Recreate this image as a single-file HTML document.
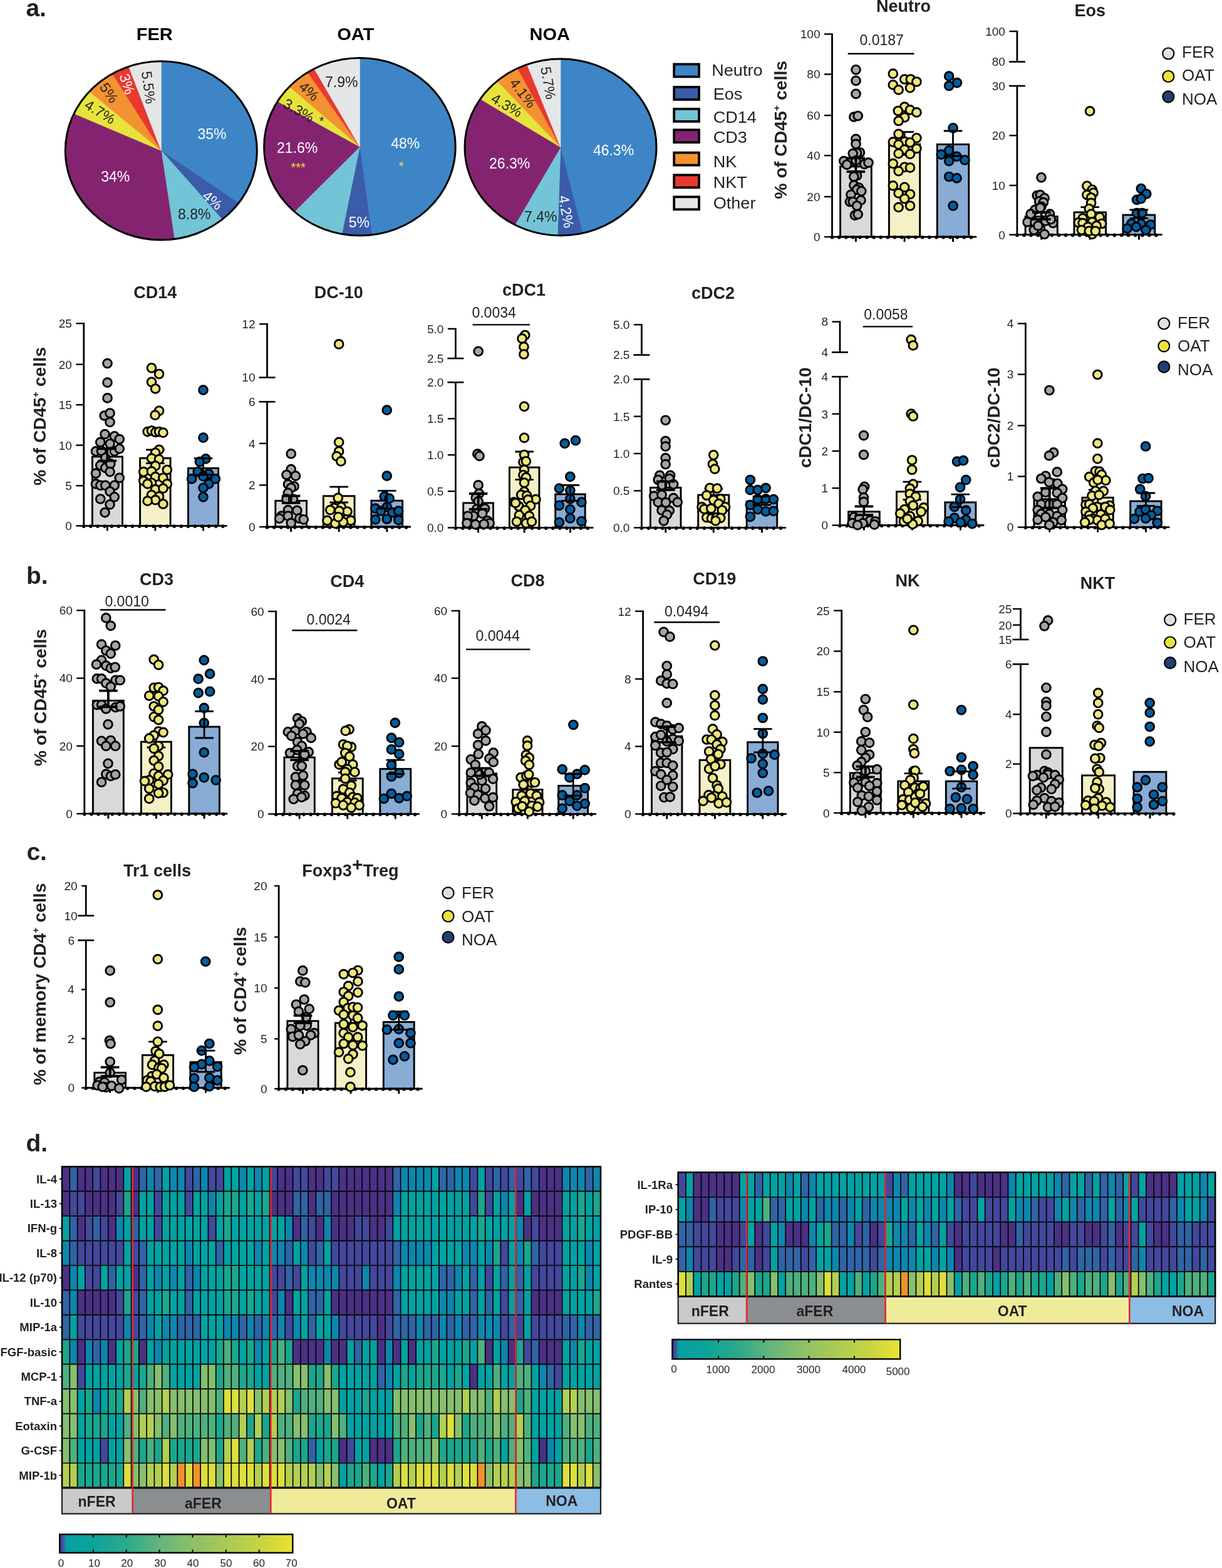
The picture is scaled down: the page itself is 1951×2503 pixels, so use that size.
<!DOCTYPE html><html><head><meta charset="utf-8"><title>Figure</title><style>html,body{margin:0;padding:0;background:#fff;}svg{display:block;}</style></head><body><svg xmlns="http://www.w3.org/2000/svg" width="1951" height="2503" viewBox="0 0 1951 2503" font-family="'Liberation Sans', Arial, sans-serif" fill="#231f20"><rect width="1951" height="2503" fill="#fff"/><text x="41.4" y="25.9" font-size="39" font-weight="bold">a.</text><text x="42" y="931.6" font-size="39" font-weight="bold">b.</text><text x="42.4" y="1373.4" font-size="39" font-weight="bold">c.</text><text x="41.4" y="1838.3" font-size="39" font-weight="bold">d.</text><text transform="matrix(1.075 0 0 1 246.8 63.7)" font-size="27" font-weight="bold" text-anchor="middle" fill="#000">FER</text><path d="M257.3 240.4L257.3 97.8A153 142.6 0 0 1 381.1 324.2Z" fill="#3d85c6" stroke="#3d85c6" stroke-width="0.6"/><path d="M257.3 240.4L381.1 324.2A153 142.6 0 0 1 354.8 350.3Z" fill="#3a5ca9" stroke="#3a5ca9" stroke-width="0.6"/><path d="M257.3 240.4L354.8 350.3A153 142.6 0 0 1 278.4 381.6Z" fill="#73c4d7" stroke="#73c4d7" stroke-width="0.6"/><path d="M257.3 240.4L278.4 381.6A153 142.6 0 0 1 118.1 181.3Z" fill="#842471" stroke="#842471" stroke-width="0.6"/><path d="M257.3 240.4L118.1 181.3A153 142.6 0 0 1 142.5 146.1Z" fill="#e8e33b" stroke="#e8e33b" stroke-width="0.6"/><path d="M257.3 240.4L142.5 146.1A153 142.6 0 0 1 179.4 117.7Z" fill="#f39231" stroke="#f39231" stroke-width="0.6"/><path d="M257.3 240.4L179.4 117.7A153 142.6 0 0 1 205.5 106.2Z" fill="#e8392f" stroke="#e8392f" stroke-width="0.6"/><path d="M257.3 240.4L205.5 106.2A153 142.6 0 0 1 257.3 97.8Z" fill="#e5e6e7" stroke="#e5e6e7" stroke-width="0.6"/><ellipse cx="257.3" cy="240.4" rx="153" ry="142.6" fill="none" stroke="#000" stroke-width="3"/><text transform="matrix(1.075 0 0 1 567.8 63.7)" font-size="27" font-weight="bold" text-anchor="middle" fill="#000">OAT</text><path d="M574.4 234.3L574.4 92.6A152.8 141.7 0 0 1 593.6 374.9Z" fill="#3d85c6" stroke="#3d85c6" stroke-width="0.6"/><path d="M574.4 234.3L593.6 374.9A152.8 141.7 0 0 1 545.8 373.5Z" fill="#3a5ca9" stroke="#3a5ca9" stroke-width="0.6"/><path d="M574.4 234.3L545.8 373.5A152.8 141.7 0 0 1 470.2 337.9Z" fill="#73c4d7" stroke="#73c4d7" stroke-width="0.6"/><path d="M574.4 234.3L470.2 337.9A152.8 141.7 0 0 1 443.1 161.8Z" fill="#842471" stroke="#842471" stroke-width="0.6"/><path d="M574.4 234.3L443.1 161.8A152.8 141.7 0 0 1 462 138.3Z" fill="#e8e33b" stroke="#e8e33b" stroke-width="0.6"/><path d="M574.4 234.3L462 138.3A152.8 141.7 0 0 1 491.3 115.4Z" fill="#f39231" stroke="#f39231" stroke-width="0.6"/><path d="M574.4 234.3L491.3 115.4A152.8 141.7 0 0 1 501.6 109.7Z" fill="#e8392f" stroke="#e8392f" stroke-width="0.6"/><path d="M574.4 234.3L501.6 109.7A152.8 141.7 0 0 1 574.4 92.6Z" fill="#e5e6e7" stroke="#e5e6e7" stroke-width="0.6"/><ellipse cx="574.4" cy="234.3" rx="152.8" ry="141.7" fill="none" stroke="#000" stroke-width="3"/><text transform="matrix(1.075 0 0 1 877.7 63.7)" font-size="27" font-weight="bold" text-anchor="middle" fill="#000">NOA</text><path d="M895 235L895 94A153 141 0 0 1 930.2 372.2Z" fill="#3d85c6" stroke="#3d85c6" stroke-width="0.6"/><path d="M895 235L930.2 372.2A153 141 0 0 1 890.2 375.9Z" fill="#3a5ca9" stroke="#3a5ca9" stroke-width="0.6"/><path d="M895 235L890.2 375.9A153 141 0 0 1 822.1 359Z" fill="#73c4d7" stroke="#73c4d7" stroke-width="0.6"/><path d="M895 235L822.1 359A153 141 0 0 1 766.9 158Z" fill="#842471" stroke="#842471" stroke-width="0.6"/><path d="M895 235L766.9 158A153 141 0 0 1 793.8 129.2Z" fill="#e8e33b" stroke="#e8e33b" stroke-width="0.6"/><path d="M895 235L793.8 129.2A153 141 0 0 1 826.4 109Z" fill="#f39231" stroke="#f39231" stroke-width="0.6"/><path d="M895 235L826.4 109A153 141 0 0 1 841.4 102.9Z" fill="#e8392f" stroke="#e8392f" stroke-width="0.6"/><path d="M895 235L841.4 102.9A153 141 0 0 1 895 94Z" fill="#e5e6e7" stroke="#e5e6e7" stroke-width="0.6"/><ellipse cx="895" cy="235" rx="153" ry="141" fill="none" stroke="#000" stroke-width="3"/><text x="338.4" y="221.9" font-size="23" text-anchor="middle" fill="#ffffff">35%</text><text x="184.3" y="290" font-size="23" text-anchor="middle" fill="#ffffff">34%</text><text x="310.2" y="350.2" font-size="23" text-anchor="middle">8.8%</text><text x="339.4" y="327.6" font-size="23" text-anchor="middle" fill="#ffffff" transform="rotate(40 339.4 319.6)">4%</text><text x="159.8" y="186.5" font-size="23" text-anchor="middle" transform="rotate(32 159.8 178.5)">4.7%</text><text x="174" y="156" font-size="23" text-anchor="middle" transform="rotate(55 174 148)">5%</text><text x="203" y="142" font-size="23" text-anchor="middle" fill="#ffffff" transform="rotate(72 203 134)">3%</text><text x="237.4" y="147.6" font-size="23" text-anchor="middle" transform="rotate(82 237.4 139.6)">5.5%</text><text x="647.2" y="237" font-size="23" text-anchor="middle" fill="#ffffff">48%</text><text x="474.7" y="244.4" font-size="23" text-anchor="middle" fill="#ffffff">21.6%</text><text x="573.4" y="362.9" font-size="23" text-anchor="middle" fill="#ffffff">5%</text><text x="545.2" y="138.7" font-size="23" text-anchor="middle">7.9%</text><text x="493.5" y="153.7" font-size="23" text-anchor="middle" transform="rotate(42 493.5 145.7)">4%</text><text x="477" y="184.3" font-size="23" text-anchor="middle" transform="rotate(30 477 176.3)">3.3%</text><text x="979.5" y="247.8" font-size="23" text-anchor="middle" fill="#ffffff">46.3%</text><text x="813.7" y="269.1" font-size="23" text-anchor="middle" fill="#ffffff">26.3%</text><text x="863.2" y="354.4" font-size="23" text-anchor="middle">7.4%</text><text x="904.2" y="345.7" font-size="23" text-anchor="middle" fill="#ffffff" transform="rotate(80 904.2 337.7)">4.2%</text><text x="809.2" y="176" font-size="23" text-anchor="middle" transform="rotate(30 809.2 168)">4.3%</text><text x="835" y="156.6" font-size="23" text-anchor="middle" transform="rotate(52 835 148.6)">4.1%</text><text x="875.5" y="140.5" font-size="23" text-anchor="middle" transform="rotate(80 875.5 132.5)">5.7%</text><text x="640.7" y="272" font-size="20" text-anchor="middle" fill="#f2e43a">*</text><text x="476.1" y="274" font-size="20" text-anchor="middle" fill="#f2e43a">***</text><text x="513.7" y="200" font-size="20" text-anchor="middle">*</text><rect x="1076.2" y="102.5" width="39.8" height="20" fill="#3d85c6" stroke="#000" stroke-width="3.8"/><text transform="matrix(1.04 0 0 1 1136.3 121.2)" font-size="26">Neutro</text><rect x="1076.2" y="139" width="39.8" height="20" fill="#3a5ca9" stroke="#000" stroke-width="3.8"/><text transform="matrix(1.04 0 0 1 1138.8 158.5)" font-size="26">Eos</text><rect x="1076.2" y="173.9" width="39.8" height="20" fill="#73c4d7" stroke="#000" stroke-width="3.8"/><text transform="matrix(1.04 0 0 1 1138.8 195.8)" font-size="26">CD14</text><rect x="1076.2" y="207.3" width="39.8" height="20" fill="#842471" stroke="#000" stroke-width="3.8"/><text transform="matrix(1.04 0 0 1 1138.8 228.3)" font-size="26">CD3</text><rect x="1076.2" y="243.7" width="39.8" height="20" fill="#f39231" stroke="#000" stroke-width="3.8"/><text transform="matrix(1.04 0 0 1 1138.8 267.2)" font-size="26">NK</text><rect x="1076.2" y="279.4" width="39.8" height="20" fill="#e8392f" stroke="#000" stroke-width="3.8"/><text transform="matrix(1.04 0 0 1 1138.8 299.7)" font-size="26">NKT</text><rect x="1076.2" y="314.3" width="39.8" height="20" fill="#e5e6e7" stroke="#000" stroke-width="3.8"/><text transform="matrix(1.04 0 0 1 1138.8 333)" font-size="26">Other</text><rect x="1341.6" y="265.8" width="49.7" height="112.3" fill="#d9d9d9" stroke="#000" stroke-width="2.9"/><rect x="1419.4" y="230.4" width="49.3" height="147.7" fill="#f6f0c7" stroke="#000" stroke-width="2.9"/><rect x="1496.3" y="230.5" width="50.5" height="147.6" fill="#88acd6" stroke="#000" stroke-width="2.9"/><line x1="1328.5" y1="53.2" x2="1328.5" y2="378.1" stroke="#000" stroke-width="2.8"/><line x1="1316" y1="54.4" x2="1328.5" y2="54.4" stroke="#000" stroke-width="2.4"/><text x="1309.5" y="61.2" font-size="19" text-anchor="end">100</text><line x1="1316" y1="118.5" x2="1328.5" y2="118.5" stroke="#000" stroke-width="2.4"/><text x="1309.5" y="125.3" font-size="19" text-anchor="end">80</text><line x1="1316" y1="184.2" x2="1328.5" y2="184.2" stroke="#000" stroke-width="2.4"/><text x="1309.5" y="191" font-size="19" text-anchor="end">60</text><line x1="1316" y1="248.3" x2="1328.5" y2="248.3" stroke="#000" stroke-width="2.4"/><text x="1309.5" y="255.1" font-size="19" text-anchor="end">40</text><line x1="1316" y1="314" x2="1328.5" y2="314" stroke="#000" stroke-width="2.4"/><text x="1309.5" y="320.8" font-size="19" text-anchor="end">20</text><line x1="1316" y1="378.1" x2="1328.5" y2="378.1" stroke="#000" stroke-width="2.4"/><text x="1309.5" y="384.9" font-size="19" text-anchor="end">0</text><line x1="1327.1" y1="378.1" x2="1559.3" y2="378.1" stroke="#000" stroke-width="2.8"/><circle cx="1328.5" cy="378.8" r="2.8" fill="#000"/><circle cx="1339.6" cy="378.8" r="2.8" fill="#000"/><circle cx="1350.7" cy="378.8" r="2.8" fill="#000"/><circle cx="1361.8" cy="378.8" r="2.8" fill="#000"/><circle cx="1372.9" cy="378.8" r="2.8" fill="#000"/><circle cx="1384" cy="378.8" r="2.8" fill="#000"/><circle cx="1395.1" cy="378.8" r="2.8" fill="#000"/><circle cx="1406.2" cy="378.8" r="2.8" fill="#000"/><circle cx="1417.3" cy="378.8" r="2.8" fill="#000"/><circle cx="1428.4" cy="378.8" r="2.8" fill="#000"/><circle cx="1439.5" cy="378.8" r="2.8" fill="#000"/><circle cx="1450.6" cy="378.8" r="2.8" fill="#000"/><circle cx="1461.7" cy="378.8" r="2.8" fill="#000"/><circle cx="1472.8" cy="378.8" r="2.8" fill="#000"/><circle cx="1483.9" cy="378.8" r="2.8" fill="#000"/><circle cx="1495" cy="378.8" r="2.8" fill="#000"/><circle cx="1506.1" cy="378.8" r="2.8" fill="#000"/><circle cx="1517.2" cy="378.8" r="2.8" fill="#000"/><circle cx="1528.3" cy="378.8" r="2.8" fill="#000"/><circle cx="1539.4" cy="378.8" r="2.8" fill="#000"/><circle cx="1550.5" cy="378.8" r="2.8" fill="#000"/><line x1="1366.4" y1="378.1" x2="1366.4" y2="386.1" stroke="#000" stroke-width="2.9"/><line x1="1444.1" y1="378.1" x2="1444.1" y2="386.1" stroke="#000" stroke-width="2.9"/><line x1="1521.5" y1="378.1" x2="1521.5" y2="386.1" stroke="#000" stroke-width="2.9"/><path d="M1444.1 210.7V247.3M1429.3 210.7H1458.9M1429.3 247.3H1458.9" stroke="#000" stroke-width="2.8" fill="none"/><circle cx="1366.5" cy="111.3" r="6.9" fill="#a4a5a8" stroke="#000" stroke-width="2.9"/><circle cx="1366.5" cy="128.9" r="6.9" fill="#a4a5a8" stroke="#000" stroke-width="2.9"/><circle cx="1366.5" cy="149.8" r="6.9" fill="#a4a5a8" stroke="#000" stroke-width="2.9"/><circle cx="1363.3" cy="186.6" r="6.9" fill="#a4a5a8" stroke="#000" stroke-width="2.9"/><circle cx="1369.7" cy="185" r="6.9" fill="#a4a5a8" stroke="#000" stroke-width="2.9"/><circle cx="1366.5" cy="221.9" r="6.9" fill="#a4a5a8" stroke="#000" stroke-width="2.9"/><circle cx="1366.5" cy="229.9" r="6.9" fill="#a4a5a8" stroke="#000" stroke-width="2.9"/><circle cx="1372.9" cy="243.5" r="6.9" fill="#a4a5a8" stroke="#000" stroke-width="2.9"/><circle cx="1368.1" cy="244.3" r="6.9" fill="#a4a5a8" stroke="#000" stroke-width="2.9"/><circle cx="1361.7" cy="245.1" r="6.9" fill="#a4a5a8" stroke="#000" stroke-width="2.9"/><circle cx="1347.2" cy="257.1" r="6.9" fill="#a4a5a8" stroke="#000" stroke-width="2.9"/><circle cx="1356.9" cy="259.6" r="6.9" fill="#a4a5a8" stroke="#000" stroke-width="2.9"/><circle cx="1366.5" cy="256.3" r="6.9" fill="#a4a5a8" stroke="#000" stroke-width="2.9"/><circle cx="1380.1" cy="262" r="6.9" fill="#a4a5a8" stroke="#000" stroke-width="2.9"/><circle cx="1386.5" cy="259.6" r="6.9" fill="#a4a5a8" stroke="#000" stroke-width="2.9"/><circle cx="1352.1" cy="262.8" r="6.9" fill="#a4a5a8" stroke="#000" stroke-width="2.9"/><circle cx="1368.1" cy="280.4" r="6.9" fill="#a4a5a8" stroke="#000" stroke-width="2.9"/><circle cx="1363.3" cy="282" r="6.9" fill="#a4a5a8" stroke="#000" stroke-width="2.9"/><circle cx="1363.3" cy="295.6" r="6.9" fill="#a4a5a8" stroke="#000" stroke-width="2.9"/><circle cx="1371.3" cy="299.6" r="6.9" fill="#a4a5a8" stroke="#000" stroke-width="2.9"/><circle cx="1368.1" cy="302.8" r="6.9" fill="#a4a5a8" stroke="#000" stroke-width="2.9"/><circle cx="1375.3" cy="305.2" r="6.9" fill="#a4a5a8" stroke="#000" stroke-width="2.9"/><circle cx="1358.5" cy="310.8" r="6.9" fill="#a4a5a8" stroke="#000" stroke-width="2.9"/><circle cx="1356.9" cy="322.1" r="6.9" fill="#a4a5a8" stroke="#000" stroke-width="2.9"/><circle cx="1361.7" cy="322.1" r="6.9" fill="#a4a5a8" stroke="#000" stroke-width="2.9"/><circle cx="1374.5" cy="319.6" r="6.9" fill="#a4a5a8" stroke="#000" stroke-width="2.9"/><circle cx="1368.1" cy="328.5" r="6.9" fill="#a4a5a8" stroke="#000" stroke-width="2.9"/><circle cx="1364.9" cy="343.7" r="6.9" fill="#a4a5a8" stroke="#000" stroke-width="2.9"/><circle cx="1369.7" cy="342.1" r="6.9" fill="#a4a5a8" stroke="#000" stroke-width="2.9"/><circle cx="1425.8" cy="117.7" r="6.9" fill="#efe77a" stroke="#000" stroke-width="2.9"/><circle cx="1444.2" cy="126.5" r="6.9" fill="#efe77a" stroke="#000" stroke-width="2.9"/><circle cx="1453.8" cy="126.5" r="6.9" fill="#efe77a" stroke="#000" stroke-width="2.9"/><circle cx="1463.4" cy="130.5" r="6.9" fill="#efe77a" stroke="#000" stroke-width="2.9"/><circle cx="1425.8" cy="135.4" r="6.9" fill="#efe77a" stroke="#000" stroke-width="2.9"/><circle cx="1434.6" cy="143.4" r="6.9" fill="#efe77a" stroke="#000" stroke-width="2.9"/><circle cx="1453" cy="140.2" r="6.9" fill="#efe77a" stroke="#000" stroke-width="2.9"/><circle cx="1444.2" cy="170.6" r="6.9" fill="#efe77a" stroke="#000" stroke-width="2.9"/><circle cx="1433.8" cy="177" r="6.9" fill="#efe77a" stroke="#000" stroke-width="2.9"/><circle cx="1453" cy="175.4" r="6.9" fill="#efe77a" stroke="#000" stroke-width="2.9"/><circle cx="1463.4" cy="179.4" r="6.9" fill="#efe77a" stroke="#000" stroke-width="2.9"/><circle cx="1444.2" cy="187.4" r="6.9" fill="#efe77a" stroke="#000" stroke-width="2.9"/><circle cx="1434.6" cy="193" r="6.9" fill="#efe77a" stroke="#000" stroke-width="2.9"/><circle cx="1434.6" cy="213.9" r="6.9" fill="#efe77a" stroke="#000" stroke-width="2.9"/><circle cx="1463.4" cy="220.3" r="6.9" fill="#efe77a" stroke="#000" stroke-width="2.9"/><circle cx="1425.8" cy="226.7" r="6.9" fill="#efe77a" stroke="#000" stroke-width="2.9"/><circle cx="1444.2" cy="225.9" r="6.9" fill="#efe77a" stroke="#000" stroke-width="2.9"/><circle cx="1453" cy="227.5" r="6.9" fill="#efe77a" stroke="#000" stroke-width="2.9"/><circle cx="1434.6" cy="230.7" r="6.9" fill="#efe77a" stroke="#000" stroke-width="2.9"/><circle cx="1444.2" cy="238.7" r="6.9" fill="#efe77a" stroke="#000" stroke-width="2.9"/><circle cx="1463.4" cy="237.1" r="6.9" fill="#efe77a" stroke="#000" stroke-width="2.9"/><circle cx="1434.6" cy="245.1" r="6.9" fill="#efe77a" stroke="#000" stroke-width="2.9"/><circle cx="1453" cy="245.9" r="6.9" fill="#efe77a" stroke="#000" stroke-width="2.9"/><circle cx="1425.8" cy="261.2" r="6.9" fill="#efe77a" stroke="#000" stroke-width="2.9"/><circle cx="1444.2" cy="266.8" r="6.9" fill="#efe77a" stroke="#000" stroke-width="2.9"/><circle cx="1453" cy="267.6" r="6.9" fill="#efe77a" stroke="#000" stroke-width="2.9"/><circle cx="1434.6" cy="273.2" r="6.9" fill="#efe77a" stroke="#000" stroke-width="2.9"/><circle cx="1425.8" cy="296.4" r="6.9" fill="#efe77a" stroke="#000" stroke-width="2.9"/><circle cx="1444.2" cy="298.8" r="6.9" fill="#efe77a" stroke="#000" stroke-width="2.9"/><circle cx="1434.6" cy="308.4" r="6.9" fill="#efe77a" stroke="#000" stroke-width="2.9"/><circle cx="1453" cy="310" r="6.9" fill="#efe77a" stroke="#000" stroke-width="2.9"/><circle cx="1444.2" cy="317.2" r="6.9" fill="#efe77a" stroke="#000" stroke-width="2.9"/><circle cx="1434.6" cy="330.9" r="6.9" fill="#efe77a" stroke="#000" stroke-width="2.9"/><circle cx="1453" cy="328.5" r="6.9" fill="#efe77a" stroke="#000" stroke-width="2.9"/><circle cx="1515.2" cy="121.7" r="6.9" fill="#035ea0" stroke="#000" stroke-width="2.9"/><circle cx="1528" cy="132.1" r="6.9" fill="#035ea0" stroke="#000" stroke-width="2.9"/><circle cx="1515.2" cy="137" r="6.9" fill="#035ea0" stroke="#000" stroke-width="2.9"/><circle cx="1521.6" cy="204.3" r="6.9" fill="#035ea0" stroke="#000" stroke-width="2.9"/><circle cx="1502.7" cy="246.7" r="6.9" fill="#035ea0" stroke="#000" stroke-width="2.9"/><circle cx="1515.2" cy="240.3" r="6.9" fill="#035ea0" stroke="#000" stroke-width="2.9"/><circle cx="1527.5" cy="249.9" r="6.9" fill="#035ea0" stroke="#000" stroke-width="2.9"/><circle cx="1515.2" cy="257.1" r="6.9" fill="#035ea0" stroke="#000" stroke-width="2.9"/><circle cx="1540.4" cy="255.5" r="6.9" fill="#035ea0" stroke="#000" stroke-width="2.9"/><circle cx="1515.2" cy="282" r="6.9" fill="#035ea0" stroke="#000" stroke-width="2.9"/><circle cx="1527.5" cy="284.4" r="6.9" fill="#035ea0" stroke="#000" stroke-width="2.9"/><circle cx="1521.6" cy="328.5" r="6.9" fill="#035ea0" stroke="#000" stroke-width="2.9"/><path d="M1366.4 252.3V274M1351.6 252.3H1381.2M1351.6 274H1381.2" stroke="#000" stroke-width="3.8" fill="none"/><path d="M1521.5 209V249M1506.8 209H1536.3M1506.8 249H1536.3" stroke="#000" stroke-width="2.8" fill="none"/><line x1="1353.7" y1="85.7" x2="1459.4" y2="85.7" stroke="#000" stroke-width="2.4"/><text x="1407.7" y="72" font-size="23" text-anchor="middle">0.0187</text><text x="1442.5" y="19.3" font-size="27" font-weight="bold" text-anchor="middle">Neutro</text><text x="1256.5" y="207.3" font-size="27" font-weight="bold" text-anchor="middle" textLength="221" lengthAdjust="spacingAndGlyphs" transform="rotate(-90 1256.5 207.3)">% of CD45<tspan font-size="15" dy="-11">+</tspan><tspan dy="11"> cells</tspan></text><rect x="1637.1" y="345.6" width="51.2" height="29.1" fill="#d9d9d9" stroke="#000" stroke-width="2.9"/><rect x="1715" y="338.9" width="50.5" height="35.8" fill="#f6f0c7" stroke="#000" stroke-width="2.9"/><rect x="1793" y="343.1" width="50.8" height="31.6" fill="#88acd6" stroke="#000" stroke-width="2.9"/><line x1="1623.9" y1="48.8" x2="1623.9" y2="98.6" stroke="#000" stroke-width="2.8"/><line x1="1623.9" y1="135.9" x2="1623.9" y2="374.7" stroke="#000" stroke-width="2.8"/><line x1="1611.4" y1="50" x2="1623.9" y2="50" stroke="#000" stroke-width="2.4"/><text x="1604.9" y="56.8" font-size="19" text-anchor="end">100</text><line x1="1610.9" y1="98.6" x2="1636.9" y2="98.6" stroke="#000" stroke-width="2.6"/><text x="1604.9" y="105.4" font-size="19" text-anchor="end">80</text><line x1="1610.9" y1="137.1" x2="1636.9" y2="137.1" stroke="#000" stroke-width="2.6"/><text x="1604.9" y="143.9" font-size="19" text-anchor="end">30</text><line x1="1611.4" y1="216.3" x2="1623.9" y2="216.3" stroke="#000" stroke-width="2.4"/><text x="1604.9" y="223.1" font-size="19" text-anchor="end">20</text><line x1="1611.4" y1="296" x2="1623.9" y2="296" stroke="#000" stroke-width="2.4"/><text x="1604.9" y="302.8" font-size="19" text-anchor="end">10</text><line x1="1611.4" y1="374.7" x2="1623.9" y2="374.7" stroke="#000" stroke-width="2.4"/><text x="1604.9" y="381.5" font-size="19" text-anchor="end">0</text><line x1="1622.5" y1="374.7" x2="1855.7" y2="374.7" stroke="#000" stroke-width="2.8"/><circle cx="1623.9" cy="375.4" r="2.8" fill="#000"/><circle cx="1635" cy="375.4" r="2.8" fill="#000"/><circle cx="1646.1" cy="375.4" r="2.8" fill="#000"/><circle cx="1657.2" cy="375.4" r="2.8" fill="#000"/><circle cx="1668.3" cy="375.4" r="2.8" fill="#000"/><circle cx="1679.4" cy="375.4" r="2.8" fill="#000"/><circle cx="1690.5" cy="375.4" r="2.8" fill="#000"/><circle cx="1701.6" cy="375.4" r="2.8" fill="#000"/><circle cx="1712.7" cy="375.4" r="2.8" fill="#000"/><circle cx="1723.8" cy="375.4" r="2.8" fill="#000"/><circle cx="1734.9" cy="375.4" r="2.8" fill="#000"/><circle cx="1746" cy="375.4" r="2.8" fill="#000"/><circle cx="1757.1" cy="375.4" r="2.8" fill="#000"/><circle cx="1768.2" cy="375.4" r="2.8" fill="#000"/><circle cx="1779.3" cy="375.4" r="2.8" fill="#000"/><circle cx="1790.4" cy="375.4" r="2.8" fill="#000"/><circle cx="1801.5" cy="375.4" r="2.8" fill="#000"/><circle cx="1812.6" cy="375.4" r="2.8" fill="#000"/><circle cx="1823.7" cy="375.4" r="2.8" fill="#000"/><circle cx="1834.8" cy="375.4" r="2.8" fill="#000"/><circle cx="1845.9" cy="375.4" r="2.8" fill="#000"/><line x1="1662.7" y1="374.7" x2="1662.7" y2="382.7" stroke="#000" stroke-width="2.9"/><line x1="1740.2" y1="374.7" x2="1740.2" y2="382.7" stroke="#000" stroke-width="2.9"/><line x1="1818.4" y1="374.7" x2="1818.4" y2="382.7" stroke="#000" stroke-width="2.9"/><path d="M1740.2 330.7V344.3M1725.5 330.7H1755M1725.5 344.3H1755" stroke="#000" stroke-width="2.8" fill="none"/><circle cx="1662.5" cy="283.3" r="6.9" fill="#a4a5a8" stroke="#000" stroke-width="2.9"/><circle cx="1655.7" cy="312.1" r="6.9" fill="#a4a5a8" stroke="#000" stroke-width="2.9"/><circle cx="1660.8" cy="311.2" r="6.9" fill="#a4a5a8" stroke="#000" stroke-width="2.9"/><circle cx="1667.6" cy="316.3" r="6.9" fill="#a4a5a8" stroke="#000" stroke-width="2.9"/><circle cx="1659.1" cy="321.4" r="6.9" fill="#a4a5a8" stroke="#000" stroke-width="2.9"/><circle cx="1665.9" cy="323.1" r="6.9" fill="#a4a5a8" stroke="#000" stroke-width="2.9"/><circle cx="1662.5" cy="329.9" r="6.9" fill="#a4a5a8" stroke="#000" stroke-width="2.9"/><circle cx="1652.4" cy="334.9" r="6.9" fill="#a4a5a8" stroke="#000" stroke-width="2.9"/><circle cx="1660.8" cy="331.6" r="6.9" fill="#a4a5a8" stroke="#000" stroke-width="2.9"/><circle cx="1676.1" cy="341.7" r="6.9" fill="#a4a5a8" stroke="#000" stroke-width="2.9"/><circle cx="1645.6" cy="341.7" r="6.9" fill="#a4a5a8" stroke="#000" stroke-width="2.9"/><circle cx="1640.5" cy="354.4" r="6.9" fill="#a4a5a8" stroke="#000" stroke-width="2.9"/><circle cx="1652.4" cy="355.3" r="6.9" fill="#a4a5a8" stroke="#000" stroke-width="2.9"/><circle cx="1669.3" cy="352.7" r="6.9" fill="#a4a5a8" stroke="#000" stroke-width="2.9"/><circle cx="1681.2" cy="356.1" r="6.9" fill="#a4a5a8" stroke="#000" stroke-width="2.9"/><circle cx="1660.8" cy="364.6" r="6.9" fill="#a4a5a8" stroke="#000" stroke-width="2.9"/><circle cx="1650.7" cy="367.1" r="6.9" fill="#a4a5a8" stroke="#000" stroke-width="2.9"/><circle cx="1667.6" cy="373.9" r="6.9" fill="#a4a5a8" stroke="#000" stroke-width="2.9"/><circle cx="1657.4" cy="360.4" r="6.9" fill="#a4a5a8" stroke="#000" stroke-width="2.9"/><circle cx="1677.8" cy="350.2" r="6.9" fill="#a4a5a8" stroke="#000" stroke-width="2.9"/><circle cx="1740.1" cy="177.4" r="6.9" fill="#efe77a" stroke="#000" stroke-width="2.9"/><circle cx="1735.4" cy="296.8" r="6.9" fill="#efe77a" stroke="#000" stroke-width="2.9"/><circle cx="1743.8" cy="302.8" r="6.9" fill="#efe77a" stroke="#000" stroke-width="2.9"/><circle cx="1745.5" cy="307.8" r="6.9" fill="#efe77a" stroke="#000" stroke-width="2.9"/><circle cx="1735.4" cy="311.2" r="6.9" fill="#efe77a" stroke="#000" stroke-width="2.9"/><circle cx="1742.1" cy="315.5" r="6.9" fill="#efe77a" stroke="#000" stroke-width="2.9"/><circle cx="1742.1" cy="323.9" r="6.9" fill="#efe77a" stroke="#000" stroke-width="2.9"/><circle cx="1738.8" cy="333.3" r="6.9" fill="#efe77a" stroke="#000" stroke-width="2.9"/><circle cx="1742.1" cy="341.7" r="6.9" fill="#efe77a" stroke="#000" stroke-width="2.9"/><circle cx="1755.7" cy="346.8" r="6.9" fill="#efe77a" stroke="#000" stroke-width="2.9"/><circle cx="1728.6" cy="348.5" r="6.9" fill="#efe77a" stroke="#000" stroke-width="2.9"/><circle cx="1721.8" cy="355.3" r="6.9" fill="#efe77a" stroke="#000" stroke-width="2.9"/><circle cx="1728.6" cy="356.1" r="6.9" fill="#efe77a" stroke="#000" stroke-width="2.9"/><circle cx="1743.8" cy="354.4" r="6.9" fill="#efe77a" stroke="#000" stroke-width="2.9"/><circle cx="1759.1" cy="357" r="6.9" fill="#efe77a" stroke="#000" stroke-width="2.9"/><circle cx="1750.6" cy="360.4" r="6.9" fill="#efe77a" stroke="#000" stroke-width="2.9"/><circle cx="1737.1" cy="362.1" r="6.9" fill="#efe77a" stroke="#000" stroke-width="2.9"/><circle cx="1726.9" cy="367.1" r="6.9" fill="#efe77a" stroke="#000" stroke-width="2.9"/><circle cx="1743.8" cy="373.9" r="6.9" fill="#efe77a" stroke="#000" stroke-width="2.9"/><circle cx="1738.8" cy="368.8" r="6.9" fill="#efe77a" stroke="#000" stroke-width="2.9"/><circle cx="1748.9" cy="368.8" r="6.9" fill="#efe77a" stroke="#000" stroke-width="2.9"/><circle cx="1821.8" cy="301.1" r="6.9" fill="#035ea0" stroke="#000" stroke-width="2.9"/><circle cx="1830.2" cy="309.5" r="6.9" fill="#035ea0" stroke="#000" stroke-width="2.9"/><circle cx="1815" cy="318.9" r="6.9" fill="#035ea0" stroke="#000" stroke-width="2.9"/><circle cx="1821.8" cy="317.2" r="6.9" fill="#035ea0" stroke="#000" stroke-width="2.9"/><circle cx="1815" cy="340" r="6.9" fill="#035ea0" stroke="#000" stroke-width="2.9"/><circle cx="1823.5" cy="340" r="6.9" fill="#035ea0" stroke="#000" stroke-width="2.9"/><circle cx="1806.5" cy="357" r="6.9" fill="#035ea0" stroke="#000" stroke-width="2.9"/><circle cx="1821.8" cy="357" r="6.9" fill="#035ea0" stroke="#000" stroke-width="2.9"/><circle cx="1837" cy="358.7" r="6.9" fill="#035ea0" stroke="#000" stroke-width="2.9"/><circle cx="1799.7" cy="364.6" r="6.9" fill="#035ea0" stroke="#000" stroke-width="2.9"/><circle cx="1814.1" cy="362.1" r="6.9" fill="#035ea0" stroke="#000" stroke-width="2.9"/><circle cx="1829.4" cy="367.1" r="6.9" fill="#035ea0" stroke="#000" stroke-width="2.9"/><path d="M1662.7 339V350M1647.9 339H1677.5M1647.9 350H1677.5" stroke="#000" stroke-width="3.8" fill="none"/><path d="M1818.4 335V348.5M1803.6 335H1833.2M1803.6 348.5H1833.2" stroke="#000" stroke-width="2.8" fill="none"/><text x="1740.3" y="25.8" font-size="27" font-weight="bold" text-anchor="middle">Eos</text><rect x="147.4" y="729" width="48.1" height="110.4" fill="#d9d9d9" stroke="#000" stroke-width="2.9"/><rect x="223.6" y="731.4" width="48.5" height="108" fill="#f6f0c7" stroke="#000" stroke-width="2.9"/><rect x="300.5" y="747.4" width="48.1" height="92" fill="#88acd6" stroke="#000" stroke-width="2.9"/><line x1="133.8" y1="515.1" x2="133.8" y2="839.4" stroke="#000" stroke-width="2.8"/><line x1="121.3" y1="516.3" x2="133.8" y2="516.3" stroke="#000" stroke-width="2.4"/><text x="114.8" y="523.1" font-size="19" text-anchor="end">25</text><line x1="121.3" y1="581.7" x2="133.8" y2="581.7" stroke="#000" stroke-width="2.4"/><text x="114.8" y="588.5" font-size="19" text-anchor="end">20</text><line x1="121.3" y1="646.2" x2="133.8" y2="646.2" stroke="#000" stroke-width="2.4"/><text x="114.8" y="653" font-size="19" text-anchor="end">15</text><line x1="121.3" y1="710.7" x2="133.8" y2="710.7" stroke="#000" stroke-width="2.4"/><text x="114.8" y="717.5" font-size="19" text-anchor="end">10</text><line x1="121.3" y1="775.3" x2="133.8" y2="775.3" stroke="#000" stroke-width="2.4"/><text x="114.8" y="782.1" font-size="19" text-anchor="end">5</text><line x1="121.3" y1="839.4" x2="133.8" y2="839.4" stroke="#000" stroke-width="2.4"/><text x="114.8" y="846.2" font-size="19" text-anchor="end">0</text><line x1="132.4" y1="839.4" x2="362.6" y2="839.4" stroke="#000" stroke-width="2.8"/><circle cx="133.8" cy="840.1" r="2.8" fill="#000"/><circle cx="144.9" cy="840.1" r="2.8" fill="#000"/><circle cx="156" cy="840.1" r="2.8" fill="#000"/><circle cx="167.1" cy="840.1" r="2.8" fill="#000"/><circle cx="178.2" cy="840.1" r="2.8" fill="#000"/><circle cx="189.3" cy="840.1" r="2.8" fill="#000"/><circle cx="200.4" cy="840.1" r="2.8" fill="#000"/><circle cx="211.5" cy="840.1" r="2.8" fill="#000"/><circle cx="222.6" cy="840.1" r="2.8" fill="#000"/><circle cx="233.7" cy="840.1" r="2.8" fill="#000"/><circle cx="244.8" cy="840.1" r="2.8" fill="#000"/><circle cx="255.9" cy="840.1" r="2.8" fill="#000"/><circle cx="267" cy="840.1" r="2.8" fill="#000"/><circle cx="278.1" cy="840.1" r="2.8" fill="#000"/><circle cx="289.2" cy="840.1" r="2.8" fill="#000"/><circle cx="300.3" cy="840.1" r="2.8" fill="#000"/><circle cx="311.4" cy="840.1" r="2.8" fill="#000"/><circle cx="322.5" cy="840.1" r="2.8" fill="#000"/><circle cx="333.6" cy="840.1" r="2.8" fill="#000"/><circle cx="344.7" cy="840.1" r="2.8" fill="#000"/><circle cx="355.8" cy="840.1" r="2.8" fill="#000"/><line x1="171.4" y1="839.4" x2="171.4" y2="847.4" stroke="#000" stroke-width="2.9"/><line x1="247.9" y1="839.4" x2="247.9" y2="847.4" stroke="#000" stroke-width="2.9"/><line x1="324.6" y1="839.4" x2="324.6" y2="847.4" stroke="#000" stroke-width="2.9"/><path d="M247.9 718V739.6M233.1 718H262.7M233.1 739.6H262.7" stroke="#000" stroke-width="2.8" fill="none"/><circle cx="171.5" cy="580.1" r="6.9" fill="#a4a5a8" stroke="#000" stroke-width="2.9"/><circle cx="171.5" cy="610.6" r="6.9" fill="#a4a5a8" stroke="#000" stroke-width="2.9"/><circle cx="171.5" cy="635.4" r="6.9" fill="#a4a5a8" stroke="#000" stroke-width="2.9"/><circle cx="166.7" cy="663.5" r="6.9" fill="#a4a5a8" stroke="#000" stroke-width="2.9"/><circle cx="175.5" cy="659.5" r="6.9" fill="#a4a5a8" stroke="#000" stroke-width="2.9"/><circle cx="175.5" cy="673.9" r="6.9" fill="#a4a5a8" stroke="#000" stroke-width="2.9"/><circle cx="167.5" cy="693.1" r="6.9" fill="#a4a5a8" stroke="#000" stroke-width="2.9"/><circle cx="182.7" cy="696.3" r="6.9" fill="#a4a5a8" stroke="#000" stroke-width="2.9"/><circle cx="190.7" cy="701.1" r="6.9" fill="#a4a5a8" stroke="#000" stroke-width="2.9"/><circle cx="160.3" cy="705.9" r="6.9" fill="#a4a5a8" stroke="#000" stroke-width="2.9"/><circle cx="175.5" cy="708.3" r="6.9" fill="#a4a5a8" stroke="#000" stroke-width="2.9"/><circle cx="153" cy="720.4" r="6.9" fill="#a4a5a8" stroke="#000" stroke-width="2.9"/><circle cx="161.9" cy="719.6" r="6.9" fill="#a4a5a8" stroke="#000" stroke-width="2.9"/><circle cx="182.7" cy="720.4" r="6.9" fill="#a4a5a8" stroke="#000" stroke-width="2.9"/><circle cx="190.7" cy="716.3" r="6.9" fill="#a4a5a8" stroke="#000" stroke-width="2.9"/><circle cx="168.3" cy="730.8" r="6.9" fill="#a4a5a8" stroke="#000" stroke-width="2.9"/><circle cx="160.3" cy="742.8" r="6.9" fill="#a4a5a8" stroke="#000" stroke-width="2.9"/><circle cx="168.3" cy="746.8" r="6.9" fill="#a4a5a8" stroke="#000" stroke-width="2.9"/><circle cx="176.3" cy="740.4" r="6.9" fill="#a4a5a8" stroke="#000" stroke-width="2.9"/><circle cx="153" cy="755.6" r="6.9" fill="#a4a5a8" stroke="#000" stroke-width="2.9"/><circle cx="175.5" cy="753.2" r="6.9" fill="#a4a5a8" stroke="#000" stroke-width="2.9"/><circle cx="190.7" cy="762.8" r="6.9" fill="#a4a5a8" stroke="#000" stroke-width="2.9"/><circle cx="153" cy="772.4" r="6.9" fill="#a4a5a8" stroke="#000" stroke-width="2.9"/><circle cx="160.3" cy="774.8" r="6.9" fill="#a4a5a8" stroke="#000" stroke-width="2.9"/><circle cx="168.3" cy="774.8" r="6.9" fill="#a4a5a8" stroke="#000" stroke-width="2.9"/><circle cx="182.7" cy="774.8" r="6.9" fill="#a4a5a8" stroke="#000" stroke-width="2.9"/><circle cx="175.5" cy="784.5" r="6.9" fill="#a4a5a8" stroke="#000" stroke-width="2.9"/><circle cx="182.7" cy="793.3" r="6.9" fill="#a4a5a8" stroke="#000" stroke-width="2.9"/><circle cx="160.3" cy="796.5" r="6.9" fill="#a4a5a8" stroke="#000" stroke-width="2.9"/><circle cx="175.5" cy="805.3" r="6.9" fill="#a4a5a8" stroke="#000" stroke-width="2.9"/><circle cx="167.5" cy="818.1" r="6.9" fill="#a4a5a8" stroke="#000" stroke-width="2.9"/><circle cx="242" cy="587.3" r="6.9" fill="#efe77a" stroke="#000" stroke-width="2.9"/><circle cx="254" cy="597" r="6.9" fill="#efe77a" stroke="#000" stroke-width="2.9"/><circle cx="242" cy="609.8" r="6.9" fill="#efe77a" stroke="#000" stroke-width="2.9"/><circle cx="248.1" cy="620.5" r="6.9" fill="#efe77a" stroke="#000" stroke-width="2.9"/><circle cx="254" cy="655.8" r="6.9" fill="#efe77a" stroke="#000" stroke-width="2.9"/><circle cx="247.6" cy="662.7" r="6.9" fill="#efe77a" stroke="#000" stroke-width="2.9"/><circle cx="235.6" cy="689.1" r="6.9" fill="#efe77a" stroke="#000" stroke-width="2.9"/><circle cx="242" cy="687.5" r="6.9" fill="#efe77a" stroke="#000" stroke-width="2.9"/><circle cx="248.4" cy="689.9" r="6.9" fill="#efe77a" stroke="#000" stroke-width="2.9"/><circle cx="254" cy="689.1" r="6.9" fill="#efe77a" stroke="#000" stroke-width="2.9"/><circle cx="260.4" cy="690.7" r="6.9" fill="#efe77a" stroke="#000" stroke-width="2.9"/><circle cx="254" cy="717.9" r="6.9" fill="#efe77a" stroke="#000" stroke-width="2.9"/><circle cx="248.1" cy="722.8" r="6.9" fill="#efe77a" stroke="#000" stroke-width="2.9"/><circle cx="242" cy="731.6" r="6.9" fill="#efe77a" stroke="#000" stroke-width="2.9"/><circle cx="254" cy="733.2" r="6.9" fill="#efe77a" stroke="#000" stroke-width="2.9"/><circle cx="248.1" cy="743.6" r="6.9" fill="#efe77a" stroke="#000" stroke-width="2.9"/><circle cx="229.2" cy="753.2" r="6.9" fill="#efe77a" stroke="#000" stroke-width="2.9"/><circle cx="242" cy="752.4" r="6.9" fill="#efe77a" stroke="#000" stroke-width="2.9"/><circle cx="266.8" cy="750" r="6.9" fill="#efe77a" stroke="#000" stroke-width="2.9"/><circle cx="248.1" cy="761.2" r="6.9" fill="#efe77a" stroke="#000" stroke-width="2.9"/><circle cx="260.4" cy="762.8" r="6.9" fill="#efe77a" stroke="#000" stroke-width="2.9"/><circle cx="229.2" cy="767.6" r="6.9" fill="#efe77a" stroke="#000" stroke-width="2.9"/><circle cx="242" cy="770.8" r="6.9" fill="#efe77a" stroke="#000" stroke-width="2.9"/><circle cx="266.8" cy="772.4" r="6.9" fill="#efe77a" stroke="#000" stroke-width="2.9"/><circle cx="235.6" cy="772.4" r="6.9" fill="#efe77a" stroke="#000" stroke-width="2.9"/><circle cx="248.1" cy="781.2" r="6.9" fill="#efe77a" stroke="#000" stroke-width="2.9"/><circle cx="260.4" cy="779.6" r="6.9" fill="#efe77a" stroke="#000" stroke-width="2.9"/><circle cx="242" cy="790.1" r="6.9" fill="#efe77a" stroke="#000" stroke-width="2.9"/><circle cx="254" cy="792.5" r="6.9" fill="#efe77a" stroke="#000" stroke-width="2.9"/><circle cx="248.1" cy="798.1" r="6.9" fill="#efe77a" stroke="#000" stroke-width="2.9"/><circle cx="235.6" cy="799.7" r="6.9" fill="#efe77a" stroke="#000" stroke-width="2.9"/><circle cx="260.4" cy="804.5" r="6.9" fill="#efe77a" stroke="#000" stroke-width="2.9"/><circle cx="324.5" cy="622.6" r="6.9" fill="#035ea0" stroke="#000" stroke-width="2.9"/><circle cx="324.5" cy="698.7" r="6.9" fill="#035ea0" stroke="#000" stroke-width="2.9"/><circle cx="328.5" cy="732.4" r="6.9" fill="#035ea0" stroke="#000" stroke-width="2.9"/><circle cx="318.9" cy="737.2" r="6.9" fill="#035ea0" stroke="#000" stroke-width="2.9"/><circle cx="315.7" cy="753.2" r="6.9" fill="#035ea0" stroke="#000" stroke-width="2.9"/><circle cx="333.3" cy="756.4" r="6.9" fill="#035ea0" stroke="#000" stroke-width="2.9"/><circle cx="306.1" cy="764.4" r="6.9" fill="#035ea0" stroke="#000" stroke-width="2.9"/><circle cx="324.5" cy="760.4" r="6.9" fill="#035ea0" stroke="#000" stroke-width="2.9"/><circle cx="343.8" cy="764.4" r="6.9" fill="#035ea0" stroke="#000" stroke-width="2.9"/><circle cx="333.3" cy="772.4" r="6.9" fill="#035ea0" stroke="#000" stroke-width="2.9"/><circle cx="324.5" cy="778.8" r="6.9" fill="#035ea0" stroke="#000" stroke-width="2.9"/><circle cx="324.5" cy="793.3" r="6.9" fill="#035ea0" stroke="#000" stroke-width="2.9"/><path d="M171.4 716.3V735.6M156.6 716.3H186.2M156.6 735.6H186.2" stroke="#000" stroke-width="3.8" fill="none"/><path d="M324.6 731.6V758M309.8 731.6H339.4M309.8 758H339.4" stroke="#000" stroke-width="2.8" fill="none"/><text x="247.8" y="476" font-size="27" font-weight="bold" text-anchor="middle">CD14</text><text x="73" y="664.5" font-size="27" font-weight="bold" text-anchor="middle" textLength="221" lengthAdjust="spacingAndGlyphs" transform="rotate(-90 73 664.5)">% of CD45<tspan font-size="15" dy="-11">+</tspan><tspan dy="11"> cells</tspan></text><rect x="439.8" y="799.4" width="49.7" height="41.6" fill="#d9d9d9" stroke="#000" stroke-width="2.9"/><rect x="516.3" y="791.8" width="49.7" height="49.2" fill="#f6f0c7" stroke="#000" stroke-width="2.9"/><rect x="592.9" y="799.2" width="49.7" height="41.8" fill="#88acd6" stroke="#000" stroke-width="2.9"/><line x1="426.5" y1="516.1" x2="426.5" y2="602.6" stroke="#000" stroke-width="2.8"/><line x1="426.5" y1="640.1" x2="426.5" y2="841" stroke="#000" stroke-width="2.8"/><line x1="414" y1="517.3" x2="426.5" y2="517.3" stroke="#000" stroke-width="2.4"/><text x="407.5" y="524.1" font-size="19" text-anchor="end">12</text><line x1="413.5" y1="602.6" x2="439.5" y2="602.6" stroke="#000" stroke-width="2.6"/><text x="407.5" y="609.4" font-size="19" text-anchor="end">10</text><line x1="413.5" y1="641.3" x2="439.5" y2="641.3" stroke="#000" stroke-width="2.6"/><text x="407.5" y="648.1" font-size="19" text-anchor="end">6</text><line x1="414" y1="707.9" x2="426.5" y2="707.9" stroke="#000" stroke-width="2.4"/><text x="407.5" y="714.7" font-size="19" text-anchor="end">4</text><line x1="414" y1="774.4" x2="426.5" y2="774.4" stroke="#000" stroke-width="2.4"/><text x="407.5" y="781.2" font-size="19" text-anchor="end">2</text><line x1="414" y1="841" x2="426.5" y2="841" stroke="#000" stroke-width="2.4"/><text x="407.5" y="847.8" font-size="19" text-anchor="end">0</text><line x1="425.1" y1="841" x2="656" y2="841" stroke="#000" stroke-width="2.8"/><circle cx="426.5" cy="841.7" r="2.8" fill="#000"/><circle cx="437.6" cy="841.7" r="2.8" fill="#000"/><circle cx="448.7" cy="841.7" r="2.8" fill="#000"/><circle cx="459.8" cy="841.7" r="2.8" fill="#000"/><circle cx="470.9" cy="841.7" r="2.8" fill="#000"/><circle cx="482" cy="841.7" r="2.8" fill="#000"/><circle cx="493.1" cy="841.7" r="2.8" fill="#000"/><circle cx="504.2" cy="841.7" r="2.8" fill="#000"/><circle cx="515.3" cy="841.7" r="2.8" fill="#000"/><circle cx="526.4" cy="841.7" r="2.8" fill="#000"/><circle cx="537.5" cy="841.7" r="2.8" fill="#000"/><circle cx="548.6" cy="841.7" r="2.8" fill="#000"/><circle cx="559.7" cy="841.7" r="2.8" fill="#000"/><circle cx="570.8" cy="841.7" r="2.8" fill="#000"/><circle cx="581.9" cy="841.7" r="2.8" fill="#000"/><circle cx="593" cy="841.7" r="2.8" fill="#000"/><circle cx="604.1" cy="841.7" r="2.8" fill="#000"/><circle cx="615.2" cy="841.7" r="2.8" fill="#000"/><circle cx="626.3" cy="841.7" r="2.8" fill="#000"/><circle cx="637.4" cy="841.7" r="2.8" fill="#000"/><circle cx="648.5" cy="841.7" r="2.8" fill="#000"/><line x1="464.6" y1="841" x2="464.6" y2="849" stroke="#000" stroke-width="2.9"/><line x1="541.1" y1="841" x2="541.1" y2="849" stroke="#000" stroke-width="2.9"/><line x1="617.8" y1="841" x2="617.8" y2="849" stroke="#000" stroke-width="2.9"/><path d="M541.1 777.2V802M526.4 777.2H555.9M526.4 802H555.9" stroke="#000" stroke-width="2.8" fill="none"/><circle cx="464.7" cy="724.4" r="6.9" fill="#a4a5a8" stroke="#000" stroke-width="2.9"/><circle cx="464.7" cy="749.2" r="6.9" fill="#a4a5a8" stroke="#000" stroke-width="2.9"/><circle cx="457.5" cy="758" r="6.9" fill="#a4a5a8" stroke="#000" stroke-width="2.9"/><circle cx="471.9" cy="759.6" r="6.9" fill="#a4a5a8" stroke="#000" stroke-width="2.9"/><circle cx="459.9" cy="773.2" r="6.9" fill="#a4a5a8" stroke="#000" stroke-width="2.9"/><circle cx="469.5" cy="776.4" r="6.9" fill="#a4a5a8" stroke="#000" stroke-width="2.9"/><circle cx="464.7" cy="778.8" r="6.9" fill="#a4a5a8" stroke="#000" stroke-width="2.9"/><circle cx="459.9" cy="786.9" r="6.9" fill="#a4a5a8" stroke="#000" stroke-width="2.9"/><circle cx="457.5" cy="796.5" r="6.9" fill="#a4a5a8" stroke="#000" stroke-width="2.9"/><circle cx="467.9" cy="796.5" r="6.9" fill="#a4a5a8" stroke="#000" stroke-width="2.9"/><circle cx="459.9" cy="814.1" r="6.9" fill="#a4a5a8" stroke="#000" stroke-width="2.9"/><circle cx="474.3" cy="814.9" r="6.9" fill="#a4a5a8" stroke="#000" stroke-width="2.9"/><circle cx="449.5" cy="823.7" r="6.9" fill="#a4a5a8" stroke="#000" stroke-width="2.9"/><circle cx="459.9" cy="823.7" r="6.9" fill="#a4a5a8" stroke="#000" stroke-width="2.9"/><circle cx="446.2" cy="827.7" r="6.9" fill="#a4a5a8" stroke="#000" stroke-width="2.9"/><circle cx="478.3" cy="827.7" r="6.9" fill="#a4a5a8" stroke="#000" stroke-width="2.9"/><circle cx="484.7" cy="829.3" r="6.9" fill="#a4a5a8" stroke="#000" stroke-width="2.9"/><circle cx="464.7" cy="834.9" r="6.9" fill="#a4a5a8" stroke="#000" stroke-width="2.9"/><circle cx="541.1" cy="549.4" r="6.9" fill="#efe77a" stroke="#000" stroke-width="2.9"/><circle cx="541.1" cy="705.9" r="6.9" fill="#efe77a" stroke="#000" stroke-width="2.9"/><circle cx="541.1" cy="720.4" r="6.9" fill="#efe77a" stroke="#000" stroke-width="2.9"/><circle cx="537.6" cy="728.4" r="6.9" fill="#efe77a" stroke="#000" stroke-width="2.9"/><circle cx="544.3" cy="736.4" r="6.9" fill="#efe77a" stroke="#000" stroke-width="2.9"/><circle cx="539.7" cy="794.9" r="6.9" fill="#efe77a" stroke="#000" stroke-width="2.9"/><circle cx="544.8" cy="809.3" r="6.9" fill="#efe77a" stroke="#000" stroke-width="2.9"/><circle cx="533.6" cy="810.9" r="6.9" fill="#efe77a" stroke="#000" stroke-width="2.9"/><circle cx="527.2" cy="814.1" r="6.9" fill="#efe77a" stroke="#000" stroke-width="2.9"/><circle cx="554.4" cy="816.5" r="6.9" fill="#efe77a" stroke="#000" stroke-width="2.9"/><circle cx="541.6" cy="815.7" r="6.9" fill="#efe77a" stroke="#000" stroke-width="2.9"/><circle cx="522.4" cy="830.9" r="6.9" fill="#efe77a" stroke="#000" stroke-width="2.9"/><circle cx="535.2" cy="835.7" r="6.9" fill="#efe77a" stroke="#000" stroke-width="2.9"/><circle cx="552.8" cy="829.3" r="6.9" fill="#efe77a" stroke="#000" stroke-width="2.9"/><circle cx="560" cy="830.9" r="6.9" fill="#efe77a" stroke="#000" stroke-width="2.9"/><circle cx="548" cy="833.3" r="6.9" fill="#efe77a" stroke="#000" stroke-width="2.9"/><circle cx="540" cy="825.3" r="6.9" fill="#efe77a" stroke="#000" stroke-width="2.9"/><circle cx="617.7" cy="654.6" r="6.9" fill="#035ea0" stroke="#000" stroke-width="2.9"/><circle cx="617.7" cy="759.6" r="6.9" fill="#035ea0" stroke="#000" stroke-width="2.9"/><circle cx="613.7" cy="792.5" r="6.9" fill="#035ea0" stroke="#000" stroke-width="2.9"/><circle cx="621.7" cy="795.7" r="6.9" fill="#035ea0" stroke="#000" stroke-width="2.9"/><circle cx="599.3" cy="811.7" r="6.9" fill="#035ea0" stroke="#000" stroke-width="2.9"/><circle cx="617.7" cy="809.3" r="6.9" fill="#035ea0" stroke="#000" stroke-width="2.9"/><circle cx="608.1" cy="815.7" r="6.9" fill="#035ea0" stroke="#000" stroke-width="2.9"/><circle cx="626.5" cy="818.1" r="6.9" fill="#035ea0" stroke="#000" stroke-width="2.9"/><circle cx="636.2" cy="815.7" r="6.9" fill="#035ea0" stroke="#000" stroke-width="2.9"/><circle cx="599.3" cy="829.3" r="6.9" fill="#035ea0" stroke="#000" stroke-width="2.9"/><circle cx="617.7" cy="828.5" r="6.9" fill="#035ea0" stroke="#000" stroke-width="2.9"/><circle cx="636.2" cy="830.1" r="6.9" fill="#035ea0" stroke="#000" stroke-width="2.9"/><path d="M464.6 791.7V802.9M449.8 791.7H479.4M449.8 802.9H479.4" stroke="#000" stroke-width="3.8" fill="none"/><path d="M617.8 783.3V812M603 783.3H632.5M603 812H632.5" stroke="#000" stroke-width="2.8" fill="none"/><text x="540.8" y="475.8" font-size="27" font-weight="bold" text-anchor="middle">DC-10</text><rect x="739.7" y="802.9" width="47.8" height="39.5" fill="#d9d9d9" stroke="#000" stroke-width="2.9"/><rect x="813.4" y="746.1" width="47.5" height="96.3" fill="#f6f0c7" stroke="#000" stroke-width="2.9"/><rect x="886.7" y="788.9" width="47.5" height="53.5" fill="#88acd6" stroke="#000" stroke-width="2.9"/><line x1="727.4" y1="523.7" x2="727.4" y2="572.1" stroke="#000" stroke-width="2.8"/><line x1="727.4" y1="609.1" x2="727.4" y2="842.4" stroke="#000" stroke-width="2.8"/><line x1="714.9" y1="524.9" x2="727.4" y2="524.9" stroke="#000" stroke-width="2.4"/><text x="708.4" y="531.7" font-size="19" text-anchor="end">5.0</text><line x1="714.4" y1="572.1" x2="740.4" y2="572.1" stroke="#000" stroke-width="2.6"/><text x="708.4" y="578.9" font-size="19" text-anchor="end">2.5</text><line x1="714.4" y1="610.3" x2="740.4" y2="610.3" stroke="#000" stroke-width="2.6"/><text x="708.4" y="617.1" font-size="19" text-anchor="end">2.0</text><line x1="714.9" y1="668.3" x2="727.4" y2="668.3" stroke="#000" stroke-width="2.4"/><text x="708.4" y="675.1" font-size="19" text-anchor="end">1.5</text><line x1="714.9" y1="726.2" x2="727.4" y2="726.2" stroke="#000" stroke-width="2.4"/><text x="708.4" y="733" font-size="19" text-anchor="end">1.0</text><line x1="714.9" y1="784.2" x2="727.4" y2="784.2" stroke="#000" stroke-width="2.4"/><text x="708.4" y="791" font-size="19" text-anchor="end">0.5</text><line x1="714.9" y1="842.4" x2="727.4" y2="842.4" stroke="#000" stroke-width="2.4"/><text x="708.4" y="849.2" font-size="19" text-anchor="end">0.0</text><line x1="726" y1="842.4" x2="947.4" y2="842.4" stroke="#000" stroke-width="2.8"/><circle cx="727.4" cy="843.1" r="2.8" fill="#000"/><circle cx="738.5" cy="843.1" r="2.8" fill="#000"/><circle cx="749.6" cy="843.1" r="2.8" fill="#000"/><circle cx="760.7" cy="843.1" r="2.8" fill="#000"/><circle cx="771.8" cy="843.1" r="2.8" fill="#000"/><circle cx="782.9" cy="843.1" r="2.8" fill="#000"/><circle cx="794" cy="843.1" r="2.8" fill="#000"/><circle cx="805.1" cy="843.1" r="2.8" fill="#000"/><circle cx="816.2" cy="843.1" r="2.8" fill="#000"/><circle cx="827.3" cy="843.1" r="2.8" fill="#000"/><circle cx="838.4" cy="843.1" r="2.8" fill="#000"/><circle cx="849.5" cy="843.1" r="2.8" fill="#000"/><circle cx="860.6" cy="843.1" r="2.8" fill="#000"/><circle cx="871.7" cy="843.1" r="2.8" fill="#000"/><circle cx="882.8" cy="843.1" r="2.8" fill="#000"/><circle cx="893.9" cy="843.1" r="2.8" fill="#000"/><circle cx="905" cy="843.1" r="2.8" fill="#000"/><circle cx="916.1" cy="843.1" r="2.8" fill="#000"/><circle cx="927.2" cy="843.1" r="2.8" fill="#000"/><circle cx="938.3" cy="843.1" r="2.8" fill="#000"/><line x1="763.6" y1="842.4" x2="763.6" y2="850.4" stroke="#000" stroke-width="2.9"/><line x1="837.1" y1="842.4" x2="837.1" y2="850.4" stroke="#000" stroke-width="2.9"/><line x1="910.5" y1="842.4" x2="910.5" y2="850.4" stroke="#000" stroke-width="2.9"/><path d="M837.1 721V765.6M822.4 721H851.9M822.4 765.6H851.9" stroke="#000" stroke-width="2.8" fill="none"/><circle cx="763.7" cy="560.8" r="6.9" fill="#a4a5a8" stroke="#000" stroke-width="2.9"/><circle cx="762.3" cy="724.7" r="6.9" fill="#a4a5a8" stroke="#000" stroke-width="2.9"/><circle cx="765.5" cy="727.9" r="6.9" fill="#a4a5a8" stroke="#000" stroke-width="2.9"/><circle cx="763.6" cy="774.4" r="6.9" fill="#a4a5a8" stroke="#000" stroke-width="2.9"/><circle cx="764.9" cy="788" r="6.9" fill="#a4a5a8" stroke="#000" stroke-width="2.9"/><circle cx="759.7" cy="794.5" r="6.9" fill="#a4a5a8" stroke="#000" stroke-width="2.9"/><circle cx="763.6" cy="800.3" r="6.9" fill="#a4a5a8" stroke="#000" stroke-width="2.9"/><circle cx="761" cy="812.6" r="6.9" fill="#a4a5a8" stroke="#000" stroke-width="2.9"/><circle cx="774" cy="811.9" r="6.9" fill="#a4a5a8" stroke="#000" stroke-width="2.9"/><circle cx="755.9" cy="823.6" r="6.9" fill="#a4a5a8" stroke="#000" stroke-width="2.9"/><circle cx="746.8" cy="823.6" r="6.9" fill="#a4a5a8" stroke="#000" stroke-width="2.9"/><circle cx="770.1" cy="819.7" r="6.9" fill="#a4a5a8" stroke="#000" stroke-width="2.9"/><circle cx="745.5" cy="835.2" r="6.9" fill="#a4a5a8" stroke="#000" stroke-width="2.9"/><circle cx="759.1" cy="837.1" r="6.9" fill="#a4a5a8" stroke="#000" stroke-width="2.9"/><circle cx="778.5" cy="831.3" r="6.9" fill="#a4a5a8" stroke="#000" stroke-width="2.9"/><circle cx="781.7" cy="835.2" r="6.9" fill="#a4a5a8" stroke="#000" stroke-width="2.9"/><circle cx="772.7" cy="836.5" r="6.9" fill="#a4a5a8" stroke="#000" stroke-width="2.9"/><circle cx="838.2" cy="535" r="6.9" fill="#efe77a" stroke="#000" stroke-width="2.9"/><circle cx="833.5" cy="540.4" r="6.9" fill="#efe77a" stroke="#000" stroke-width="2.9"/><circle cx="836.4" cy="553.7" r="6.9" fill="#efe77a" stroke="#000" stroke-width="2.9"/><circle cx="836.4" cy="565.5" r="6.9" fill="#efe77a" stroke="#000" stroke-width="2.9"/><circle cx="837" cy="648.8" r="6.9" fill="#efe77a" stroke="#000" stroke-width="2.9"/><circle cx="837" cy="698.8" r="6.9" fill="#efe77a" stroke="#000" stroke-width="2.9"/><circle cx="837" cy="726" r="6.9" fill="#efe77a" stroke="#000" stroke-width="2.9"/><circle cx="835.4" cy="737.6" r="6.9" fill="#efe77a" stroke="#000" stroke-width="2.9"/><circle cx="839.9" cy="736.3" r="6.9" fill="#efe77a" stroke="#000" stroke-width="2.9"/><circle cx="837" cy="749.9" r="6.9" fill="#efe77a" stroke="#000" stroke-width="2.9"/><circle cx="835.4" cy="758.3" r="6.9" fill="#efe77a" stroke="#000" stroke-width="2.9"/><circle cx="839.9" cy="762.2" r="6.9" fill="#efe77a" stroke="#000" stroke-width="2.9"/><circle cx="837" cy="770.6" r="6.9" fill="#efe77a" stroke="#000" stroke-width="2.9"/><circle cx="837" cy="784.8" r="6.9" fill="#efe77a" stroke="#000" stroke-width="2.9"/><circle cx="832.1" cy="789.9" r="6.9" fill="#efe77a" stroke="#000" stroke-width="2.9"/><circle cx="841.2" cy="791.2" r="6.9" fill="#efe77a" stroke="#000" stroke-width="2.9"/><circle cx="820.5" cy="801.6" r="6.9" fill="#efe77a" stroke="#000" stroke-width="2.9"/><circle cx="855.4" cy="797.1" r="6.9" fill="#efe77a" stroke="#000" stroke-width="2.9"/><circle cx="843.1" cy="797.7" r="6.9" fill="#efe77a" stroke="#000" stroke-width="2.9"/><circle cx="828.2" cy="808" r="6.9" fill="#efe77a" stroke="#000" stroke-width="2.9"/><circle cx="847" cy="807.4" r="6.9" fill="#efe77a" stroke="#000" stroke-width="2.9"/><circle cx="838.6" cy="814.5" r="6.9" fill="#efe77a" stroke="#000" stroke-width="2.9"/><circle cx="828.9" cy="822.3" r="6.9" fill="#efe77a" stroke="#000" stroke-width="2.9"/><circle cx="845" cy="823.6" r="6.9" fill="#efe77a" stroke="#000" stroke-width="2.9"/><circle cx="825" cy="832.6" r="6.9" fill="#efe77a" stroke="#000" stroke-width="2.9"/><circle cx="839.9" cy="835.2" r="6.9" fill="#efe77a" stroke="#000" stroke-width="2.9"/><circle cx="848.9" cy="832.6" r="6.9" fill="#efe77a" stroke="#000" stroke-width="2.9"/><circle cx="823.1" cy="802.9" r="6.9" fill="#efe77a" stroke="#000" stroke-width="2.9"/><circle cx="901.7" cy="707.9" r="6.9" fill="#035ea0" stroke="#000" stroke-width="2.9"/><circle cx="919" cy="703.1" r="6.9" fill="#035ea0" stroke="#000" stroke-width="2.9"/><circle cx="910.3" cy="760.9" r="6.9" fill="#035ea0" stroke="#000" stroke-width="2.9"/><circle cx="892.9" cy="779.6" r="6.9" fill="#035ea0" stroke="#000" stroke-width="2.9"/><circle cx="910.3" cy="782.8" r="6.9" fill="#035ea0" stroke="#000" stroke-width="2.9"/><circle cx="910.3" cy="796.4" r="6.9" fill="#035ea0" stroke="#000" stroke-width="2.9"/><circle cx="928.4" cy="801.6" r="6.9" fill="#035ea0" stroke="#000" stroke-width="2.9"/><circle cx="892.9" cy="806.8" r="6.9" fill="#035ea0" stroke="#000" stroke-width="2.9"/><circle cx="910.3" cy="813.2" r="6.9" fill="#035ea0" stroke="#000" stroke-width="2.9"/><circle cx="910.3" cy="827.4" r="6.9" fill="#035ea0" stroke="#000" stroke-width="2.9"/><circle cx="892.9" cy="833.9" r="6.9" fill="#035ea0" stroke="#000" stroke-width="2.9"/><circle cx="928.4" cy="832" r="6.9" fill="#035ea0" stroke="#000" stroke-width="2.9"/><path d="M763.6 788V813M748.8 788H778.4M748.8 813H778.4" stroke="#000" stroke-width="3.8" fill="none"/><path d="M910.5 774.5V799.5M895.7 774.5H925.2M895.7 799.5H925.2" stroke="#000" stroke-width="2.8" fill="none"/><line x1="754.6" y1="518.4" x2="846" y2="518.4" stroke="#000" stroke-width="2.4"/><text x="788.6" y="507.3" font-size="23" text-anchor="middle">0.0034</text><text x="836.6" y="472.3" font-size="27" font-weight="bold" text-anchor="middle">cDC1</text><rect x="1038.4" y="778.4" width="48.6" height="64" fill="#d9d9d9" stroke="#000" stroke-width="2.9"/><rect x="1114.7" y="790.1" width="49.1" height="52.3" fill="#f6f0c7" stroke="#000" stroke-width="2.9"/><rect x="1192.2" y="800.4" width="48.5" height="42" fill="#88acd6" stroke="#000" stroke-width="2.9"/><line x1="1024.4" y1="517.1" x2="1024.4" y2="566.6" stroke="#000" stroke-width="2.8"/><line x1="1024.4" y1="604.2" x2="1024.4" y2="842.4" stroke="#000" stroke-width="2.8"/><line x1="1011.9" y1="518.3" x2="1024.4" y2="518.3" stroke="#000" stroke-width="2.4"/><text x="1005.4" y="525.1" font-size="19" text-anchor="end">5.0</text><line x1="1011.4" y1="566.6" x2="1037.4" y2="566.6" stroke="#000" stroke-width="2.6"/><text x="1005.4" y="573.4" font-size="19" text-anchor="end">2.5</text><line x1="1011.4" y1="605.4" x2="1037.4" y2="605.4" stroke="#000" stroke-width="2.6"/><text x="1005.4" y="612.2" font-size="19" text-anchor="end">2.0</text><line x1="1011.9" y1="664.7" x2="1024.4" y2="664.7" stroke="#000" stroke-width="2.4"/><text x="1005.4" y="671.5" font-size="19" text-anchor="end">1.5</text><line x1="1011.9" y1="724" x2="1024.4" y2="724" stroke="#000" stroke-width="2.4"/><text x="1005.4" y="730.8" font-size="19" text-anchor="end">1.0</text><line x1="1011.9" y1="783.4" x2="1024.4" y2="783.4" stroke="#000" stroke-width="2.4"/><text x="1005.4" y="790.2" font-size="19" text-anchor="end">0.5</text><line x1="1011.9" y1="842.4" x2="1024.4" y2="842.4" stroke="#000" stroke-width="2.4"/><text x="1005.4" y="849.2" font-size="19" text-anchor="end">0.0</text><line x1="1023" y1="842.4" x2="1255.1" y2="842.4" stroke="#000" stroke-width="2.8"/><circle cx="1024.4" cy="843.1" r="2.8" fill="#000"/><circle cx="1035.5" cy="843.1" r="2.8" fill="#000"/><circle cx="1046.6" cy="843.1" r="2.8" fill="#000"/><circle cx="1057.7" cy="843.1" r="2.8" fill="#000"/><circle cx="1068.8" cy="843.1" r="2.8" fill="#000"/><circle cx="1079.9" cy="843.1" r="2.8" fill="#000"/><circle cx="1091" cy="843.1" r="2.8" fill="#000"/><circle cx="1102.1" cy="843.1" r="2.8" fill="#000"/><circle cx="1113.2" cy="843.1" r="2.8" fill="#000"/><circle cx="1124.3" cy="843.1" r="2.8" fill="#000"/><circle cx="1135.4" cy="843.1" r="2.8" fill="#000"/><circle cx="1146.5" cy="843.1" r="2.8" fill="#000"/><circle cx="1157.6" cy="843.1" r="2.8" fill="#000"/><circle cx="1168.7" cy="843.1" r="2.8" fill="#000"/><circle cx="1179.8" cy="843.1" r="2.8" fill="#000"/><circle cx="1190.9" cy="843.1" r="2.8" fill="#000"/><circle cx="1202" cy="843.1" r="2.8" fill="#000"/><circle cx="1213.1" cy="843.1" r="2.8" fill="#000"/><circle cx="1224.2" cy="843.1" r="2.8" fill="#000"/><circle cx="1235.3" cy="843.1" r="2.8" fill="#000"/><circle cx="1246.4" cy="843.1" r="2.8" fill="#000"/><line x1="1062.7" y1="842.4" x2="1062.7" y2="850.4" stroke="#000" stroke-width="2.9"/><line x1="1139.2" y1="842.4" x2="1139.2" y2="850.4" stroke="#000" stroke-width="2.9"/><line x1="1216.5" y1="842.4" x2="1216.5" y2="850.4" stroke="#000" stroke-width="2.9"/><path d="M1139.2 780V797M1124.5 780H1154M1124.5 797H1154" stroke="#000" stroke-width="2.8" fill="none"/><circle cx="1062.6" cy="670.8" r="6.9" fill="#a4a5a8" stroke="#000" stroke-width="2.9"/><circle cx="1062.6" cy="704" r="6.9" fill="#a4a5a8" stroke="#000" stroke-width="2.9"/><circle cx="1062.6" cy="712.6" r="6.9" fill="#a4a5a8" stroke="#000" stroke-width="2.9"/><circle cx="1062.6" cy="731.1" r="6.9" fill="#a4a5a8" stroke="#000" stroke-width="2.9"/><circle cx="1062.6" cy="741.1" r="6.9" fill="#a4a5a8" stroke="#000" stroke-width="2.9"/><circle cx="1053.3" cy="758.9" r="6.9" fill="#a4a5a8" stroke="#000" stroke-width="2.9"/><circle cx="1070.1" cy="758.9" r="6.9" fill="#a4a5a8" stroke="#000" stroke-width="2.9"/><circle cx="1050.7" cy="766" r="6.9" fill="#a4a5a8" stroke="#000" stroke-width="2.9"/><circle cx="1068.8" cy="764.1" r="6.9" fill="#a4a5a8" stroke="#000" stroke-width="2.9"/><circle cx="1075.2" cy="773.1" r="6.9" fill="#a4a5a8" stroke="#000" stroke-width="2.9"/><circle cx="1057.1" cy="774.4" r="6.9" fill="#a4a5a8" stroke="#000" stroke-width="2.9"/><circle cx="1044.2" cy="791.9" r="6.9" fill="#a4a5a8" stroke="#000" stroke-width="2.9"/><circle cx="1056.5" cy="789.9" r="6.9" fill="#a4a5a8" stroke="#000" stroke-width="2.9"/><circle cx="1075.2" cy="795.1" r="6.9" fill="#a4a5a8" stroke="#000" stroke-width="2.9"/><circle cx="1050.7" cy="801.6" r="6.9" fill="#a4a5a8" stroke="#000" stroke-width="2.9"/><circle cx="1063" cy="802.2" r="6.9" fill="#a4a5a8" stroke="#000" stroke-width="2.9"/><circle cx="1081.7" cy="801.6" r="6.9" fill="#a4a5a8" stroke="#000" stroke-width="2.9"/><circle cx="1056.5" cy="814.5" r="6.9" fill="#a4a5a8" stroke="#000" stroke-width="2.9"/><circle cx="1068.8" cy="815.1" r="6.9" fill="#a4a5a8" stroke="#000" stroke-width="2.9"/><circle cx="1064.9" cy="821.6" r="6.9" fill="#a4a5a8" stroke="#000" stroke-width="2.9"/><circle cx="1059.7" cy="831.3" r="6.9" fill="#a4a5a8" stroke="#000" stroke-width="2.9"/><circle cx="1139.2" cy="726.3" r="6.9" fill="#efe77a" stroke="#000" stroke-width="2.9"/><circle cx="1137.9" cy="740.8" r="6.9" fill="#efe77a" stroke="#000" stroke-width="2.9"/><circle cx="1141.2" cy="748.6" r="6.9" fill="#efe77a" stroke="#000" stroke-width="2.9"/><circle cx="1133.4" cy="779" r="6.9" fill="#efe77a" stroke="#000" stroke-width="2.9"/><circle cx="1145" cy="779.6" r="6.9" fill="#efe77a" stroke="#000" stroke-width="2.9"/><circle cx="1128.2" cy="790.6" r="6.9" fill="#efe77a" stroke="#000" stroke-width="2.9"/><circle cx="1150.2" cy="796.4" r="6.9" fill="#efe77a" stroke="#000" stroke-width="2.9"/><circle cx="1139.2" cy="798.3" r="6.9" fill="#efe77a" stroke="#000" stroke-width="2.9"/><circle cx="1147.6" cy="804.2" r="6.9" fill="#efe77a" stroke="#000" stroke-width="2.9"/><circle cx="1120.5" cy="809.3" r="6.9" fill="#efe77a" stroke="#000" stroke-width="2.9"/><circle cx="1124.4" cy="812.6" r="6.9" fill="#efe77a" stroke="#000" stroke-width="2.9"/><circle cx="1135.3" cy="811.9" r="6.9" fill="#efe77a" stroke="#000" stroke-width="2.9"/><circle cx="1158" cy="809.3" r="6.9" fill="#efe77a" stroke="#000" stroke-width="2.9"/><circle cx="1152.8" cy="814.5" r="6.9" fill="#efe77a" stroke="#000" stroke-width="2.9"/><circle cx="1128.2" cy="826.1" r="6.9" fill="#efe77a" stroke="#000" stroke-width="2.9"/><circle cx="1136" cy="827.4" r="6.9" fill="#efe77a" stroke="#000" stroke-width="2.9"/><circle cx="1143.7" cy="826.1" r="6.9" fill="#efe77a" stroke="#000" stroke-width="2.9"/><circle cx="1150.2" cy="826.8" r="6.9" fill="#efe77a" stroke="#000" stroke-width="2.9"/><circle cx="1142.5" cy="831.3" r="6.9" fill="#efe77a" stroke="#000" stroke-width="2.9"/><circle cx="1197.8" cy="766" r="6.9" fill="#035ea0" stroke="#000" stroke-width="2.9"/><circle cx="1197.8" cy="782.2" r="6.9" fill="#035ea0" stroke="#000" stroke-width="2.9"/><circle cx="1209.7" cy="782.2" r="6.9" fill="#035ea0" stroke="#000" stroke-width="2.9"/><circle cx="1222.6" cy="779" r="6.9" fill="#035ea0" stroke="#000" stroke-width="2.9"/><circle cx="1209.7" cy="797" r="6.9" fill="#035ea0" stroke="#000" stroke-width="2.9"/><circle cx="1222.6" cy="796.4" r="6.9" fill="#035ea0" stroke="#000" stroke-width="2.9"/><circle cx="1234.9" cy="797" r="6.9" fill="#035ea0" stroke="#000" stroke-width="2.9"/><circle cx="1197.8" cy="806.1" r="6.9" fill="#035ea0" stroke="#000" stroke-width="2.9"/><circle cx="1209.7" cy="813.2" r="6.9" fill="#035ea0" stroke="#000" stroke-width="2.9"/><circle cx="1222.6" cy="816.4" r="6.9" fill="#035ea0" stroke="#000" stroke-width="2.9"/><circle cx="1234.9" cy="815.8" r="6.9" fill="#035ea0" stroke="#000" stroke-width="2.9"/><circle cx="1197.8" cy="824.8" r="6.9" fill="#035ea0" stroke="#000" stroke-width="2.9"/><path d="M1062.7 768.6V782.2M1047.9 768.6H1077.5M1047.9 782.2H1077.5" stroke="#000" stroke-width="3.8" fill="none"/><path d="M1216.5 792.5V806M1201.7 792.5H1231.2M1201.7 806H1231.2" stroke="#000" stroke-width="2.8" fill="none"/><text x="1138.6" y="476.6" font-size="27" font-weight="bold" text-anchor="middle">cDC2</text><rect x="1354.6" y="816.8" width="49.7" height="21.7" fill="#d9d9d9" stroke="#000" stroke-width="2.9"/><rect x="1431.5" y="784.8" width="49.7" height="53.7" fill="#f6f0c7" stroke="#000" stroke-width="2.9"/><rect x="1508.9" y="801.9" width="49" height="36.6" fill="#88acd6" stroke="#000" stroke-width="2.9"/><line x1="1341" y1="512.4" x2="1341" y2="562.3" stroke="#000" stroke-width="2.8"/><line x1="1341" y1="600.1" x2="1341" y2="838.5" stroke="#000" stroke-width="2.8"/><line x1="1328.5" y1="513.6" x2="1341" y2="513.6" stroke="#000" stroke-width="2.4"/><text x="1322" y="520.4" font-size="19" text-anchor="end">8</text><line x1="1328" y1="562.3" x2="1354" y2="562.3" stroke="#000" stroke-width="2.6"/><text x="1322" y="569.1" font-size="19" text-anchor="end">4</text><line x1="1328" y1="601.3" x2="1354" y2="601.3" stroke="#000" stroke-width="2.6"/><text x="1322" y="608.1" font-size="19" text-anchor="end">4</text><line x1="1328.5" y1="660.7" x2="1341" y2="660.7" stroke="#000" stroke-width="2.4"/><text x="1322" y="667.5" font-size="19" text-anchor="end">3</text><line x1="1328.5" y1="720" x2="1341" y2="720" stroke="#000" stroke-width="2.4"/><text x="1322" y="726.8" font-size="19" text-anchor="end">2</text><line x1="1328.5" y1="779.2" x2="1341" y2="779.2" stroke="#000" stroke-width="2.4"/><text x="1322" y="786" font-size="19" text-anchor="end">1</text><line x1="1328.5" y1="838.5" x2="1341" y2="838.5" stroke="#000" stroke-width="2.4"/><text x="1322" y="845.3" font-size="19" text-anchor="end">0</text><line x1="1339.6" y1="838.5" x2="1571.3" y2="838.5" stroke="#000" stroke-width="2.8"/><circle cx="1341" cy="839.2" r="2.8" fill="#000"/><circle cx="1352.1" cy="839.2" r="2.8" fill="#000"/><circle cx="1363.2" cy="839.2" r="2.8" fill="#000"/><circle cx="1374.3" cy="839.2" r="2.8" fill="#000"/><circle cx="1385.4" cy="839.2" r="2.8" fill="#000"/><circle cx="1396.5" cy="839.2" r="2.8" fill="#000"/><circle cx="1407.6" cy="839.2" r="2.8" fill="#000"/><circle cx="1418.7" cy="839.2" r="2.8" fill="#000"/><circle cx="1429.8" cy="839.2" r="2.8" fill="#000"/><circle cx="1440.9" cy="839.2" r="2.8" fill="#000"/><circle cx="1452" cy="839.2" r="2.8" fill="#000"/><circle cx="1463.1" cy="839.2" r="2.8" fill="#000"/><circle cx="1474.2" cy="839.2" r="2.8" fill="#000"/><circle cx="1485.3" cy="839.2" r="2.8" fill="#000"/><circle cx="1496.4" cy="839.2" r="2.8" fill="#000"/><circle cx="1507.5" cy="839.2" r="2.8" fill="#000"/><circle cx="1518.6" cy="839.2" r="2.8" fill="#000"/><circle cx="1529.7" cy="839.2" r="2.8" fill="#000"/><circle cx="1540.8" cy="839.2" r="2.8" fill="#000"/><circle cx="1551.9" cy="839.2" r="2.8" fill="#000"/><circle cx="1563" cy="839.2" r="2.8" fill="#000"/><line x1="1379.4" y1="838.5" x2="1379.4" y2="846.5" stroke="#000" stroke-width="2.9"/><line x1="1456.3" y1="838.5" x2="1456.3" y2="846.5" stroke="#000" stroke-width="2.9"/><line x1="1533.4" y1="838.5" x2="1533.4" y2="846.5" stroke="#000" stroke-width="2.9"/><path d="M1456.3 769.2V797.6M1441.5 769.2H1471.1M1441.5 797.6H1471.1" stroke="#000" stroke-width="2.8" fill="none"/><circle cx="1379" cy="695.1" r="6.9" fill="#a4a5a8" stroke="#000" stroke-width="2.9"/><circle cx="1379" cy="725.9" r="6.9" fill="#a4a5a8" stroke="#000" stroke-width="2.9"/><circle cx="1380.1" cy="776.8" r="6.9" fill="#a4a5a8" stroke="#000" stroke-width="2.9"/><circle cx="1377.6" cy="781.3" r="6.9" fill="#a4a5a8" stroke="#000" stroke-width="2.9"/><circle cx="1379" cy="794.1" r="6.9" fill="#a4a5a8" stroke="#000" stroke-width="2.9"/><circle cx="1379" cy="801.2" r="6.9" fill="#a4a5a8" stroke="#000" stroke-width="2.9"/><circle cx="1363.4" cy="825.3" r="6.9" fill="#a4a5a8" stroke="#000" stroke-width="2.9"/><circle cx="1371.9" cy="828.1" r="6.9" fill="#a4a5a8" stroke="#000" stroke-width="2.9"/><circle cx="1388.9" cy="831" r="6.9" fill="#a4a5a8" stroke="#000" stroke-width="2.9"/><circle cx="1397.5" cy="832.4" r="6.9" fill="#a4a5a8" stroke="#000" stroke-width="2.9"/><circle cx="1360.6" cy="835.2" r="6.9" fill="#a4a5a8" stroke="#000" stroke-width="2.9"/><circle cx="1377.6" cy="835.2" r="6.9" fill="#a4a5a8" stroke="#000" stroke-width="2.9"/><circle cx="1369.1" cy="838.1" r="6.9" fill="#a4a5a8" stroke="#000" stroke-width="2.9"/><circle cx="1396" cy="837.4" r="6.9" fill="#a4a5a8" stroke="#000" stroke-width="2.9"/><circle cx="1454.7" cy="542.1" r="6.9" fill="#efe77a" stroke="#000" stroke-width="2.9"/><circle cx="1457.8" cy="551.4" r="6.9" fill="#efe77a" stroke="#000" stroke-width="2.9"/><circle cx="1454.7" cy="660.7" r="6.9" fill="#efe77a" stroke="#000" stroke-width="2.9"/><circle cx="1457.8" cy="664.5" r="6.9" fill="#efe77a" stroke="#000" stroke-width="2.9"/><circle cx="1456.1" cy="734.5" r="6.9" fill="#efe77a" stroke="#000" stroke-width="2.9"/><circle cx="1456.1" cy="749.8" r="6.9" fill="#efe77a" stroke="#000" stroke-width="2.9"/><circle cx="1457.8" cy="772.8" r="6.9" fill="#efe77a" stroke="#000" stroke-width="2.9"/><circle cx="1452.8" cy="779.9" r="6.9" fill="#efe77a" stroke="#000" stroke-width="2.9"/><circle cx="1452.8" cy="788.4" r="6.9" fill="#efe77a" stroke="#000" stroke-width="2.9"/><circle cx="1462" cy="792.7" r="6.9" fill="#efe77a" stroke="#000" stroke-width="2.9"/><circle cx="1452.8" cy="799.8" r="6.9" fill="#efe77a" stroke="#000" stroke-width="2.9"/><circle cx="1457.8" cy="806.9" r="6.9" fill="#efe77a" stroke="#000" stroke-width="2.9"/><circle cx="1474.8" cy="810.4" r="6.9" fill="#efe77a" stroke="#000" stroke-width="2.9"/><circle cx="1444.3" cy="813.2" r="6.9" fill="#efe77a" stroke="#000" stroke-width="2.9"/><circle cx="1437.2" cy="819.6" r="6.9" fill="#efe77a" stroke="#000" stroke-width="2.9"/><circle cx="1470.6" cy="816.8" r="6.9" fill="#efe77a" stroke="#000" stroke-width="2.9"/><circle cx="1452.8" cy="823.9" r="6.9" fill="#efe77a" stroke="#000" stroke-width="2.9"/><circle cx="1442.9" cy="832.4" r="6.9" fill="#efe77a" stroke="#000" stroke-width="2.9"/><circle cx="1465.6" cy="831.7" r="6.9" fill="#efe77a" stroke="#000" stroke-width="2.9"/><circle cx="1457.1" cy="836.7" r="6.9" fill="#efe77a" stroke="#000" stroke-width="2.9"/><circle cx="1448.6" cy="828.1" r="6.9" fill="#efe77a" stroke="#000" stroke-width="2.9"/><circle cx="1528" cy="736.6" r="6.9" fill="#035ea0" stroke="#000" stroke-width="2.9"/><circle cx="1538" cy="735.2" r="6.9" fill="#035ea0" stroke="#000" stroke-width="2.9"/><circle cx="1542.2" cy="766.1" r="6.9" fill="#035ea0" stroke="#000" stroke-width="2.9"/><circle cx="1533" cy="777.8" r="6.9" fill="#035ea0" stroke="#000" stroke-width="2.9"/><circle cx="1533" cy="796.9" r="6.9" fill="#035ea0" stroke="#000" stroke-width="2.9"/><circle cx="1523.8" cy="809" r="6.9" fill="#035ea0" stroke="#000" stroke-width="2.9"/><circle cx="1542.2" cy="814.7" r="6.9" fill="#035ea0" stroke="#000" stroke-width="2.9"/><circle cx="1523.8" cy="826.7" r="6.9" fill="#035ea0" stroke="#000" stroke-width="2.9"/><circle cx="1542.2" cy="829.6" r="6.9" fill="#035ea0" stroke="#000" stroke-width="2.9"/><circle cx="1514.6" cy="832.4" r="6.9" fill="#035ea0" stroke="#000" stroke-width="2.9"/><circle cx="1533.7" cy="833.8" r="6.9" fill="#035ea0" stroke="#000" stroke-width="2.9"/><circle cx="1552.2" cy="836" r="6.9" fill="#035ea0" stroke="#000" stroke-width="2.9"/><path d="M1379.4 808.3V822M1364.6 808.3H1394.2M1364.6 822H1394.2" stroke="#000" stroke-width="3.8" fill="none"/><path d="M1533.4 789.1V809.7M1518.6 789.1H1548.2M1518.6 809.7H1548.2" stroke="#000" stroke-width="2.8" fill="none"/><line x1="1377.7" y1="521.4" x2="1457.2" y2="521.4" stroke="#000" stroke-width="2.4"/><text x="1414.5" y="509.5" font-size="23" text-anchor="middle">0.0058</text><text x="1295.3" y="666.8" font-size="27" font-weight="bold" text-anchor="middle" textLength="160.6" lengthAdjust="spacingAndGlyphs" transform="rotate(-90 1295.3 666.8)">cDC1/DC-10</text><rect x="1651" y="796.7" width="49.4" height="44.9" fill="#d9d9d9" stroke="#000" stroke-width="2.9"/><rect x="1727.9" y="794.3" width="49.3" height="47.3" fill="#f6f0c7" stroke="#000" stroke-width="2.9"/><rect x="1804.7" y="800" width="49.4" height="41.6" fill="#88acd6" stroke="#000" stroke-width="2.9"/><line x1="1637.4" y1="515.3" x2="1637.4" y2="841.6" stroke="#000" stroke-width="2.8"/><line x1="1624.9" y1="516.5" x2="1637.4" y2="516.5" stroke="#000" stroke-width="2.4"/><text x="1618.4" y="523.3" font-size="19" text-anchor="end">4</text><line x1="1624.9" y1="597.6" x2="1637.4" y2="597.6" stroke="#000" stroke-width="2.4"/><text x="1618.4" y="604.4" font-size="19" text-anchor="end">3</text><line x1="1624.9" y1="679.4" x2="1637.4" y2="679.4" stroke="#000" stroke-width="2.4"/><text x="1618.4" y="686.2" font-size="19" text-anchor="end">2</text><line x1="1624.9" y1="760.5" x2="1637.4" y2="760.5" stroke="#000" stroke-width="2.4"/><text x="1618.4" y="767.3" font-size="19" text-anchor="end">1</text><line x1="1624.9" y1="841.6" x2="1637.4" y2="841.6" stroke="#000" stroke-width="2.4"/><text x="1618.4" y="848.4" font-size="19" text-anchor="end">0</text><line x1="1636" y1="841.6" x2="1867.5" y2="841.6" stroke="#000" stroke-width="2.8"/><circle cx="1637.4" cy="842.3" r="2.8" fill="#000"/><circle cx="1648.5" cy="842.3" r="2.8" fill="#000"/><circle cx="1659.6" cy="842.3" r="2.8" fill="#000"/><circle cx="1670.7" cy="842.3" r="2.8" fill="#000"/><circle cx="1681.8" cy="842.3" r="2.8" fill="#000"/><circle cx="1692.9" cy="842.3" r="2.8" fill="#000"/><circle cx="1704" cy="842.3" r="2.8" fill="#000"/><circle cx="1715.1" cy="842.3" r="2.8" fill="#000"/><circle cx="1726.2" cy="842.3" r="2.8" fill="#000"/><circle cx="1737.3" cy="842.3" r="2.8" fill="#000"/><circle cx="1748.4" cy="842.3" r="2.8" fill="#000"/><circle cx="1759.5" cy="842.3" r="2.8" fill="#000"/><circle cx="1770.6" cy="842.3" r="2.8" fill="#000"/><circle cx="1781.7" cy="842.3" r="2.8" fill="#000"/><circle cx="1792.8" cy="842.3" r="2.8" fill="#000"/><circle cx="1803.9" cy="842.3" r="2.8" fill="#000"/><circle cx="1815" cy="842.3" r="2.8" fill="#000"/><circle cx="1826.1" cy="842.3" r="2.8" fill="#000"/><circle cx="1837.2" cy="842.3" r="2.8" fill="#000"/><circle cx="1848.3" cy="842.3" r="2.8" fill="#000"/><circle cx="1859.4" cy="842.3" r="2.8" fill="#000"/><line x1="1675.7" y1="841.6" x2="1675.7" y2="849.6" stroke="#000" stroke-width="2.9"/><line x1="1752.6" y1="841.6" x2="1752.6" y2="849.6" stroke="#000" stroke-width="2.9"/><line x1="1829.4" y1="841.6" x2="1829.4" y2="849.6" stroke="#000" stroke-width="2.9"/><path d="M1752.6 782V804M1737.8 782H1767.4M1737.8 804H1767.4" stroke="#000" stroke-width="2.8" fill="none"/><circle cx="1675.4" cy="623" r="6.9" fill="#a4a5a8" stroke="#000" stroke-width="2.9"/><circle cx="1682.1" cy="722.4" r="6.9" fill="#a4a5a8" stroke="#000" stroke-width="2.9"/><circle cx="1675" cy="727.4" r="6.9" fill="#a4a5a8" stroke="#000" stroke-width="2.9"/><circle cx="1687.7" cy="753.4" r="6.9" fill="#a4a5a8" stroke="#000" stroke-width="2.9"/><circle cx="1669.4" cy="759.8" r="6.9" fill="#a4a5a8" stroke="#000" stroke-width="2.9"/><circle cx="1662.3" cy="764" r="6.9" fill="#a4a5a8" stroke="#000" stroke-width="2.9"/><circle cx="1682.1" cy="771.8" r="6.9" fill="#a4a5a8" stroke="#000" stroke-width="2.9"/><circle cx="1675" cy="769.7" r="6.9" fill="#a4a5a8" stroke="#000" stroke-width="2.9"/><circle cx="1688.4" cy="771.8" r="6.9" fill="#a4a5a8" stroke="#000" stroke-width="2.9"/><circle cx="1696.2" cy="780.9" r="6.9" fill="#a4a5a8" stroke="#000" stroke-width="2.9"/><circle cx="1669.4" cy="785.9" r="6.9" fill="#a4a5a8" stroke="#000" stroke-width="2.9"/><circle cx="1687.7" cy="786.6" r="6.9" fill="#a4a5a8" stroke="#000" stroke-width="2.9"/><circle cx="1656.7" cy="792.9" r="6.9" fill="#a4a5a8" stroke="#000" stroke-width="2.9"/><circle cx="1696.2" cy="795" r="6.9" fill="#a4a5a8" stroke="#000" stroke-width="2.9"/><circle cx="1662.3" cy="804.9" r="6.9" fill="#a4a5a8" stroke="#000" stroke-width="2.9"/><circle cx="1675.4" cy="804.9" r="6.9" fill="#a4a5a8" stroke="#000" stroke-width="2.9"/><circle cx="1687.7" cy="804.9" r="6.9" fill="#a4a5a8" stroke="#000" stroke-width="2.9"/><circle cx="1656.7" cy="814.1" r="6.9" fill="#a4a5a8" stroke="#000" stroke-width="2.9"/><circle cx="1696.2" cy="814.1" r="6.9" fill="#a4a5a8" stroke="#000" stroke-width="2.9"/><circle cx="1662.3" cy="820.4" r="6.9" fill="#a4a5a8" stroke="#000" stroke-width="2.9"/><circle cx="1675.4" cy="820.4" r="6.9" fill="#a4a5a8" stroke="#000" stroke-width="2.9"/><circle cx="1687.7" cy="823.9" r="6.9" fill="#a4a5a8" stroke="#000" stroke-width="2.9"/><circle cx="1656.7" cy="829.6" r="6.9" fill="#a4a5a8" stroke="#000" stroke-width="2.9"/><circle cx="1669.4" cy="825.4" r="6.9" fill="#a4a5a8" stroke="#000" stroke-width="2.9"/><circle cx="1681.4" cy="833.8" r="6.9" fill="#a4a5a8" stroke="#000" stroke-width="2.9"/><circle cx="1694.7" cy="830.3" r="6.9" fill="#a4a5a8" stroke="#000" stroke-width="2.9"/><circle cx="1675.4" cy="838" r="6.9" fill="#a4a5a8" stroke="#000" stroke-width="2.9"/><circle cx="1752.3" cy="598" r="6.9" fill="#efe77a" stroke="#000" stroke-width="2.9"/><circle cx="1752.3" cy="707.6" r="6.9" fill="#efe77a" stroke="#000" stroke-width="2.9"/><circle cx="1752.3" cy="732.3" r="6.9" fill="#efe77a" stroke="#000" stroke-width="2.9"/><circle cx="1749" cy="752" r="6.9" fill="#efe77a" stroke="#000" stroke-width="2.9"/><circle cx="1755.4" cy="752.7" r="6.9" fill="#efe77a" stroke="#000" stroke-width="2.9"/><circle cx="1739.2" cy="761.2" r="6.9" fill="#efe77a" stroke="#000" stroke-width="2.9"/><circle cx="1758.9" cy="757.7" r="6.9" fill="#efe77a" stroke="#000" stroke-width="2.9"/><circle cx="1765.3" cy="766.8" r="6.9" fill="#efe77a" stroke="#000" stroke-width="2.9"/><circle cx="1746.2" cy="770.4" r="6.9" fill="#efe77a" stroke="#000" stroke-width="2.9"/><circle cx="1752.6" cy="766.1" r="6.9" fill="#efe77a" stroke="#000" stroke-width="2.9"/><circle cx="1749" cy="783.8" r="6.9" fill="#efe77a" stroke="#000" stroke-width="2.9"/><circle cx="1761.7" cy="783.8" r="6.9" fill="#efe77a" stroke="#000" stroke-width="2.9"/><circle cx="1743.4" cy="791.5" r="6.9" fill="#efe77a" stroke="#000" stroke-width="2.9"/><circle cx="1754.7" cy="790.1" r="6.9" fill="#efe77a" stroke="#000" stroke-width="2.9"/><circle cx="1733.5" cy="805.6" r="6.9" fill="#efe77a" stroke="#000" stroke-width="2.9"/><circle cx="1739.2" cy="804.9" r="6.9" fill="#efe77a" stroke="#000" stroke-width="2.9"/><circle cx="1771.6" cy="807" r="6.9" fill="#efe77a" stroke="#000" stroke-width="2.9"/><circle cx="1751.9" cy="809.1" r="6.9" fill="#efe77a" stroke="#000" stroke-width="2.9"/><circle cx="1764.5" cy="809.1" r="6.9" fill="#efe77a" stroke="#000" stroke-width="2.9"/><circle cx="1744.8" cy="811.3" r="6.9" fill="#efe77a" stroke="#000" stroke-width="2.9"/><circle cx="1772.3" cy="814.1" r="6.9" fill="#efe77a" stroke="#000" stroke-width="2.9"/><circle cx="1733.5" cy="816.9" r="6.9" fill="#efe77a" stroke="#000" stroke-width="2.9"/><circle cx="1757.5" cy="821.1" r="6.9" fill="#efe77a" stroke="#000" stroke-width="2.9"/><circle cx="1739.2" cy="822.5" r="6.9" fill="#efe77a" stroke="#000" stroke-width="2.9"/><circle cx="1744.8" cy="828.2" r="6.9" fill="#efe77a" stroke="#000" stroke-width="2.9"/><circle cx="1751.9" cy="830.3" r="6.9" fill="#efe77a" stroke="#000" stroke-width="2.9"/><circle cx="1739.2" cy="829.6" r="6.9" fill="#efe77a" stroke="#000" stroke-width="2.9"/><circle cx="1732.1" cy="833.8" r="6.9" fill="#efe77a" stroke="#000" stroke-width="2.9"/><circle cx="1764.5" cy="828.2" r="6.9" fill="#efe77a" stroke="#000" stroke-width="2.9"/><circle cx="1758.9" cy="838" r="6.9" fill="#efe77a" stroke="#000" stroke-width="2.9"/><circle cx="1771.6" cy="835.9" r="6.9" fill="#efe77a" stroke="#000" stroke-width="2.9"/><circle cx="1829.1" cy="712.5" r="6.9" fill="#035ea0" stroke="#000" stroke-width="2.9"/><circle cx="1824.5" cy="764" r="6.9" fill="#035ea0" stroke="#000" stroke-width="2.9"/><circle cx="1833.6" cy="763.3" r="6.9" fill="#035ea0" stroke="#000" stroke-width="2.9"/><circle cx="1820.2" cy="780.9" r="6.9" fill="#035ea0" stroke="#000" stroke-width="2.9"/><circle cx="1829.1" cy="792.2" r="6.9" fill="#035ea0" stroke="#000" stroke-width="2.9"/><circle cx="1819.5" cy="816.9" r="6.9" fill="#035ea0" stroke="#000" stroke-width="2.9"/><circle cx="1829.1" cy="813.4" r="6.9" fill="#035ea0" stroke="#000" stroke-width="2.9"/><circle cx="1847.7" cy="815.5" r="6.9" fill="#035ea0" stroke="#000" stroke-width="2.9"/><circle cx="1837.9" cy="822.5" r="6.9" fill="#035ea0" stroke="#000" stroke-width="2.9"/><circle cx="1811.1" cy="828.2" r="6.9" fill="#035ea0" stroke="#000" stroke-width="2.9"/><circle cx="1829.1" cy="827.5" r="6.9" fill="#035ea0" stroke="#000" stroke-width="2.9"/><circle cx="1847.7" cy="834.5" r="6.9" fill="#035ea0" stroke="#000" stroke-width="2.9"/><path d="M1675.7 779.5V811M1660.9 779.5H1690.5M1660.9 811H1690.5" stroke="#000" stroke-width="3.8" fill="none"/><path d="M1829.4 787V807.7M1814.6 787H1844.2M1814.6 807.7H1844.2" stroke="#000" stroke-width="2.8" fill="none"/><text x="1596" y="666.8" font-size="27" font-weight="bold" text-anchor="middle" textLength="160.6" lengthAdjust="spacingAndGlyphs" transform="rotate(-90 1596 666.8)">cDC2/DC-10</text><rect x="148.4" y="1118.4" width="48.9" height="180.5" fill="#d9d9d9" stroke="#000" stroke-width="2.9"/><rect x="225.4" y="1184.2" width="48" height="114.7" fill="#f6f0c7" stroke="#000" stroke-width="2.9"/><rect x="301.8" y="1160.1" width="48.6" height="138.8" fill="#88acd6" stroke="#000" stroke-width="2.9"/><line x1="134.8" y1="973.2" x2="134.8" y2="1298.9" stroke="#000" stroke-width="2.8"/><line x1="122.3" y1="974.4" x2="134.8" y2="974.4" stroke="#000" stroke-width="2.4"/><text x="115.8" y="981.2" font-size="19" text-anchor="end">60</text><line x1="122.3" y1="1082.6" x2="134.8" y2="1082.6" stroke="#000" stroke-width="2.4"/><text x="115.8" y="1089.4" font-size="19" text-anchor="end">40</text><line x1="122.3" y1="1190.8" x2="134.8" y2="1190.8" stroke="#000" stroke-width="2.4"/><text x="115.8" y="1197.6" font-size="19" text-anchor="end">20</text><line x1="122.3" y1="1298.9" x2="134.8" y2="1298.9" stroke="#000" stroke-width="2.4"/><text x="115.8" y="1305.7" font-size="19" text-anchor="end">0</text><line x1="133.4" y1="1298.9" x2="363.3" y2="1298.9" stroke="#000" stroke-width="2.8"/><circle cx="134.8" cy="1299.6" r="2.8" fill="#000"/><circle cx="145.9" cy="1299.6" r="2.8" fill="#000"/><circle cx="157" cy="1299.6" r="2.8" fill="#000"/><circle cx="168.1" cy="1299.6" r="2.8" fill="#000"/><circle cx="179.2" cy="1299.6" r="2.8" fill="#000"/><circle cx="190.3" cy="1299.6" r="2.8" fill="#000"/><circle cx="201.4" cy="1299.6" r="2.8" fill="#000"/><circle cx="212.5" cy="1299.6" r="2.8" fill="#000"/><circle cx="223.6" cy="1299.6" r="2.8" fill="#000"/><circle cx="234.7" cy="1299.6" r="2.8" fill="#000"/><circle cx="245.8" cy="1299.6" r="2.8" fill="#000"/><circle cx="256.9" cy="1299.6" r="2.8" fill="#000"/><circle cx="268" cy="1299.6" r="2.8" fill="#000"/><circle cx="279.1" cy="1299.6" r="2.8" fill="#000"/><circle cx="290.2" cy="1299.6" r="2.8" fill="#000"/><circle cx="301.3" cy="1299.6" r="2.8" fill="#000"/><circle cx="312.4" cy="1299.6" r="2.8" fill="#000"/><circle cx="323.5" cy="1299.6" r="2.8" fill="#000"/><circle cx="334.6" cy="1299.6" r="2.8" fill="#000"/><circle cx="345.7" cy="1299.6" r="2.8" fill="#000"/><circle cx="356.8" cy="1299.6" r="2.8" fill="#000"/><line x1="172.9" y1="1298.9" x2="172.9" y2="1306.9" stroke="#000" stroke-width="2.9"/><line x1="249.4" y1="1298.9" x2="249.4" y2="1306.9" stroke="#000" stroke-width="2.9"/><line x1="326.1" y1="1298.9" x2="326.1" y2="1306.9" stroke="#000" stroke-width="2.9"/><path d="M249.4 1172V1193.2M234.6 1172H264.2M234.6 1193.2H264.2" stroke="#000" stroke-width="2.8" fill="none"/><circle cx="169.3" cy="986.4" r="6.9" fill="#a4a5a8" stroke="#000" stroke-width="2.9"/><circle cx="176.8" cy="998.9" r="6.9" fill="#a4a5a8" stroke="#000" stroke-width="2.9"/><circle cx="162.1" cy="1028.6" r="6.9" fill="#a4a5a8" stroke="#000" stroke-width="2.9"/><circle cx="184.2" cy="1030.5" r="6.9" fill="#a4a5a8" stroke="#000" stroke-width="2.9"/><circle cx="169.3" cy="1038.5" r="6.9" fill="#a4a5a8" stroke="#000" stroke-width="2.9"/><circle cx="176.8" cy="1043.3" r="6.9" fill="#a4a5a8" stroke="#000" stroke-width="2.9"/><circle cx="162.1" cy="1053.8" r="6.9" fill="#a4a5a8" stroke="#000" stroke-width="2.9"/><circle cx="154" cy="1060.6" r="6.9" fill="#a4a5a8" stroke="#000" stroke-width="2.9"/><circle cx="169.3" cy="1062.6" r="6.9" fill="#a4a5a8" stroke="#000" stroke-width="2.9"/><circle cx="176.8" cy="1066.6" r="6.9" fill="#a4a5a8" stroke="#000" stroke-width="2.9"/><circle cx="183.7" cy="1065" r="6.9" fill="#a4a5a8" stroke="#000" stroke-width="2.9"/><circle cx="154.8" cy="1083.4" r="6.9" fill="#a4a5a8" stroke="#000" stroke-width="2.9"/><circle cx="162.1" cy="1083.4" r="6.9" fill="#a4a5a8" stroke="#000" stroke-width="2.9"/><circle cx="169.3" cy="1090.6" r="6.9" fill="#a4a5a8" stroke="#000" stroke-width="2.9"/><circle cx="184.5" cy="1085.8" r="6.9" fill="#a4a5a8" stroke="#000" stroke-width="2.9"/><circle cx="191.7" cy="1085.8" r="6.9" fill="#a4a5a8" stroke="#000" stroke-width="2.9"/><circle cx="176.8" cy="1096.2" r="6.9" fill="#a4a5a8" stroke="#000" stroke-width="2.9"/><circle cx="154.8" cy="1125.1" r="6.9" fill="#a4a5a8" stroke="#000" stroke-width="2.9"/><circle cx="162.1" cy="1125.1" r="6.9" fill="#a4a5a8" stroke="#000" stroke-width="2.9"/><circle cx="169.3" cy="1131.5" r="6.9" fill="#a4a5a8" stroke="#000" stroke-width="2.9"/><circle cx="184.5" cy="1129.1" r="6.9" fill="#a4a5a8" stroke="#000" stroke-width="2.9"/><circle cx="191.7" cy="1127.5" r="6.9" fill="#a4a5a8" stroke="#000" stroke-width="2.9"/><circle cx="172.5" cy="1156.3" r="6.9" fill="#a4a5a8" stroke="#000" stroke-width="2.9"/><circle cx="162.1" cy="1182.8" r="6.9" fill="#a4a5a8" stroke="#000" stroke-width="2.9"/><circle cx="176.8" cy="1182" r="6.9" fill="#a4a5a8" stroke="#000" stroke-width="2.9"/><circle cx="169.3" cy="1190.8" r="6.9" fill="#a4a5a8" stroke="#000" stroke-width="2.9"/><circle cx="184.2" cy="1190.8" r="6.9" fill="#a4a5a8" stroke="#000" stroke-width="2.9"/><circle cx="172.5" cy="1218.8" r="6.9" fill="#a4a5a8" stroke="#000" stroke-width="2.9"/><circle cx="169.3" cy="1235.6" r="6.9" fill="#a4a5a8" stroke="#000" stroke-width="2.9"/><circle cx="176.8" cy="1238.8" r="6.9" fill="#a4a5a8" stroke="#000" stroke-width="2.9"/><circle cx="184.2" cy="1236.4" r="6.9" fill="#a4a5a8" stroke="#000" stroke-width="2.9"/><circle cx="162.1" cy="1248.5" r="6.9" fill="#a4a5a8" stroke="#000" stroke-width="2.9"/><circle cx="245.7" cy="1052.9" r="6.9" fill="#efe77a" stroke="#000" stroke-width="2.9"/><circle cx="253.1" cy="1061.3" r="6.9" fill="#efe77a" stroke="#000" stroke-width="2.9"/><circle cx="245.7" cy="1097.8" r="6.9" fill="#efe77a" stroke="#000" stroke-width="2.9"/><circle cx="253.1" cy="1097" r="6.9" fill="#efe77a" stroke="#000" stroke-width="2.9"/><circle cx="260.6" cy="1102.6" r="6.9" fill="#efe77a" stroke="#000" stroke-width="2.9"/><circle cx="238.2" cy="1110.6" r="6.9" fill="#efe77a" stroke="#000" stroke-width="2.9"/><circle cx="253.1" cy="1111.4" r="6.9" fill="#efe77a" stroke="#000" stroke-width="2.9"/><circle cx="260.6" cy="1120.3" r="6.9" fill="#efe77a" stroke="#000" stroke-width="2.9"/><circle cx="245.7" cy="1127.5" r="6.9" fill="#efe77a" stroke="#000" stroke-width="2.9"/><circle cx="253.1" cy="1133.1" r="6.9" fill="#efe77a" stroke="#000" stroke-width="2.9"/><circle cx="245.7" cy="1144.3" r="6.9" fill="#efe77a" stroke="#000" stroke-width="2.9"/><circle cx="253.1" cy="1149.1" r="6.9" fill="#efe77a" stroke="#000" stroke-width="2.9"/><circle cx="253.1" cy="1167.5" r="6.9" fill="#efe77a" stroke="#000" stroke-width="2.9"/><circle cx="260.6" cy="1169.1" r="6.9" fill="#efe77a" stroke="#000" stroke-width="2.9"/><circle cx="245.7" cy="1173.9" r="6.9" fill="#efe77a" stroke="#000" stroke-width="2.9"/><circle cx="238.2" cy="1178.8" r="6.9" fill="#efe77a" stroke="#000" stroke-width="2.9"/><circle cx="253.1" cy="1190.8" r="6.9" fill="#efe77a" stroke="#000" stroke-width="2.9"/><circle cx="245.7" cy="1194.8" r="6.9" fill="#efe77a" stroke="#000" stroke-width="2.9"/><circle cx="253.1" cy="1206.8" r="6.9" fill="#efe77a" stroke="#000" stroke-width="2.9"/><circle cx="245.7" cy="1214" r="6.9" fill="#efe77a" stroke="#000" stroke-width="2.9"/><circle cx="253.1" cy="1223.6" r="6.9" fill="#efe77a" stroke="#000" stroke-width="2.9"/><circle cx="245.7" cy="1234.8" r="6.9" fill="#efe77a" stroke="#000" stroke-width="2.9"/><circle cx="253.1" cy="1238.8" r="6.9" fill="#efe77a" stroke="#000" stroke-width="2.9"/><circle cx="268.1" cy="1236.4" r="6.9" fill="#efe77a" stroke="#000" stroke-width="2.9"/><circle cx="238.2" cy="1245.3" r="6.9" fill="#efe77a" stroke="#000" stroke-width="2.9"/><circle cx="231" cy="1246.9" r="6.9" fill="#efe77a" stroke="#000" stroke-width="2.9"/><circle cx="260.6" cy="1246.1" r="6.9" fill="#efe77a" stroke="#000" stroke-width="2.9"/><circle cx="253.1" cy="1251.7" r="6.9" fill="#efe77a" stroke="#000" stroke-width="2.9"/><circle cx="238.2" cy="1258.9" r="6.9" fill="#efe77a" stroke="#000" stroke-width="2.9"/><circle cx="260.6" cy="1265.3" r="6.9" fill="#efe77a" stroke="#000" stroke-width="2.9"/><circle cx="253.1" cy="1266.1" r="6.9" fill="#efe77a" stroke="#000" stroke-width="2.9"/><circle cx="238.2" cy="1274.9" r="6.9" fill="#efe77a" stroke="#000" stroke-width="2.9"/><circle cx="325.8" cy="1053.8" r="6.9" fill="#035ea0" stroke="#000" stroke-width="2.9"/><circle cx="335.1" cy="1075.7" r="6.9" fill="#035ea0" stroke="#000" stroke-width="2.9"/><circle cx="316.7" cy="1083.7" r="6.9" fill="#035ea0" stroke="#000" stroke-width="2.9"/><circle cx="316.7" cy="1106.2" r="6.9" fill="#035ea0" stroke="#000" stroke-width="2.9"/><circle cx="335.1" cy="1103.8" r="6.9" fill="#035ea0" stroke="#000" stroke-width="2.9"/><circle cx="325.8" cy="1130.2" r="6.9" fill="#035ea0" stroke="#000" stroke-width="2.9"/><circle cx="325.8" cy="1154.2" r="6.9" fill="#035ea0" stroke="#000" stroke-width="2.9"/><circle cx="325.8" cy="1201.2" r="6.9" fill="#035ea0" stroke="#000" stroke-width="2.9"/><circle cx="307.6" cy="1235.6" r="6.9" fill="#035ea0" stroke="#000" stroke-width="2.9"/><circle cx="325.8" cy="1241.2" r="6.9" fill="#035ea0" stroke="#000" stroke-width="2.9"/><circle cx="344.7" cy="1245.3" r="6.9" fill="#035ea0" stroke="#000" stroke-width="2.9"/><circle cx="307.6" cy="1250.1" r="6.9" fill="#035ea0" stroke="#000" stroke-width="2.9"/><path d="M172.9 1102.6V1128.3M158.1 1102.6H187.7M158.1 1128.3H187.7" stroke="#000" stroke-width="3.8" fill="none"/><path d="M326.1 1135.5V1178M311.3 1135.5H340.9M311.3 1178H340.9" stroke="#000" stroke-width="2.8" fill="none"/><line x1="159.8" y1="973.5" x2="264.5" y2="973.5" stroke="#000" stroke-width="2.4"/><text x="202.6" y="968.4" font-size="23" text-anchor="middle">0.0010</text><text x="250" y="933.5" font-size="27" font-weight="bold" text-anchor="middle">CD3</text><text x="73.7" y="1113.5" font-size="27" font-weight="bold" text-anchor="middle" textLength="219" lengthAdjust="spacingAndGlyphs" transform="rotate(-90 73.7 1113.5)">% of CD45<tspan font-size="15" dy="-11">+</tspan><tspan dy="11"> cells</tspan></text><rect x="453.9" y="1209" width="48.4" height="90.4" fill="#d9d9d9" stroke="#000" stroke-width="2.9"/><rect x="530.4" y="1242.7" width="48.8" height="56.7" fill="#f6f0c7" stroke="#000" stroke-width="2.9"/><rect x="606.8" y="1227.4" width="49" height="72" fill="#88acd6" stroke="#000" stroke-width="2.9"/><line x1="440.6" y1="974.8" x2="440.6" y2="1299.4" stroke="#000" stroke-width="2.8"/><line x1="428.1" y1="976" x2="440.6" y2="976" stroke="#000" stroke-width="2.4"/><text x="421.6" y="982.8" font-size="19" text-anchor="end">60</text><line x1="428.1" y1="1083.7" x2="440.6" y2="1083.7" stroke="#000" stroke-width="2.4"/><text x="421.6" y="1090.5" font-size="19" text-anchor="end">40</text><line x1="428.1" y1="1191.6" x2="440.6" y2="1191.6" stroke="#000" stroke-width="2.4"/><text x="421.6" y="1198.4" font-size="19" text-anchor="end">20</text><line x1="428.1" y1="1299.4" x2="440.6" y2="1299.4" stroke="#000" stroke-width="2.4"/><text x="421.6" y="1306.2" font-size="19" text-anchor="end">0</text><line x1="439.2" y1="1299.4" x2="669.8" y2="1299.4" stroke="#000" stroke-width="2.8"/><circle cx="440.6" cy="1300.1" r="2.8" fill="#000"/><circle cx="451.7" cy="1300.1" r="2.8" fill="#000"/><circle cx="462.8" cy="1300.1" r="2.8" fill="#000"/><circle cx="473.9" cy="1300.1" r="2.8" fill="#000"/><circle cx="485" cy="1300.1" r="2.8" fill="#000"/><circle cx="496.1" cy="1300.1" r="2.8" fill="#000"/><circle cx="507.2" cy="1300.1" r="2.8" fill="#000"/><circle cx="518.3" cy="1300.1" r="2.8" fill="#000"/><circle cx="529.4" cy="1300.1" r="2.8" fill="#000"/><circle cx="540.5" cy="1300.1" r="2.8" fill="#000"/><circle cx="551.6" cy="1300.1" r="2.8" fill="#000"/><circle cx="562.7" cy="1300.1" r="2.8" fill="#000"/><circle cx="573.8" cy="1300.1" r="2.8" fill="#000"/><circle cx="584.9" cy="1300.1" r="2.8" fill="#000"/><circle cx="596" cy="1300.1" r="2.8" fill="#000"/><circle cx="607.1" cy="1300.1" r="2.8" fill="#000"/><circle cx="618.2" cy="1300.1" r="2.8" fill="#000"/><circle cx="629.3" cy="1300.1" r="2.8" fill="#000"/><circle cx="640.4" cy="1300.1" r="2.8" fill="#000"/><circle cx="651.5" cy="1300.1" r="2.8" fill="#000"/><circle cx="662.6" cy="1300.1" r="2.8" fill="#000"/><line x1="478.1" y1="1299.4" x2="478.1" y2="1307.4" stroke="#000" stroke-width="2.9"/><line x1="554.8" y1="1299.4" x2="554.8" y2="1307.4" stroke="#000" stroke-width="2.9"/><line x1="631.3" y1="1299.4" x2="631.3" y2="1307.4" stroke="#000" stroke-width="2.9"/><path d="M554.8 1233V1246M540 1233H569.6M540 1246H569.6" stroke="#000" stroke-width="2.8" fill="none"/><circle cx="475.1" cy="1146.7" r="6.9" fill="#a4a5a8" stroke="#000" stroke-width="2.9"/><circle cx="481.8" cy="1151.5" r="6.9" fill="#a4a5a8" stroke="#000" stroke-width="2.9"/><circle cx="477.9" cy="1155.5" r="6.9" fill="#a4a5a8" stroke="#000" stroke-width="2.9"/><circle cx="459.8" cy="1168.3" r="6.9" fill="#a4a5a8" stroke="#000" stroke-width="2.9"/><circle cx="471.1" cy="1166.7" r="6.9" fill="#a4a5a8" stroke="#000" stroke-width="2.9"/><circle cx="489.5" cy="1168.3" r="6.9" fill="#a4a5a8" stroke="#000" stroke-width="2.9"/><circle cx="465.4" cy="1174.7" r="6.9" fill="#a4a5a8" stroke="#000" stroke-width="2.9"/><circle cx="483.9" cy="1171.5" r="6.9" fill="#a4a5a8" stroke="#000" stroke-width="2.9"/><circle cx="496.7" cy="1177.9" r="6.9" fill="#a4a5a8" stroke="#000" stroke-width="2.9"/><circle cx="475.1" cy="1184.4" r="6.9" fill="#a4a5a8" stroke="#000" stroke-width="2.9"/><circle cx="481.8" cy="1190.8" r="6.9" fill="#a4a5a8" stroke="#000" stroke-width="2.9"/><circle cx="463" cy="1202" r="6.9" fill="#a4a5a8" stroke="#000" stroke-width="2.9"/><circle cx="474.3" cy="1197.2" r="6.9" fill="#a4a5a8" stroke="#000" stroke-width="2.9"/><circle cx="492.7" cy="1200.4" r="6.9" fill="#a4a5a8" stroke="#000" stroke-width="2.9"/><circle cx="486.3" cy="1204.4" r="6.9" fill="#a4a5a8" stroke="#000" stroke-width="2.9"/><circle cx="475.1" cy="1222.8" r="6.9" fill="#a4a5a8" stroke="#000" stroke-width="2.9"/><circle cx="481.8" cy="1222.8" r="6.9" fill="#a4a5a8" stroke="#000" stroke-width="2.9"/><circle cx="471.9" cy="1240.4" r="6.9" fill="#a4a5a8" stroke="#000" stroke-width="2.9"/><circle cx="483.9" cy="1238" r="6.9" fill="#a4a5a8" stroke="#000" stroke-width="2.9"/><circle cx="477.9" cy="1253.3" r="6.9" fill="#a4a5a8" stroke="#000" stroke-width="2.9"/><circle cx="471.9" cy="1253.3" r="6.9" fill="#a4a5a8" stroke="#000" stroke-width="2.9"/><circle cx="486.3" cy="1253.3" r="6.9" fill="#a4a5a8" stroke="#000" stroke-width="2.9"/><circle cx="475.1" cy="1266.9" r="6.9" fill="#a4a5a8" stroke="#000" stroke-width="2.9"/><circle cx="486.3" cy="1270.1" r="6.9" fill="#a4a5a8" stroke="#000" stroke-width="2.9"/><circle cx="468.7" cy="1275.7" r="6.9" fill="#a4a5a8" stroke="#000" stroke-width="2.9"/><circle cx="481.5" cy="1272.5" r="6.9" fill="#a4a5a8" stroke="#000" stroke-width="2.9"/><circle cx="557.6" cy="1164.3" r="6.9" fill="#efe77a" stroke="#000" stroke-width="2.9"/><circle cx="551.7" cy="1166.7" r="6.9" fill="#efe77a" stroke="#000" stroke-width="2.9"/><circle cx="548" cy="1188.4" r="6.9" fill="#efe77a" stroke="#000" stroke-width="2.9"/><circle cx="560.8" cy="1192.4" r="6.9" fill="#efe77a" stroke="#000" stroke-width="2.9"/><circle cx="554.4" cy="1190.8" r="6.9" fill="#efe77a" stroke="#000" stroke-width="2.9"/><circle cx="551.2" cy="1202" r="6.9" fill="#efe77a" stroke="#000" stroke-width="2.9"/><circle cx="558.1" cy="1207.6" r="6.9" fill="#efe77a" stroke="#000" stroke-width="2.9"/><circle cx="541.6" cy="1220.4" r="6.9" fill="#efe77a" stroke="#000" stroke-width="2.9"/><circle cx="545.6" cy="1216.4" r="6.9" fill="#efe77a" stroke="#000" stroke-width="2.9"/><circle cx="563.2" cy="1220.4" r="6.9" fill="#efe77a" stroke="#000" stroke-width="2.9"/><circle cx="554.4" cy="1227.6" r="6.9" fill="#efe77a" stroke="#000" stroke-width="2.9"/><circle cx="551.2" cy="1232.4" r="6.9" fill="#efe77a" stroke="#000" stroke-width="2.9"/><circle cx="566.4" cy="1232.4" r="6.9" fill="#efe77a" stroke="#000" stroke-width="2.9"/><circle cx="551.2" cy="1242.9" r="6.9" fill="#efe77a" stroke="#000" stroke-width="2.9"/><circle cx="560.8" cy="1254.1" r="6.9" fill="#efe77a" stroke="#000" stroke-width="2.9"/><circle cx="548" cy="1259.7" r="6.9" fill="#efe77a" stroke="#000" stroke-width="2.9"/><circle cx="558.1" cy="1265.3" r="6.9" fill="#efe77a" stroke="#000" stroke-width="2.9"/><circle cx="537.6" cy="1270.9" r="6.9" fill="#efe77a" stroke="#000" stroke-width="2.9"/><circle cx="545.6" cy="1274.1" r="6.9" fill="#efe77a" stroke="#000" stroke-width="2.9"/><circle cx="563.2" cy="1272.5" r="6.9" fill="#efe77a" stroke="#000" stroke-width="2.9"/><circle cx="570.4" cy="1274.1" r="6.9" fill="#efe77a" stroke="#000" stroke-width="2.9"/><circle cx="536" cy="1282.1" r="6.9" fill="#efe77a" stroke="#000" stroke-width="2.9"/><circle cx="554.4" cy="1280.5" r="6.9" fill="#efe77a" stroke="#000" stroke-width="2.9"/><circle cx="566.4" cy="1281.3" r="6.9" fill="#efe77a" stroke="#000" stroke-width="2.9"/><circle cx="573.6" cy="1285.3" r="6.9" fill="#efe77a" stroke="#000" stroke-width="2.9"/><circle cx="548" cy="1285.3" r="6.9" fill="#efe77a" stroke="#000" stroke-width="2.9"/><circle cx="560.8" cy="1289.3" r="6.9" fill="#efe77a" stroke="#000" stroke-width="2.9"/><circle cx="630.8" cy="1153.9" r="6.9" fill="#035ea0" stroke="#000" stroke-width="2.9"/><circle cx="624.9" cy="1177.9" r="6.9" fill="#035ea0" stroke="#000" stroke-width="2.9"/><circle cx="637.2" cy="1185.2" r="6.9" fill="#035ea0" stroke="#000" stroke-width="2.9"/><circle cx="624.9" cy="1196.4" r="6.9" fill="#035ea0" stroke="#000" stroke-width="2.9"/><circle cx="637.2" cy="1203.6" r="6.9" fill="#035ea0" stroke="#000" stroke-width="2.9"/><circle cx="624.9" cy="1221.2" r="6.9" fill="#035ea0" stroke="#000" stroke-width="2.9"/><circle cx="637.2" cy="1234" r="6.9" fill="#035ea0" stroke="#000" stroke-width="2.9"/><circle cx="624.9" cy="1239.6" r="6.9" fill="#035ea0" stroke="#000" stroke-width="2.9"/><circle cx="612.9" cy="1274.9" r="6.9" fill="#035ea0" stroke="#000" stroke-width="2.9"/><circle cx="624.9" cy="1266.9" r="6.9" fill="#035ea0" stroke="#000" stroke-width="2.9"/><circle cx="637.2" cy="1274.1" r="6.9" fill="#035ea0" stroke="#000" stroke-width="2.9"/><circle cx="649.7" cy="1270.9" r="6.9" fill="#035ea0" stroke="#000" stroke-width="2.9"/><path d="M478.1 1198.8V1213.2M463.3 1198.8H492.9M463.3 1213.2H492.9" stroke="#000" stroke-width="3.8" fill="none"/><path d="M631.3 1213.2V1235.6M616.5 1213.2H646.1M616.5 1235.6H646.1" stroke="#000" stroke-width="2.8" fill="none"/><line x1="466.3" y1="1006.2" x2="570.4" y2="1006.2" stroke="#000" stroke-width="2.4"/><text x="524.7" y="996.9" font-size="23" text-anchor="middle">0.0024</text><text x="554.3" y="937" font-size="27" font-weight="bold" text-anchor="middle">CD4</text><rect x="745.9" y="1234.8" width="46.8" height="64.6" fill="#d9d9d9" stroke="#000" stroke-width="2.9"/><rect x="818.8" y="1260.5" width="47.2" height="38.9" fill="#f6f0c7" stroke="#000" stroke-width="2.9"/><rect x="891.7" y="1254.3" width="46.9" height="45.1" fill="#88acd6" stroke="#000" stroke-width="2.9"/><line x1="733.2" y1="973.8" x2="733.2" y2="1299.4" stroke="#000" stroke-width="2.8"/><line x1="720.7" y1="975" x2="733.2" y2="975" stroke="#000" stroke-width="2.4"/><text x="714.2" y="981.8" font-size="19" text-anchor="end">60</text><line x1="720.7" y1="1082.6" x2="733.2" y2="1082.6" stroke="#000" stroke-width="2.4"/><text x="714.2" y="1089.4" font-size="19" text-anchor="end">40</text><line x1="720.7" y1="1191.1" x2="733.2" y2="1191.1" stroke="#000" stroke-width="2.4"/><text x="714.2" y="1197.9" font-size="19" text-anchor="end">20</text><line x1="720.7" y1="1299.4" x2="733.2" y2="1299.4" stroke="#000" stroke-width="2.4"/><text x="714.2" y="1306.2" font-size="19" text-anchor="end">0</text><line x1="731.8" y1="1299.4" x2="952" y2="1299.4" stroke="#000" stroke-width="2.8"/><circle cx="733.2" cy="1300.1" r="2.8" fill="#000"/><circle cx="744.3" cy="1300.1" r="2.8" fill="#000"/><circle cx="755.4" cy="1300.1" r="2.8" fill="#000"/><circle cx="766.5" cy="1300.1" r="2.8" fill="#000"/><circle cx="777.6" cy="1300.1" r="2.8" fill="#000"/><circle cx="788.7" cy="1300.1" r="2.8" fill="#000"/><circle cx="799.8" cy="1300.1" r="2.8" fill="#000"/><circle cx="810.9" cy="1300.1" r="2.8" fill="#000"/><circle cx="822" cy="1300.1" r="2.8" fill="#000"/><circle cx="833.1" cy="1300.1" r="2.8" fill="#000"/><circle cx="844.2" cy="1300.1" r="2.8" fill="#000"/><circle cx="855.3" cy="1300.1" r="2.8" fill="#000"/><circle cx="866.4" cy="1300.1" r="2.8" fill="#000"/><circle cx="877.5" cy="1300.1" r="2.8" fill="#000"/><circle cx="888.6" cy="1300.1" r="2.8" fill="#000"/><circle cx="899.7" cy="1300.1" r="2.8" fill="#000"/><circle cx="910.8" cy="1300.1" r="2.8" fill="#000"/><circle cx="921.9" cy="1300.1" r="2.8" fill="#000"/><circle cx="933" cy="1300.1" r="2.8" fill="#000"/><circle cx="944.1" cy="1300.1" r="2.8" fill="#000"/><line x1="769.3" y1="1299.4" x2="769.3" y2="1307.4" stroke="#000" stroke-width="2.9"/><line x1="842.4" y1="1299.4" x2="842.4" y2="1307.4" stroke="#000" stroke-width="2.9"/><line x1="915.2" y1="1299.4" x2="915.2" y2="1307.4" stroke="#000" stroke-width="2.9"/><path d="M842.4 1252V1265M827.6 1252H857.2M827.6 1265H857.2" stroke="#000" stroke-width="2.8" fill="none"/><circle cx="769.4" cy="1159.4" r="6.9" fill="#a4a5a8" stroke="#000" stroke-width="2.9"/><circle cx="775.5" cy="1165.8" r="6.9" fill="#a4a5a8" stroke="#000" stroke-width="2.9"/><circle cx="763.1" cy="1171.4" r="6.9" fill="#a4a5a8" stroke="#000" stroke-width="2.9"/><circle cx="775.5" cy="1182.4" r="6.9" fill="#a4a5a8" stroke="#000" stroke-width="2.9"/><circle cx="763.1" cy="1189.4" r="6.9" fill="#a4a5a8" stroke="#000" stroke-width="2.9"/><circle cx="787.7" cy="1201.7" r="6.9" fill="#a4a5a8" stroke="#000" stroke-width="2.9"/><circle cx="763.8" cy="1203.8" r="6.9" fill="#a4a5a8" stroke="#000" stroke-width="2.9"/><circle cx="751.8" cy="1212.3" r="6.9" fill="#a4a5a8" stroke="#000" stroke-width="2.9"/><circle cx="781.4" cy="1210.9" r="6.9" fill="#a4a5a8" stroke="#000" stroke-width="2.9"/><circle cx="787.7" cy="1216.5" r="6.9" fill="#a4a5a8" stroke="#000" stroke-width="2.9"/><circle cx="758.8" cy="1220.8" r="6.9" fill="#a4a5a8" stroke="#000" stroke-width="2.9"/><circle cx="751.8" cy="1233.4" r="6.9" fill="#a4a5a8" stroke="#000" stroke-width="2.9"/><circle cx="780.7" cy="1233.4" r="6.9" fill="#a4a5a8" stroke="#000" stroke-width="2.9"/><circle cx="769.4" cy="1246.1" r="6.9" fill="#a4a5a8" stroke="#000" stroke-width="2.9"/><circle cx="787" cy="1243.3" r="6.9" fill="#a4a5a8" stroke="#000" stroke-width="2.9"/><circle cx="751.8" cy="1249.7" r="6.9" fill="#a4a5a8" stroke="#000" stroke-width="2.9"/><circle cx="757.4" cy="1257.4" r="6.9" fill="#a4a5a8" stroke="#000" stroke-width="2.9"/><circle cx="775.1" cy="1258.8" r="6.9" fill="#a4a5a8" stroke="#000" stroke-width="2.9"/><circle cx="751.1" cy="1265.9" r="6.9" fill="#a4a5a8" stroke="#000" stroke-width="2.9"/><circle cx="763.1" cy="1268.7" r="6.9" fill="#a4a5a8" stroke="#000" stroke-width="2.9"/><circle cx="774.4" cy="1274.3" r="6.9" fill="#a4a5a8" stroke="#000" stroke-width="2.9"/><circle cx="787" cy="1272.9" r="6.9" fill="#a4a5a8" stroke="#000" stroke-width="2.9"/><circle cx="757.4" cy="1277.9" r="6.9" fill="#a4a5a8" stroke="#000" stroke-width="2.9"/><circle cx="781.1" cy="1287" r="6.9" fill="#a4a5a8" stroke="#000" stroke-width="2.9"/><circle cx="765.9" cy="1236.3" r="6.9" fill="#a4a5a8" stroke="#000" stroke-width="2.9"/><circle cx="842" cy="1182.4" r="6.9" fill="#efe77a" stroke="#000" stroke-width="2.9"/><circle cx="842" cy="1190.4" r="6.9" fill="#efe77a" stroke="#000" stroke-width="2.9"/><circle cx="839.9" cy="1205.2" r="6.9" fill="#efe77a" stroke="#000" stroke-width="2.9"/><circle cx="844.9" cy="1209.5" r="6.9" fill="#efe77a" stroke="#000" stroke-width="2.9"/><circle cx="839.2" cy="1214.4" r="6.9" fill="#efe77a" stroke="#000" stroke-width="2.9"/><circle cx="844.9" cy="1220.8" r="6.9" fill="#efe77a" stroke="#000" stroke-width="2.9"/><circle cx="831.5" cy="1241.2" r="6.9" fill="#efe77a" stroke="#000" stroke-width="2.9"/><circle cx="840.3" cy="1238.4" r="6.9" fill="#efe77a" stroke="#000" stroke-width="2.9"/><circle cx="844.2" cy="1236.3" r="6.9" fill="#efe77a" stroke="#000" stroke-width="2.9"/><circle cx="835.7" cy="1252.5" r="6.9" fill="#efe77a" stroke="#000" stroke-width="2.9"/><circle cx="849.1" cy="1249.7" r="6.9" fill="#efe77a" stroke="#000" stroke-width="2.9"/><circle cx="854" cy="1249" r="6.9" fill="#efe77a" stroke="#000" stroke-width="2.9"/><circle cx="832.9" cy="1270.1" r="6.9" fill="#efe77a" stroke="#000" stroke-width="2.9"/><circle cx="847" cy="1266.6" r="6.9" fill="#efe77a" stroke="#000" stroke-width="2.9"/><circle cx="856.8" cy="1270.1" r="6.9" fill="#efe77a" stroke="#000" stroke-width="2.9"/><circle cx="823.7" cy="1280" r="6.9" fill="#efe77a" stroke="#000" stroke-width="2.9"/><circle cx="837.8" cy="1278.6" r="6.9" fill="#efe77a" stroke="#000" stroke-width="2.9"/><circle cx="861.1" cy="1280.7" r="6.9" fill="#efe77a" stroke="#000" stroke-width="2.9"/><circle cx="827.2" cy="1290.6" r="6.9" fill="#efe77a" stroke="#000" stroke-width="2.9"/><circle cx="849.1" cy="1286.3" r="6.9" fill="#efe77a" stroke="#000" stroke-width="2.9"/><circle cx="858.3" cy="1287.7" r="6.9" fill="#efe77a" stroke="#000" stroke-width="2.9"/><circle cx="844.9" cy="1295.5" r="6.9" fill="#efe77a" stroke="#000" stroke-width="2.9"/><circle cx="833.6" cy="1287" r="6.9" fill="#efe77a" stroke="#000" stroke-width="2.9"/><circle cx="915.4" cy="1157" r="6.9" fill="#035ea0" stroke="#000" stroke-width="2.9"/><circle cx="897.7" cy="1228.1" r="6.9" fill="#035ea0" stroke="#000" stroke-width="2.9"/><circle cx="933.7" cy="1229.2" r="6.9" fill="#035ea0" stroke="#000" stroke-width="2.9"/><circle cx="909.4" cy="1241.2" r="6.9" fill="#035ea0" stroke="#000" stroke-width="2.9"/><circle cx="921.3" cy="1235.6" r="6.9" fill="#035ea0" stroke="#000" stroke-width="2.9"/><circle cx="933.7" cy="1258.1" r="6.9" fill="#035ea0" stroke="#000" stroke-width="2.9"/><circle cx="897.7" cy="1269.4" r="6.9" fill="#035ea0" stroke="#000" stroke-width="2.9"/><circle cx="921.3" cy="1269.4" r="6.9" fill="#035ea0" stroke="#000" stroke-width="2.9"/><circle cx="909.4" cy="1278.6" r="6.9" fill="#035ea0" stroke="#000" stroke-width="2.9"/><circle cx="933.7" cy="1282.8" r="6.9" fill="#035ea0" stroke="#000" stroke-width="2.9"/><circle cx="921.3" cy="1286.3" r="6.9" fill="#035ea0" stroke="#000" stroke-width="2.9"/><circle cx="897.7" cy="1290.6" r="6.9" fill="#035ea0" stroke="#000" stroke-width="2.9"/><path d="M769.3 1226.4V1238.4M754.5 1226.4H784.1M754.5 1238.4H784.1" stroke="#000" stroke-width="3.8" fill="none"/><path d="M915.2 1235.5V1270M900.4 1235.5H930M900.4 1270H930" stroke="#000" stroke-width="2.8" fill="none"/><line x1="744" y1="1036.6" x2="846.5" y2="1036.6" stroke="#000" stroke-width="2.4"/><text x="794.8" y="1023.4" font-size="23" text-anchor="middle">0.0044</text><text x="842.5" y="936.3" font-size="27" font-weight="bold" text-anchor="middle">CD8</text><rect x="1040.5" y="1175.3" width="48.4" height="124.1" fill="#d9d9d9" stroke="#000" stroke-width="2.9"/><rect x="1117" y="1213.4" width="48.8" height="86" fill="#f6f0c7" stroke="#000" stroke-width="2.9"/><rect x="1193.6" y="1184.8" width="48.4" height="114.6" fill="#88acd6" stroke="#000" stroke-width="2.9"/><line x1="1026.6" y1="974.5" x2="1026.6" y2="1299.4" stroke="#000" stroke-width="2.8"/><line x1="1014.1" y1="975.7" x2="1026.6" y2="975.7" stroke="#000" stroke-width="2.4"/><text x="1007.6" y="982.5" font-size="19" text-anchor="end">12</text><line x1="1014.1" y1="1083.8" x2="1026.6" y2="1083.8" stroke="#000" stroke-width="2.4"/><text x="1007.6" y="1090.6" font-size="19" text-anchor="end">8</text><line x1="1014.1" y1="1191.5" x2="1026.6" y2="1191.5" stroke="#000" stroke-width="2.4"/><text x="1007.6" y="1198.3" font-size="19" text-anchor="end">4</text><line x1="1014.1" y1="1299.4" x2="1026.6" y2="1299.4" stroke="#000" stroke-width="2.4"/><text x="1007.6" y="1306.2" font-size="19" text-anchor="end">0</text><line x1="1025.2" y1="1299.4" x2="1255.9" y2="1299.4" stroke="#000" stroke-width="2.8"/><circle cx="1026.6" cy="1300.1" r="2.8" fill="#000"/><circle cx="1037.7" cy="1300.1" r="2.8" fill="#000"/><circle cx="1048.8" cy="1300.1" r="2.8" fill="#000"/><circle cx="1059.9" cy="1300.1" r="2.8" fill="#000"/><circle cx="1071" cy="1300.1" r="2.8" fill="#000"/><circle cx="1082.1" cy="1300.1" r="2.8" fill="#000"/><circle cx="1093.2" cy="1300.1" r="2.8" fill="#000"/><circle cx="1104.3" cy="1300.1" r="2.8" fill="#000"/><circle cx="1115.4" cy="1300.1" r="2.8" fill="#000"/><circle cx="1126.5" cy="1300.1" r="2.8" fill="#000"/><circle cx="1137.6" cy="1300.1" r="2.8" fill="#000"/><circle cx="1148.7" cy="1300.1" r="2.8" fill="#000"/><circle cx="1159.8" cy="1300.1" r="2.8" fill="#000"/><circle cx="1170.9" cy="1300.1" r="2.8" fill="#000"/><circle cx="1182" cy="1300.1" r="2.8" fill="#000"/><circle cx="1193.1" cy="1300.1" r="2.8" fill="#000"/><circle cx="1204.2" cy="1300.1" r="2.8" fill="#000"/><circle cx="1215.3" cy="1300.1" r="2.8" fill="#000"/><circle cx="1226.4" cy="1300.1" r="2.8" fill="#000"/><circle cx="1237.5" cy="1300.1" r="2.8" fill="#000"/><circle cx="1248.6" cy="1300.1" r="2.8" fill="#000"/><line x1="1064.7" y1="1299.4" x2="1064.7" y2="1307.4" stroke="#000" stroke-width="2.9"/><line x1="1141.4" y1="1299.4" x2="1141.4" y2="1307.4" stroke="#000" stroke-width="2.9"/><line x1="1217.8" y1="1299.4" x2="1217.8" y2="1307.4" stroke="#000" stroke-width="2.9"/><path d="M1141.4 1200V1224M1126.6 1200H1156.2M1126.6 1224H1156.2" stroke="#000" stroke-width="2.8" fill="none"/><circle cx="1059.6" cy="1008.8" r="6.9" fill="#a4a5a8" stroke="#000" stroke-width="2.9"/><circle cx="1069.5" cy="1016.4" r="6.9" fill="#a4a5a8" stroke="#000" stroke-width="2.9"/><circle cx="1064.7" cy="1063" r="6.9" fill="#a4a5a8" stroke="#000" stroke-width="2.9"/><circle cx="1064.7" cy="1076.4" r="6.9" fill="#a4a5a8" stroke="#000" stroke-width="2.9"/><circle cx="1055.2" cy="1086.7" r="6.9" fill="#a4a5a8" stroke="#000" stroke-width="2.9"/><circle cx="1064.7" cy="1091.1" r="6.9" fill="#a4a5a8" stroke="#000" stroke-width="2.9"/><circle cx="1074.2" cy="1091.8" r="6.9" fill="#a4a5a8" stroke="#000" stroke-width="2.9"/><circle cx="1064.7" cy="1122.2" r="6.9" fill="#a4a5a8" stroke="#000" stroke-width="2.9"/><circle cx="1046.4" cy="1152.6" r="6.9" fill="#a4a5a8" stroke="#000" stroke-width="2.9"/><circle cx="1055.2" cy="1155.6" r="6.9" fill="#a4a5a8" stroke="#000" stroke-width="2.9"/><circle cx="1064.7" cy="1158.5" r="6.9" fill="#a4a5a8" stroke="#000" stroke-width="2.9"/><circle cx="1074.2" cy="1164.4" r="6.9" fill="#a4a5a8" stroke="#000" stroke-width="2.9"/><circle cx="1083.7" cy="1162.2" r="6.9" fill="#a4a5a8" stroke="#000" stroke-width="2.9"/><circle cx="1046.4" cy="1176.1" r="6.9" fill="#a4a5a8" stroke="#000" stroke-width="2.9"/><circle cx="1055.2" cy="1173.2" r="6.9" fill="#a4a5a8" stroke="#000" stroke-width="2.9"/><circle cx="1074.2" cy="1179.7" r="6.9" fill="#a4a5a8" stroke="#000" stroke-width="2.9"/><circle cx="1083.7" cy="1182.7" r="6.9" fill="#a4a5a8" stroke="#000" stroke-width="2.9"/><circle cx="1064.7" cy="1183.4" r="6.9" fill="#a4a5a8" stroke="#000" stroke-width="2.9"/><circle cx="1046.4" cy="1190" r="6.9" fill="#a4a5a8" stroke="#000" stroke-width="2.9"/><circle cx="1074.2" cy="1195.9" r="6.9" fill="#a4a5a8" stroke="#000" stroke-width="2.9"/><circle cx="1055.2" cy="1201.7" r="6.9" fill="#a4a5a8" stroke="#000" stroke-width="2.9"/><circle cx="1064.7" cy="1201" r="6.9" fill="#a4a5a8" stroke="#000" stroke-width="2.9"/><circle cx="1055.2" cy="1217.8" r="6.9" fill="#a4a5a8" stroke="#000" stroke-width="2.9"/><circle cx="1064.7" cy="1217.8" r="6.9" fill="#a4a5a8" stroke="#000" stroke-width="2.9"/><circle cx="1074.2" cy="1222.2" r="6.9" fill="#a4a5a8" stroke="#000" stroke-width="2.9"/><circle cx="1046.4" cy="1231" r="6.9" fill="#a4a5a8" stroke="#000" stroke-width="2.9"/><circle cx="1055.2" cy="1236.2" r="6.9" fill="#a4a5a8" stroke="#000" stroke-width="2.9"/><circle cx="1074.2" cy="1237.6" r="6.9" fill="#a4a5a8" stroke="#000" stroke-width="2.9"/><circle cx="1064.7" cy="1244.9" r="6.9" fill="#a4a5a8" stroke="#000" stroke-width="2.9"/><circle cx="1055.2" cy="1254.5" r="6.9" fill="#a4a5a8" stroke="#000" stroke-width="2.9"/><circle cx="1074.2" cy="1255.9" r="6.9" fill="#a4a5a8" stroke="#000" stroke-width="2.9"/><circle cx="1060.3" cy="1272.8" r="6.9" fill="#a4a5a8" stroke="#000" stroke-width="2.9"/><circle cx="1069.8" cy="1272.1" r="6.9" fill="#a4a5a8" stroke="#000" stroke-width="2.9"/><circle cx="1141.3" cy="1030.3" r="6.9" fill="#efe77a" stroke="#000" stroke-width="2.9"/><circle cx="1141.3" cy="1109.9" r="6.9" fill="#efe77a" stroke="#000" stroke-width="2.9"/><circle cx="1141.3" cy="1126" r="6.9" fill="#efe77a" stroke="#000" stroke-width="2.9"/><circle cx="1141.3" cy="1142.1" r="6.9" fill="#efe77a" stroke="#000" stroke-width="2.9"/><circle cx="1137.9" cy="1163.6" r="6.9" fill="#efe77a" stroke="#000" stroke-width="2.9"/><circle cx="1144.5" cy="1172.4" r="6.9" fill="#efe77a" stroke="#000" stroke-width="2.9"/><circle cx="1128.4" cy="1180.5" r="6.9" fill="#efe77a" stroke="#000" stroke-width="2.9"/><circle cx="1135.8" cy="1180.5" r="6.9" fill="#efe77a" stroke="#000" stroke-width="2.9"/><circle cx="1153.3" cy="1184.1" r="6.9" fill="#efe77a" stroke="#000" stroke-width="2.9"/><circle cx="1144.5" cy="1188.5" r="6.9" fill="#efe77a" stroke="#000" stroke-width="2.9"/><circle cx="1150.4" cy="1195.9" r="6.9" fill="#efe77a" stroke="#000" stroke-width="2.9"/><circle cx="1132.1" cy="1199.5" r="6.9" fill="#efe77a" stroke="#000" stroke-width="2.9"/><circle cx="1146.7" cy="1203.9" r="6.9" fill="#efe77a" stroke="#000" stroke-width="2.9"/><circle cx="1135" cy="1212" r="6.9" fill="#efe77a" stroke="#000" stroke-width="2.9"/><circle cx="1150.4" cy="1220" r="6.9" fill="#efe77a" stroke="#000" stroke-width="2.9"/><circle cx="1132.1" cy="1227.4" r="6.9" fill="#efe77a" stroke="#000" stroke-width="2.9"/><circle cx="1141.6" cy="1223" r="6.9" fill="#efe77a" stroke="#000" stroke-width="2.9"/><circle cx="1137.9" cy="1242" r="6.9" fill="#efe77a" stroke="#000" stroke-width="2.9"/><circle cx="1144.5" cy="1253.7" r="6.9" fill="#efe77a" stroke="#000" stroke-width="2.9"/><circle cx="1146.7" cy="1258.9" r="6.9" fill="#efe77a" stroke="#000" stroke-width="2.9"/><circle cx="1131.4" cy="1269.1" r="6.9" fill="#efe77a" stroke="#000" stroke-width="2.9"/><circle cx="1140.9" cy="1270.6" r="6.9" fill="#efe77a" stroke="#000" stroke-width="2.9"/><circle cx="1153.3" cy="1271.3" r="6.9" fill="#efe77a" stroke="#000" stroke-width="2.9"/><circle cx="1122.6" cy="1278.6" r="6.9" fill="#efe77a" stroke="#000" stroke-width="2.9"/><circle cx="1135.8" cy="1273.5" r="6.9" fill="#efe77a" stroke="#000" stroke-width="2.9"/><circle cx="1147.5" cy="1282.3" r="6.9" fill="#efe77a" stroke="#000" stroke-width="2.9"/><circle cx="1159.9" cy="1280.8" r="6.9" fill="#efe77a" stroke="#000" stroke-width="2.9"/><circle cx="1217.8" cy="1055.5" r="6.9" fill="#035ea0" stroke="#000" stroke-width="2.9"/><circle cx="1217.8" cy="1099.9" r="6.9" fill="#035ea0" stroke="#000" stroke-width="2.9"/><circle cx="1217.8" cy="1116.7" r="6.9" fill="#035ea0" stroke="#000" stroke-width="2.9"/><circle cx="1217.8" cy="1146" r="6.9" fill="#035ea0" stroke="#000" stroke-width="2.9"/><circle cx="1217.8" cy="1171" r="6.9" fill="#035ea0" stroke="#000" stroke-width="2.9"/><circle cx="1199.5" cy="1210.5" r="6.9" fill="#035ea0" stroke="#000" stroke-width="2.9"/><circle cx="1217.8" cy="1203.2" r="6.9" fill="#035ea0" stroke="#000" stroke-width="2.9"/><circle cx="1236.6" cy="1204.7" r="6.9" fill="#035ea0" stroke="#000" stroke-width="2.9"/><circle cx="1217.8" cy="1219.3" r="6.9" fill="#035ea0" stroke="#000" stroke-width="2.9"/><circle cx="1217.8" cy="1234" r="6.9" fill="#035ea0" stroke="#000" stroke-width="2.9"/><circle cx="1208.7" cy="1265.5" r="6.9" fill="#035ea0" stroke="#000" stroke-width="2.9"/><circle cx="1227" cy="1262.5" r="6.9" fill="#035ea0" stroke="#000" stroke-width="2.9"/><path d="M1064.7 1160V1184.9M1049.9 1160H1079.5M1049.9 1184.9H1079.5" stroke="#000" stroke-width="3.8" fill="none"/><path d="M1217.8 1163.6V1201M1203 1163.6H1232.6M1203 1201H1232.6" stroke="#000" stroke-width="2.8" fill="none"/><line x1="1044.3" y1="993.3" x2="1149" y2="993.3" stroke="#000" stroke-width="2.4"/><text x="1096.1" y="984" font-size="23" text-anchor="middle">0.0494</text><text x="1140.8" y="932.7" font-size="27" font-weight="bold" text-anchor="middle">CD19</text><rect x="1357.3" y="1233.9" width="48.9" height="63.8" fill="#d9d9d9" stroke="#000" stroke-width="2.9"/><rect x="1433.8" y="1247.1" width="49.1" height="50.6" fill="#f6f0c7" stroke="#000" stroke-width="2.9"/><rect x="1510.3" y="1247.1" width="49.5" height="50.6" fill="#88acd6" stroke="#000" stroke-width="2.9"/><line x1="1343.7" y1="973.5" x2="1343.7" y2="1297.7" stroke="#000" stroke-width="2.8"/><line x1="1331.2" y1="974.7" x2="1343.7" y2="974.7" stroke="#000" stroke-width="2.4"/><text x="1324.7" y="981.5" font-size="19" text-anchor="end">25</text><line x1="1331.2" y1="1039.5" x2="1343.7" y2="1039.5" stroke="#000" stroke-width="2.4"/><text x="1324.7" y="1046.3" font-size="19" text-anchor="end">20</text><line x1="1331.2" y1="1104.3" x2="1343.7" y2="1104.3" stroke="#000" stroke-width="2.4"/><text x="1324.7" y="1111.1" font-size="19" text-anchor="end">15</text><line x1="1331.2" y1="1168.8" x2="1343.7" y2="1168.8" stroke="#000" stroke-width="2.4"/><text x="1324.7" y="1175.6" font-size="19" text-anchor="end">10</text><line x1="1331.2" y1="1233.2" x2="1343.7" y2="1233.2" stroke="#000" stroke-width="2.4"/><text x="1324.7" y="1240" font-size="19" text-anchor="end">5</text><line x1="1331.2" y1="1297.7" x2="1343.7" y2="1297.7" stroke="#000" stroke-width="2.4"/><text x="1324.7" y="1304.5" font-size="19" text-anchor="end">0</text><line x1="1342.3" y1="1297.7" x2="1573" y2="1297.7" stroke="#000" stroke-width="2.8"/><circle cx="1343.7" cy="1298.4" r="2.8" fill="#000"/><circle cx="1354.8" cy="1298.4" r="2.8" fill="#000"/><circle cx="1365.9" cy="1298.4" r="2.8" fill="#000"/><circle cx="1377" cy="1298.4" r="2.8" fill="#000"/><circle cx="1388.1" cy="1298.4" r="2.8" fill="#000"/><circle cx="1399.2" cy="1298.4" r="2.8" fill="#000"/><circle cx="1410.3" cy="1298.4" r="2.8" fill="#000"/><circle cx="1421.4" cy="1298.4" r="2.8" fill="#000"/><circle cx="1432.5" cy="1298.4" r="2.8" fill="#000"/><circle cx="1443.6" cy="1298.4" r="2.8" fill="#000"/><circle cx="1454.7" cy="1298.4" r="2.8" fill="#000"/><circle cx="1465.8" cy="1298.4" r="2.8" fill="#000"/><circle cx="1476.9" cy="1298.4" r="2.8" fill="#000"/><circle cx="1488" cy="1298.4" r="2.8" fill="#000"/><circle cx="1499.1" cy="1298.4" r="2.8" fill="#000"/><circle cx="1510.2" cy="1298.4" r="2.8" fill="#000"/><circle cx="1521.3" cy="1298.4" r="2.8" fill="#000"/><circle cx="1532.4" cy="1298.4" r="2.8" fill="#000"/><circle cx="1543.5" cy="1298.4" r="2.8" fill="#000"/><circle cx="1554.6" cy="1298.4" r="2.8" fill="#000"/><circle cx="1565.7" cy="1298.4" r="2.8" fill="#000"/><line x1="1381.8" y1="1297.7" x2="1381.8" y2="1305.7" stroke="#000" stroke-width="2.9"/><line x1="1458.3" y1="1297.7" x2="1458.3" y2="1305.7" stroke="#000" stroke-width="2.9"/><line x1="1535" y1="1297.7" x2="1535" y2="1305.7" stroke="#000" stroke-width="2.9"/><path d="M1458.3 1234.7V1256M1443.5 1234.7H1473.1M1443.5 1256H1473.1" stroke="#000" stroke-width="2.8" fill="none"/><circle cx="1381.8" cy="1116" r="6.9" fill="#a4a5a8" stroke="#000" stroke-width="2.9"/><circle cx="1378.8" cy="1133.3" r="6.9" fill="#a4a5a8" stroke="#000" stroke-width="2.9"/><circle cx="1385.1" cy="1144.6" r="6.9" fill="#a4a5a8" stroke="#000" stroke-width="2.9"/><circle cx="1381.8" cy="1168.5" r="6.9" fill="#a4a5a8" stroke="#000" stroke-width="2.9"/><circle cx="1375.2" cy="1183.4" r="6.9" fill="#a4a5a8" stroke="#000" stroke-width="2.9"/><circle cx="1388.1" cy="1185.6" r="6.9" fill="#a4a5a8" stroke="#000" stroke-width="2.9"/><circle cx="1375.2" cy="1197.3" r="6.9" fill="#a4a5a8" stroke="#000" stroke-width="2.9"/><circle cx="1388.1" cy="1204.7" r="6.9" fill="#a4a5a8" stroke="#000" stroke-width="2.9"/><circle cx="1381.8" cy="1209.8" r="6.9" fill="#a4a5a8" stroke="#000" stroke-width="2.9"/><circle cx="1375.2" cy="1216.4" r="6.9" fill="#a4a5a8" stroke="#000" stroke-width="2.9"/><circle cx="1368.6" cy="1222.2" r="6.9" fill="#a4a5a8" stroke="#000" stroke-width="2.9"/><circle cx="1400.1" cy="1228.1" r="6.9" fill="#a4a5a8" stroke="#000" stroke-width="2.9"/><circle cx="1381.8" cy="1231" r="6.9" fill="#a4a5a8" stroke="#000" stroke-width="2.9"/><circle cx="1368.6" cy="1239.8" r="6.9" fill="#a4a5a8" stroke="#000" stroke-width="2.9"/><circle cx="1363.4" cy="1249.3" r="6.9" fill="#a4a5a8" stroke="#000" stroke-width="2.9"/><circle cx="1381.8" cy="1248.6" r="6.9" fill="#a4a5a8" stroke="#000" stroke-width="2.9"/><circle cx="1400.1" cy="1250.1" r="6.9" fill="#a4a5a8" stroke="#000" stroke-width="2.9"/><circle cx="1388.1" cy="1254.5" r="6.9" fill="#a4a5a8" stroke="#000" stroke-width="2.9"/><circle cx="1369.3" cy="1257.4" r="6.9" fill="#a4a5a8" stroke="#000" stroke-width="2.9"/><circle cx="1400.1" cy="1263.3" r="6.9" fill="#a4a5a8" stroke="#000" stroke-width="2.9"/><circle cx="1375.9" cy="1269.9" r="6.9" fill="#a4a5a8" stroke="#000" stroke-width="2.9"/><circle cx="1386.9" cy="1271.3" r="6.9" fill="#a4a5a8" stroke="#000" stroke-width="2.9"/><circle cx="1369.3" cy="1280.1" r="6.9" fill="#a4a5a8" stroke="#000" stroke-width="2.9"/><circle cx="1400.1" cy="1277.2" r="6.9" fill="#a4a5a8" stroke="#000" stroke-width="2.9"/><circle cx="1386.9" cy="1288.2" r="6.9" fill="#a4a5a8" stroke="#000" stroke-width="2.9"/><circle cx="1375.9" cy="1294" r="6.9" fill="#a4a5a8" stroke="#000" stroke-width="2.9"/><circle cx="1458.4" cy="1005.8" r="6.9" fill="#efe77a" stroke="#000" stroke-width="2.9"/><circle cx="1458.3" cy="1124.9" r="6.9" fill="#efe77a" stroke="#000" stroke-width="2.9"/><circle cx="1458.3" cy="1179.2" r="6.9" fill="#efe77a" stroke="#000" stroke-width="2.9"/><circle cx="1458.3" cy="1196" r="6.9" fill="#efe77a" stroke="#000" stroke-width="2.9"/><circle cx="1459.9" cy="1202.5" r="6.9" fill="#efe77a" stroke="#000" stroke-width="2.9"/><circle cx="1458.6" cy="1230.9" r="6.9" fill="#efe77a" stroke="#000" stroke-width="2.9"/><circle cx="1461.2" cy="1230.3" r="6.9" fill="#efe77a" stroke="#000" stroke-width="2.9"/><circle cx="1458.6" cy="1241.9" r="6.9" fill="#efe77a" stroke="#000" stroke-width="2.9"/><circle cx="1453.4" cy="1245.1" r="6.9" fill="#efe77a" stroke="#000" stroke-width="2.9"/><circle cx="1444.4" cy="1253.5" r="6.9" fill="#efe77a" stroke="#000" stroke-width="2.9"/><circle cx="1460.5" cy="1257.4" r="6.9" fill="#efe77a" stroke="#000" stroke-width="2.9"/><circle cx="1469.6" cy="1258" r="6.9" fill="#efe77a" stroke="#000" stroke-width="2.9"/><circle cx="1474.1" cy="1255.5" r="6.9" fill="#efe77a" stroke="#000" stroke-width="2.9"/><circle cx="1450.2" cy="1264.5" r="6.9" fill="#efe77a" stroke="#000" stroke-width="2.9"/><circle cx="1465" cy="1267.1" r="6.9" fill="#efe77a" stroke="#000" stroke-width="2.9"/><circle cx="1441.8" cy="1276.1" r="6.9" fill="#efe77a" stroke="#000" stroke-width="2.9"/><circle cx="1452.1" cy="1276.8" r="6.9" fill="#efe77a" stroke="#000" stroke-width="2.9"/><circle cx="1461.2" cy="1272.3" r="6.9" fill="#efe77a" stroke="#000" stroke-width="2.9"/><circle cx="1468.9" cy="1267.1" r="6.9" fill="#efe77a" stroke="#000" stroke-width="2.9"/><circle cx="1439.8" cy="1285.2" r="6.9" fill="#efe77a" stroke="#000" stroke-width="2.9"/><circle cx="1468.3" cy="1283.3" r="6.9" fill="#efe77a" stroke="#000" stroke-width="2.9"/><circle cx="1478" cy="1282.6" r="6.9" fill="#efe77a" stroke="#000" stroke-width="2.9"/><circle cx="1454.7" cy="1289.7" r="6.9" fill="#efe77a" stroke="#000" stroke-width="2.9"/><circle cx="1472.8" cy="1287.8" r="6.9" fill="#efe77a" stroke="#000" stroke-width="2.9"/><circle cx="1461.2" cy="1281.3" r="6.9" fill="#efe77a" stroke="#000" stroke-width="2.9"/><circle cx="1534.9" cy="1133.3" r="6.9" fill="#035ea0" stroke="#000" stroke-width="2.9"/><circle cx="1534.9" cy="1209" r="6.9" fill="#035ea0" stroke="#000" stroke-width="2.9"/><circle cx="1516.6" cy="1231" r="6.9" fill="#035ea0" stroke="#000" stroke-width="2.9"/><circle cx="1534.9" cy="1228.8" r="6.9" fill="#035ea0" stroke="#000" stroke-width="2.9"/><circle cx="1553.6" cy="1223" r="6.9" fill="#035ea0" stroke="#000" stroke-width="2.9"/><circle cx="1553.6" cy="1236.9" r="6.9" fill="#035ea0" stroke="#000" stroke-width="2.9"/><circle cx="1534.9" cy="1256.7" r="6.9" fill="#035ea0" stroke="#000" stroke-width="2.9"/><circle cx="1525.8" cy="1272.8" r="6.9" fill="#035ea0" stroke="#000" stroke-width="2.9"/><circle cx="1544" cy="1275.7" r="6.9" fill="#035ea0" stroke="#000" stroke-width="2.9"/><circle cx="1516.6" cy="1291.1" r="6.9" fill="#035ea0" stroke="#000" stroke-width="2.9"/><circle cx="1534.9" cy="1290.4" r="6.9" fill="#035ea0" stroke="#000" stroke-width="2.9"/><circle cx="1553.6" cy="1291.1" r="6.9" fill="#035ea0" stroke="#000" stroke-width="2.9"/><path d="M1381.8 1223.7V1240.5M1367 1223.7H1396.5M1367 1240.5H1396.5" stroke="#000" stroke-width="3.8" fill="none"/><path d="M1535 1231.5V1258.9M1520.2 1231.5H1549.8M1520.2 1258.9H1549.8" stroke="#000" stroke-width="2.8" fill="none"/><text x="1449" y="935.6" font-size="27" font-weight="bold" text-anchor="middle">NK</text><rect x="1644.2" y="1193.8" width="52.1" height="104.7" fill="#d9d9d9" stroke="#000" stroke-width="2.9"/><rect x="1727.6" y="1237.8" width="52" height="60.7" fill="#f6f0c7" stroke="#000" stroke-width="2.9"/><rect x="1810.1" y="1232.2" width="51.8" height="66.3" fill="#88acd6" stroke="#000" stroke-width="2.9"/><line x1="1629.5" y1="970.8" x2="1629.5" y2="1020.9" stroke="#000" stroke-width="2.8"/><line x1="1629.5" y1="1059" x2="1629.5" y2="1298.5" stroke="#000" stroke-width="2.8"/><line x1="1617" y1="972" x2="1629.5" y2="972" stroke="#000" stroke-width="2.4"/><text x="1615.5" y="978.8" font-size="19" text-anchor="end">25</text><line x1="1617" y1="997.7" x2="1629.5" y2="997.7" stroke="#000" stroke-width="2.4"/><text x="1615.5" y="1004.5" font-size="19" text-anchor="end">20</text><line x1="1616.5" y1="1020.9" x2="1642.5" y2="1020.9" stroke="#000" stroke-width="2.6"/><text x="1615.5" y="1027.7" font-size="19" text-anchor="end">15</text><line x1="1616.5" y1="1060.2" x2="1642.5" y2="1060.2" stroke="#000" stroke-width="2.6"/><text x="1615.5" y="1067" font-size="19" text-anchor="end">6</text><line x1="1617" y1="1140.3" x2="1629.5" y2="1140.3" stroke="#000" stroke-width="2.4"/><text x="1615.5" y="1147.1" font-size="19" text-anchor="end">4</text><line x1="1617" y1="1219.6" x2="1629.5" y2="1219.6" stroke="#000" stroke-width="2.4"/><text x="1615.5" y="1226.4" font-size="19" text-anchor="end">2</text><line x1="1617" y1="1298.5" x2="1629.5" y2="1298.5" stroke="#000" stroke-width="2.4"/><text x="1615.5" y="1305.3" font-size="19" text-anchor="end">0</text><line x1="1628.1" y1="1298.5" x2="1874.2" y2="1298.5" stroke="#000" stroke-width="2.8"/><circle cx="1629.5" cy="1299.2" r="2.8" fill="#000"/><circle cx="1640.6" cy="1299.2" r="2.8" fill="#000"/><circle cx="1651.7" cy="1299.2" r="2.8" fill="#000"/><circle cx="1662.8" cy="1299.2" r="2.8" fill="#000"/><circle cx="1673.9" cy="1299.2" r="2.8" fill="#000"/><circle cx="1685" cy="1299.2" r="2.8" fill="#000"/><circle cx="1696.1" cy="1299.2" r="2.8" fill="#000"/><circle cx="1707.2" cy="1299.2" r="2.8" fill="#000"/><circle cx="1718.3" cy="1299.2" r="2.8" fill="#000"/><circle cx="1729.4" cy="1299.2" r="2.8" fill="#000"/><circle cx="1740.5" cy="1299.2" r="2.8" fill="#000"/><circle cx="1751.6" cy="1299.2" r="2.8" fill="#000"/><circle cx="1762.7" cy="1299.2" r="2.8" fill="#000"/><circle cx="1773.8" cy="1299.2" r="2.8" fill="#000"/><circle cx="1784.9" cy="1299.2" r="2.8" fill="#000"/><circle cx="1796" cy="1299.2" r="2.8" fill="#000"/><circle cx="1807.1" cy="1299.2" r="2.8" fill="#000"/><circle cx="1818.2" cy="1299.2" r="2.8" fill="#000"/><circle cx="1829.3" cy="1299.2" r="2.8" fill="#000"/><circle cx="1840.4" cy="1299.2" r="2.8" fill="#000"/><circle cx="1851.5" cy="1299.2" r="2.8" fill="#000"/><circle cx="1862.6" cy="1299.2" r="2.8" fill="#000"/><circle cx="1873.7" cy="1299.2" r="2.8" fill="#000"/><line x1="1670.2" y1="1298.5" x2="1670.2" y2="1306.5" stroke="#000" stroke-width="2.9"/><line x1="1753.6" y1="1298.5" x2="1753.6" y2="1306.5" stroke="#000" stroke-width="2.9"/><line x1="1836" y1="1298.5" x2="1836" y2="1306.5" stroke="#000" stroke-width="2.9"/><circle cx="1673.1" cy="990.4" r="6.9" fill="#a4a5a8" stroke="#000" stroke-width="2.9"/><circle cx="1667.5" cy="999.3" r="6.9" fill="#a4a5a8" stroke="#000" stroke-width="2.9"/><circle cx="1670.4" cy="1097.8" r="6.9" fill="#a4a5a8" stroke="#000" stroke-width="2.9"/><circle cx="1670.4" cy="1120.3" r="6.9" fill="#a4a5a8" stroke="#000" stroke-width="2.9"/><circle cx="1670.4" cy="1126.7" r="6.9" fill="#a4a5a8" stroke="#000" stroke-width="2.9"/><circle cx="1670.4" cy="1144" r="6.9" fill="#a4a5a8" stroke="#000" stroke-width="2.9"/><circle cx="1670.4" cy="1168.3" r="6.9" fill="#a4a5a8" stroke="#000" stroke-width="2.9"/><circle cx="1670.4" cy="1204.4" r="6.9" fill="#a4a5a8" stroke="#000" stroke-width="2.9"/><circle cx="1667.5" cy="1230.8" r="6.9" fill="#a4a5a8" stroke="#000" stroke-width="2.9"/><circle cx="1673.1" cy="1233.2" r="6.9" fill="#a4a5a8" stroke="#000" stroke-width="2.9"/><circle cx="1655.4" cy="1237.2" r="6.9" fill="#a4a5a8" stroke="#000" stroke-width="2.9"/><circle cx="1649" cy="1238.8" r="6.9" fill="#a4a5a8" stroke="#000" stroke-width="2.9"/><circle cx="1673.1" cy="1236.4" r="6.9" fill="#a4a5a8" stroke="#000" stroke-width="2.9"/><circle cx="1684.3" cy="1237.2" r="6.9" fill="#a4a5a8" stroke="#000" stroke-width="2.9"/><circle cx="1690.7" cy="1244.5" r="6.9" fill="#a4a5a8" stroke="#000" stroke-width="2.9"/><circle cx="1665.9" cy="1241.2" r="6.9" fill="#a4a5a8" stroke="#000" stroke-width="2.9"/><circle cx="1684.3" cy="1251.7" r="6.9" fill="#a4a5a8" stroke="#000" stroke-width="2.9"/><circle cx="1661.9" cy="1257.3" r="6.9" fill="#a4a5a8" stroke="#000" stroke-width="2.9"/><circle cx="1678.7" cy="1259.7" r="6.9" fill="#a4a5a8" stroke="#000" stroke-width="2.9"/><circle cx="1655.4" cy="1261.3" r="6.9" fill="#a4a5a8" stroke="#000" stroke-width="2.9"/><circle cx="1667.5" cy="1274.1" r="6.9" fill="#a4a5a8" stroke="#000" stroke-width="2.9"/><circle cx="1655.4" cy="1278.1" r="6.9" fill="#a4a5a8" stroke="#000" stroke-width="2.9"/><circle cx="1678.7" cy="1278.9" r="6.9" fill="#a4a5a8" stroke="#000" stroke-width="2.9"/><circle cx="1690.7" cy="1281.3" r="6.9" fill="#a4a5a8" stroke="#000" stroke-width="2.9"/><circle cx="1649.8" cy="1284.5" r="6.9" fill="#a4a5a8" stroke="#000" stroke-width="2.9"/><circle cx="1673.1" cy="1288.5" r="6.9" fill="#a4a5a8" stroke="#000" stroke-width="2.9"/><circle cx="1684.3" cy="1287.7" r="6.9" fill="#a4a5a8" stroke="#000" stroke-width="2.9"/><circle cx="1753.2" cy="1106.2" r="6.9" fill="#efe77a" stroke="#000" stroke-width="2.9"/><circle cx="1753.2" cy="1122.2" r="6.9" fill="#efe77a" stroke="#000" stroke-width="2.9"/><circle cx="1753.2" cy="1140.3" r="6.9" fill="#efe77a" stroke="#000" stroke-width="2.9"/><circle cx="1751.6" cy="1158.7" r="6.9" fill="#efe77a" stroke="#000" stroke-width="2.9"/><circle cx="1754.8" cy="1161.9" r="6.9" fill="#efe77a" stroke="#000" stroke-width="2.9"/><circle cx="1758" cy="1186" r="6.9" fill="#efe77a" stroke="#000" stroke-width="2.9"/><circle cx="1747.6" cy="1189.2" r="6.9" fill="#efe77a" stroke="#000" stroke-width="2.9"/><circle cx="1754" cy="1190.8" r="6.9" fill="#efe77a" stroke="#000" stroke-width="2.9"/><circle cx="1756.4" cy="1210" r="6.9" fill="#efe77a" stroke="#000" stroke-width="2.9"/><circle cx="1748.4" cy="1210.8" r="6.9" fill="#efe77a" stroke="#000" stroke-width="2.9"/><circle cx="1751.6" cy="1227.6" r="6.9" fill="#efe77a" stroke="#000" stroke-width="2.9"/><circle cx="1754.8" cy="1232.4" r="6.9" fill="#efe77a" stroke="#000" stroke-width="2.9"/><circle cx="1751.6" cy="1248.5" r="6.9" fill="#efe77a" stroke="#000" stroke-width="2.9"/><circle cx="1754.8" cy="1259.7" r="6.9" fill="#efe77a" stroke="#000" stroke-width="2.9"/><circle cx="1748.4" cy="1258.1" r="6.9" fill="#efe77a" stroke="#000" stroke-width="2.9"/><circle cx="1753.2" cy="1274.1" r="6.9" fill="#efe77a" stroke="#000" stroke-width="2.9"/><circle cx="1737.2" cy="1278.1" r="6.9" fill="#efe77a" stroke="#000" stroke-width="2.9"/><circle cx="1746.8" cy="1278.9" r="6.9" fill="#efe77a" stroke="#000" stroke-width="2.9"/><circle cx="1766" cy="1280.5" r="6.9" fill="#efe77a" stroke="#000" stroke-width="2.9"/><circle cx="1733.2" cy="1285.3" r="6.9" fill="#efe77a" stroke="#000" stroke-width="2.9"/><circle cx="1759.6" cy="1286.1" r="6.9" fill="#efe77a" stroke="#000" stroke-width="2.9"/><circle cx="1772.4" cy="1288.5" r="6.9" fill="#efe77a" stroke="#000" stroke-width="2.9"/><circle cx="1747.6" cy="1290.9" r="6.9" fill="#efe77a" stroke="#000" stroke-width="2.9"/><circle cx="1835.7" cy="1122.2" r="6.9" fill="#035ea0" stroke="#000" stroke-width="2.9"/><circle cx="1835.7" cy="1137.6" r="6.9" fill="#035ea0" stroke="#000" stroke-width="2.9"/><circle cx="1835.7" cy="1160" r="6.9" fill="#035ea0" stroke="#000" stroke-width="2.9"/><circle cx="1835.7" cy="1183.6" r="6.9" fill="#035ea0" stroke="#000" stroke-width="2.9"/><circle cx="1829" cy="1245.3" r="6.9" fill="#035ea0" stroke="#000" stroke-width="2.9"/><circle cx="1815.7" cy="1256.5" r="6.9" fill="#035ea0" stroke="#000" stroke-width="2.9"/><circle cx="1855.8" cy="1256.5" r="6.9" fill="#035ea0" stroke="#000" stroke-width="2.9"/><circle cx="1842.1" cy="1268.5" r="6.9" fill="#035ea0" stroke="#000" stroke-width="2.9"/><circle cx="1815.7" cy="1274.9" r="6.9" fill="#035ea0" stroke="#000" stroke-width="2.9"/><circle cx="1855.8" cy="1278.9" r="6.9" fill="#035ea0" stroke="#000" stroke-width="2.9"/><circle cx="1842.1" cy="1284.5" r="6.9" fill="#035ea0" stroke="#000" stroke-width="2.9"/><circle cx="1815.7" cy="1288.5" r="6.9" fill="#035ea0" stroke="#000" stroke-width="2.9"/><text x="1752.5" y="939.7" font-size="27" font-weight="bold" text-anchor="middle">NKT</text><rect x="150.8" y="1712.3" width="49.7" height="24.2" fill="#d9d9d9" stroke="#000" stroke-width="2.9"/><rect x="227.4" y="1684.3" width="49.2" height="52.2" fill="#f6f0c7" stroke="#000" stroke-width="2.9"/><rect x="303.9" y="1695.4" width="49.3" height="41.1" fill="#88acd6" stroke="#000" stroke-width="2.9"/><line x1="137.2" y1="1412.9" x2="137.2" y2="1461.7" stroke="#000" stroke-width="2.8"/><line x1="137.2" y1="1499.8" x2="137.2" y2="1736.5" stroke="#000" stroke-width="2.8"/><line x1="130.2" y1="1414.1" x2="137.2" y2="1414.1" stroke="#000" stroke-width="2.4"/><text x="123.7" y="1420.9" font-size="19" text-anchor="end">20</text><line x1="124.2" y1="1461.7" x2="150.2" y2="1461.7" stroke="#000" stroke-width="2.6"/><text x="123.7" y="1468.5" font-size="19" text-anchor="end">10</text><line x1="124.2" y1="1501" x2="150.2" y2="1501" stroke="#000" stroke-width="2.6"/><text x="119.2" y="1507.8" font-size="19" text-anchor="end">6</text><line x1="130.2" y1="1579.5" x2="137.2" y2="1579.5" stroke="#000" stroke-width="2.4"/><text x="118.7" y="1586.3" font-size="19" text-anchor="end">4</text><line x1="130.2" y1="1658" x2="137.2" y2="1658" stroke="#000" stroke-width="2.4"/><text x="118.7" y="1664.8" font-size="19" text-anchor="end">2</text><line x1="130.2" y1="1736.5" x2="137.2" y2="1736.5" stroke="#000" stroke-width="2.4"/><text x="119.2" y="1743.3" font-size="19" text-anchor="end">0</text><line x1="135.8" y1="1736.5" x2="366.9" y2="1736.5" stroke="#000" stroke-width="2.8"/><circle cx="137.2" cy="1737.2" r="2.8" fill="#000"/><circle cx="148.3" cy="1737.2" r="2.8" fill="#000"/><circle cx="159.4" cy="1737.2" r="2.8" fill="#000"/><circle cx="170.5" cy="1737.2" r="2.8" fill="#000"/><circle cx="181.6" cy="1737.2" r="2.8" fill="#000"/><circle cx="192.7" cy="1737.2" r="2.8" fill="#000"/><circle cx="203.8" cy="1737.2" r="2.8" fill="#000"/><circle cx="214.9" cy="1737.2" r="2.8" fill="#000"/><circle cx="226" cy="1737.2" r="2.8" fill="#000"/><circle cx="237.1" cy="1737.2" r="2.8" fill="#000"/><circle cx="248.2" cy="1737.2" r="2.8" fill="#000"/><circle cx="259.3" cy="1737.2" r="2.8" fill="#000"/><circle cx="270.4" cy="1737.2" r="2.8" fill="#000"/><circle cx="281.5" cy="1737.2" r="2.8" fill="#000"/><circle cx="292.6" cy="1737.2" r="2.8" fill="#000"/><circle cx="303.7" cy="1737.2" r="2.8" fill="#000"/><circle cx="314.8" cy="1737.2" r="2.8" fill="#000"/><circle cx="325.9" cy="1737.2" r="2.8" fill="#000"/><circle cx="337" cy="1737.2" r="2.8" fill="#000"/><circle cx="348.1" cy="1737.2" r="2.8" fill="#000"/><circle cx="359.2" cy="1737.2" r="2.8" fill="#000"/><line x1="175.7" y1="1736.5" x2="175.7" y2="1744.5" stroke="#000" stroke-width="2.9"/><line x1="252" y1="1736.5" x2="252" y2="1744.5" stroke="#000" stroke-width="2.9"/><line x1="328.5" y1="1736.5" x2="328.5" y2="1744.5" stroke="#000" stroke-width="2.9"/><path d="M252 1662.8V1703M237.2 1662.8H266.8M237.2 1703H266.8" stroke="#000" stroke-width="2.8" fill="none"/><circle cx="175.7" cy="1549.4" r="6.9" fill="#a4a5a8" stroke="#000" stroke-width="2.9"/><circle cx="175.7" cy="1600" r="6.9" fill="#a4a5a8" stroke="#000" stroke-width="2.9"/><circle cx="174.9" cy="1661.2" r="6.9" fill="#a4a5a8" stroke="#000" stroke-width="2.9"/><circle cx="176.5" cy="1666" r="6.9" fill="#a4a5a8" stroke="#000" stroke-width="2.9"/><circle cx="175.7" cy="1694.9" r="6.9" fill="#a4a5a8" stroke="#000" stroke-width="2.9"/><circle cx="175.7" cy="1712.5" r="6.9" fill="#a4a5a8" stroke="#000" stroke-width="2.9"/><circle cx="158.8" cy="1726.9" r="6.9" fill="#a4a5a8" stroke="#000" stroke-width="2.9"/><circle cx="166.9" cy="1727.7" r="6.9" fill="#a4a5a8" stroke="#000" stroke-width="2.9"/><circle cx="194.1" cy="1723.7" r="6.9" fill="#a4a5a8" stroke="#000" stroke-width="2.9"/><circle cx="155.6" cy="1732.5" r="6.9" fill="#a4a5a8" stroke="#000" stroke-width="2.9"/><circle cx="169.3" cy="1735.7" r="6.9" fill="#a4a5a8" stroke="#000" stroke-width="2.9"/><circle cx="178.1" cy="1733.3" r="6.9" fill="#a4a5a8" stroke="#000" stroke-width="2.9"/><circle cx="190.1" cy="1737.3" r="6.9" fill="#a4a5a8" stroke="#000" stroke-width="2.9"/><circle cx="163.7" cy="1734.9" r="6.9" fill="#a4a5a8" stroke="#000" stroke-width="2.9"/><circle cx="251.8" cy="1428.5" r="6.9" fill="#efe77a" stroke="#000" stroke-width="2.9"/><circle cx="251.8" cy="1531.1" r="6.9" fill="#efe77a" stroke="#000" stroke-width="2.9"/><circle cx="251.8" cy="1611.9" r="6.9" fill="#efe77a" stroke="#000" stroke-width="2.9"/><circle cx="251.8" cy="1637.7" r="6.9" fill="#efe77a" stroke="#000" stroke-width="2.9"/><circle cx="251.8" cy="1662.8" r="6.9" fill="#efe77a" stroke="#000" stroke-width="2.9"/><circle cx="248.6" cy="1678" r="6.9" fill="#efe77a" stroke="#000" stroke-width="2.9"/><circle cx="254.2" cy="1682.1" r="6.9" fill="#efe77a" stroke="#000" stroke-width="2.9"/><circle cx="247" cy="1693.3" r="6.9" fill="#efe77a" stroke="#000" stroke-width="2.9"/><circle cx="243" cy="1699.7" r="6.9" fill="#efe77a" stroke="#000" stroke-width="2.9"/><circle cx="261.4" cy="1699.7" r="6.9" fill="#efe77a" stroke="#000" stroke-width="2.9"/><circle cx="253.4" cy="1704.5" r="6.9" fill="#efe77a" stroke="#000" stroke-width="2.9"/><circle cx="258.2" cy="1705.3" r="6.9" fill="#efe77a" stroke="#000" stroke-width="2.9"/><circle cx="242.2" cy="1718.1" r="6.9" fill="#efe77a" stroke="#000" stroke-width="2.9"/><circle cx="250.2" cy="1714.9" r="6.9" fill="#efe77a" stroke="#000" stroke-width="2.9"/><circle cx="261.4" cy="1720.5" r="6.9" fill="#efe77a" stroke="#000" stroke-width="2.9"/><circle cx="235" cy="1724.5" r="6.9" fill="#efe77a" stroke="#000" stroke-width="2.9"/><circle cx="240.6" cy="1726.1" r="6.9" fill="#efe77a" stroke="#000" stroke-width="2.9"/><circle cx="233.4" cy="1734.9" r="6.9" fill="#efe77a" stroke="#000" stroke-width="2.9"/><circle cx="247" cy="1734.1" r="6.9" fill="#efe77a" stroke="#000" stroke-width="2.9"/><circle cx="255.8" cy="1734.9" r="6.9" fill="#efe77a" stroke="#000" stroke-width="2.9"/><circle cx="263" cy="1734.9" r="6.9" fill="#efe77a" stroke="#000" stroke-width="2.9"/><circle cx="271" cy="1732.5" r="6.9" fill="#efe77a" stroke="#000" stroke-width="2.9"/><circle cx="328.2" cy="1534.9" r="6.9" fill="#035ea0" stroke="#000" stroke-width="2.9"/><circle cx="334.3" cy="1666" r="6.9" fill="#035ea0" stroke="#000" stroke-width="2.9"/><circle cx="322" cy="1677.2" r="6.9" fill="#035ea0" stroke="#000" stroke-width="2.9"/><circle cx="334.3" cy="1693.3" r="6.9" fill="#035ea0" stroke="#000" stroke-width="2.9"/><circle cx="322" cy="1698.9" r="6.9" fill="#035ea0" stroke="#000" stroke-width="2.9"/><circle cx="310" cy="1703.7" r="6.9" fill="#035ea0" stroke="#000" stroke-width="2.9"/><circle cx="347.1" cy="1702.6" r="6.9" fill="#035ea0" stroke="#000" stroke-width="2.9"/><circle cx="310" cy="1721.3" r="6.9" fill="#035ea0" stroke="#000" stroke-width="2.9"/><circle cx="334.3" cy="1720.5" r="6.9" fill="#035ea0" stroke="#000" stroke-width="2.9"/><circle cx="347.1" cy="1724.5" r="6.9" fill="#035ea0" stroke="#000" stroke-width="2.9"/><circle cx="310" cy="1734.9" r="6.9" fill="#035ea0" stroke="#000" stroke-width="2.9"/><circle cx="334.3" cy="1734.1" r="6.9" fill="#035ea0" stroke="#000" stroke-width="2.9"/><path d="M175.7 1703.7V1718M160.8 1703.7H190.5M160.8 1718H190.5" stroke="#000" stroke-width="3.8" fill="none"/><path d="M328.5 1677.2V1711M313.7 1677.2H343.3M313.7 1711H343.3" stroke="#000" stroke-width="2.8" fill="none"/><text x="251" y="1398.9" font-size="27" font-weight="bold" text-anchor="middle">Tr1 cells</text><text x="73.2" y="1570.9" font-size="27" font-weight="bold" text-anchor="middle" textLength="322.8" lengthAdjust="spacingAndGlyphs" transform="rotate(-90 73.2 1570.9)">% of memory CD4<tspan font-size="15" dy="-11">+</tspan><tspan dy="11"> cells</tspan></text><rect x="458.9" y="1629.8" width="49.2" height="108.2" fill="#d9d9d9" stroke="#000" stroke-width="2.9"/><rect x="535.4" y="1633" width="49.2" height="105" fill="#f6f0c7" stroke="#000" stroke-width="2.9"/><rect x="612.3" y="1631.4" width="48.9" height="106.6" fill="#88acd6" stroke="#000" stroke-width="2.9"/><line x1="445.1" y1="1412.9" x2="445.1" y2="1738" stroke="#000" stroke-width="2.8"/><line x1="438.1" y1="1414.1" x2="445.1" y2="1414.1" stroke="#000" stroke-width="2.4"/><text x="426.5" y="1420.9" font-size="19" text-anchor="end">20</text><line x1="438.1" y1="1495.8" x2="445.1" y2="1495.8" stroke="#000" stroke-width="2.4"/><text x="426.5" y="1502.6" font-size="19" text-anchor="end">15</text><line x1="438.1" y1="1577.1" x2="445.1" y2="1577.1" stroke="#000" stroke-width="2.4"/><text x="426.5" y="1583.9" font-size="19" text-anchor="end">10</text><line x1="438.1" y1="1658.3" x2="445.1" y2="1658.3" stroke="#000" stroke-width="2.4"/><text x="426.5" y="1665.1" font-size="19" text-anchor="end">5</text><line x1="438.1" y1="1738" x2="445.1" y2="1738" stroke="#000" stroke-width="2.4"/><text x="426.5" y="1744.8" font-size="19" text-anchor="end">0</text><line x1="443.7" y1="1738" x2="674.8" y2="1738" stroke="#000" stroke-width="2.8"/><circle cx="445.1" cy="1738.7" r="2.8" fill="#000"/><circle cx="456.2" cy="1738.7" r="2.8" fill="#000"/><circle cx="467.3" cy="1738.7" r="2.8" fill="#000"/><circle cx="478.4" cy="1738.7" r="2.8" fill="#000"/><circle cx="489.5" cy="1738.7" r="2.8" fill="#000"/><circle cx="500.6" cy="1738.7" r="2.8" fill="#000"/><circle cx="511.7" cy="1738.7" r="2.8" fill="#000"/><circle cx="522.8" cy="1738.7" r="2.8" fill="#000"/><circle cx="533.9" cy="1738.7" r="2.8" fill="#000"/><circle cx="545" cy="1738.7" r="2.8" fill="#000"/><circle cx="556.1" cy="1738.7" r="2.8" fill="#000"/><circle cx="567.2" cy="1738.7" r="2.8" fill="#000"/><circle cx="578.3" cy="1738.7" r="2.8" fill="#000"/><circle cx="589.4" cy="1738.7" r="2.8" fill="#000"/><circle cx="600.5" cy="1738.7" r="2.8" fill="#000"/><circle cx="611.6" cy="1738.7" r="2.8" fill="#000"/><circle cx="622.7" cy="1738.7" r="2.8" fill="#000"/><circle cx="633.8" cy="1738.7" r="2.8" fill="#000"/><circle cx="644.9" cy="1738.7" r="2.8" fill="#000"/><circle cx="656" cy="1738.7" r="2.8" fill="#000"/><circle cx="667.1" cy="1738.7" r="2.8" fill="#000"/><line x1="483.5" y1="1738" x2="483.5" y2="1746" stroke="#000" stroke-width="2.9"/><line x1="560" y1="1738" x2="560" y2="1746" stroke="#000" stroke-width="2.9"/><line x1="636.8" y1="1738" x2="636.8" y2="1746" stroke="#000" stroke-width="2.9"/><path d="M560 1622V1641M545.2 1622H574.8M545.2 1641H574.8" stroke="#000" stroke-width="2.8" fill="none"/><circle cx="483.3" cy="1549.4" r="6.9" fill="#a4a5a8" stroke="#000" stroke-width="2.9"/><circle cx="479.3" cy="1566.7" r="6.9" fill="#a4a5a8" stroke="#000" stroke-width="2.9"/><circle cx="487.3" cy="1568.3" r="6.9" fill="#a4a5a8" stroke="#000" stroke-width="2.9"/><circle cx="485.7" cy="1595.5" r="6.9" fill="#a4a5a8" stroke="#000" stroke-width="2.9"/><circle cx="472.9" cy="1603.5" r="6.9" fill="#a4a5a8" stroke="#000" stroke-width="2.9"/><circle cx="493.7" cy="1610.7" r="6.9" fill="#a4a5a8" stroke="#000" stroke-width="2.9"/><circle cx="476.9" cy="1614.7" r="6.9" fill="#a4a5a8" stroke="#000" stroke-width="2.9"/><circle cx="488.9" cy="1623.6" r="6.9" fill="#a4a5a8" stroke="#000" stroke-width="2.9"/><circle cx="464.8" cy="1642.8" r="6.9" fill="#a4a5a8" stroke="#000" stroke-width="2.9"/><circle cx="489.7" cy="1637.2" r="6.9" fill="#a4a5a8" stroke="#000" stroke-width="2.9"/><circle cx="479.3" cy="1637.2" r="6.9" fill="#a4a5a8" stroke="#000" stroke-width="2.9"/><circle cx="501.7" cy="1649.2" r="6.9" fill="#a4a5a8" stroke="#000" stroke-width="2.9"/><circle cx="467.2" cy="1654.8" r="6.9" fill="#a4a5a8" stroke="#000" stroke-width="2.9"/><circle cx="476.9" cy="1652.4" r="6.9" fill="#a4a5a8" stroke="#000" stroke-width="2.9"/><circle cx="496.1" cy="1652.4" r="6.9" fill="#a4a5a8" stroke="#000" stroke-width="2.9"/><circle cx="487.3" cy="1662" r="6.9" fill="#a4a5a8" stroke="#000" stroke-width="2.9"/><circle cx="479.3" cy="1666.8" r="6.9" fill="#a4a5a8" stroke="#000" stroke-width="2.9"/><circle cx="483.3" cy="1708.5" r="6.9" fill="#a4a5a8" stroke="#000" stroke-width="2.9"/><circle cx="571.4" cy="1549" r="6.9" fill="#efe77a" stroke="#000" stroke-width="2.9"/><circle cx="548.7" cy="1555.1" r="6.9" fill="#efe77a" stroke="#000" stroke-width="2.9"/><circle cx="563.4" cy="1553" r="6.9" fill="#efe77a" stroke="#000" stroke-width="2.9"/><circle cx="571.4" cy="1566.7" r="6.9" fill="#efe77a" stroke="#000" stroke-width="2.9"/><circle cx="556.2" cy="1573.9" r="6.9" fill="#efe77a" stroke="#000" stroke-width="2.9"/><circle cx="548.7" cy="1583.5" r="6.9" fill="#efe77a" stroke="#000" stroke-width="2.9"/><circle cx="571.4" cy="1584.3" r="6.9" fill="#efe77a" stroke="#000" stroke-width="2.9"/><circle cx="556.2" cy="1589.9" r="6.9" fill="#efe77a" stroke="#000" stroke-width="2.9"/><circle cx="548.7" cy="1599.5" r="6.9" fill="#efe77a" stroke="#000" stroke-width="2.9"/><circle cx="541" cy="1613.1" r="6.9" fill="#efe77a" stroke="#000" stroke-width="2.9"/><circle cx="555.4" cy="1609.1" r="6.9" fill="#efe77a" stroke="#000" stroke-width="2.9"/><circle cx="563.4" cy="1607.5" r="6.9" fill="#efe77a" stroke="#000" stroke-width="2.9"/><circle cx="571.1" cy="1608.3" r="6.9" fill="#efe77a" stroke="#000" stroke-width="2.9"/><circle cx="548.7" cy="1619.6" r="6.9" fill="#efe77a" stroke="#000" stroke-width="2.9"/><circle cx="563.4" cy="1621.2" r="6.9" fill="#efe77a" stroke="#000" stroke-width="2.9"/><circle cx="571.1" cy="1625.2" r="6.9" fill="#efe77a" stroke="#000" stroke-width="2.9"/><circle cx="548.7" cy="1634.8" r="6.9" fill="#efe77a" stroke="#000" stroke-width="2.9"/><circle cx="563.4" cy="1639.6" r="6.9" fill="#efe77a" stroke="#000" stroke-width="2.9"/><circle cx="578.6" cy="1637.2" r="6.9" fill="#efe77a" stroke="#000" stroke-width="2.9"/><circle cx="548.7" cy="1649.2" r="6.9" fill="#efe77a" stroke="#000" stroke-width="2.9"/><circle cx="556.2" cy="1655.6" r="6.9" fill="#efe77a" stroke="#000" stroke-width="2.9"/><circle cx="571.1" cy="1655.6" r="6.9" fill="#efe77a" stroke="#000" stroke-width="2.9"/><circle cx="548.7" cy="1666" r="6.9" fill="#efe77a" stroke="#000" stroke-width="2.9"/><circle cx="563.4" cy="1668.4" r="6.9" fill="#efe77a" stroke="#000" stroke-width="2.9"/><circle cx="578.6" cy="1669.2" r="6.9" fill="#efe77a" stroke="#000" stroke-width="2.9"/><circle cx="541" cy="1679.6" r="6.9" fill="#efe77a" stroke="#000" stroke-width="2.9"/><circle cx="563.4" cy="1682.9" r="6.9" fill="#efe77a" stroke="#000" stroke-width="2.9"/><circle cx="556.2" cy="1690.1" r="6.9" fill="#efe77a" stroke="#000" stroke-width="2.9"/><circle cx="559.4" cy="1711.7" r="6.9" fill="#efe77a" stroke="#000" stroke-width="2.9"/><circle cx="559.4" cy="1734.9" r="6.9" fill="#efe77a" stroke="#000" stroke-width="2.9"/><circle cx="636.8" cy="1527.4" r="6.9" fill="#035ea0" stroke="#000" stroke-width="2.9"/><circle cx="636.8" cy="1547.4" r="6.9" fill="#035ea0" stroke="#000" stroke-width="2.9"/><circle cx="636.8" cy="1590.7" r="6.9" fill="#035ea0" stroke="#000" stroke-width="2.9"/><circle cx="627.5" cy="1620.8" r="6.9" fill="#035ea0" stroke="#000" stroke-width="2.9"/><circle cx="645.9" cy="1620.8" r="6.9" fill="#035ea0" stroke="#000" stroke-width="2.9"/><circle cx="617.9" cy="1643.6" r="6.9" fill="#035ea0" stroke="#000" stroke-width="2.9"/><circle cx="636.8" cy="1642.8" r="6.9" fill="#035ea0" stroke="#000" stroke-width="2.9"/><circle cx="655.5" cy="1649.2" r="6.9" fill="#035ea0" stroke="#000" stroke-width="2.9"/><circle cx="636.8" cy="1665.2" r="6.9" fill="#035ea0" stroke="#000" stroke-width="2.9"/><circle cx="655.5" cy="1665.2" r="6.9" fill="#035ea0" stroke="#000" stroke-width="2.9"/><circle cx="645.9" cy="1686.1" r="6.9" fill="#035ea0" stroke="#000" stroke-width="2.9"/><circle cx="627.5" cy="1691.7" r="6.9" fill="#035ea0" stroke="#000" stroke-width="2.9"/><path d="M483.5 1621.2V1633.2M468.7 1621.2H498.3M468.7 1633.2H498.3" stroke="#000" stroke-width="3.8" fill="none"/><path d="M636.8 1614.7V1643.6M622 1614.7H651.5M622 1643.6H651.5" stroke="#000" stroke-width="2.8" fill="none"/><text x="559.4" y="1398.9" font-size="27" font-weight="bold" text-anchor="middle">Foxp3<tspan font-size="30" dy="-9">+</tspan><tspan dy="9">Treg</tspan></text><text x="393.2" y="1581.7" font-size="27" font-weight="bold" text-anchor="middle" textLength="204.6" lengthAdjust="spacingAndGlyphs" transform="rotate(-90 393.2 1581.7)">% of CD4<tspan font-size="15" dy="-11">+</tspan><tspan dy="11"> cells</tspan></text><circle cx="1865.3" cy="85.5" r="9" fill="#e0e0e0" stroke="#000" stroke-width="2.2"/><text x="1887" y="92.4" font-size="26">FER</text><circle cx="1865.3" cy="122" r="9" fill="#ebe33a" stroke="#000" stroke-width="2.2"/><text x="1887" y="128.9" font-size="26">OAT</text><circle cx="1865.3" cy="154.3" r="9" fill="#213f73" stroke="#000" stroke-width="2.2"/><text x="1887" y="166.7" font-size="26">NOA</text><circle cx="1858.3" cy="516.5" r="9" fill="#e0e0e0" stroke="#000" stroke-width="2.2"/><text x="1880" y="523.9" font-size="26">FER</text><circle cx="1858.3" cy="552.3" r="9" fill="#ebe33a" stroke="#000" stroke-width="2.2"/><text x="1880" y="561" font-size="26">OAT</text><circle cx="1858.3" cy="585.7" r="9" fill="#213f73" stroke="#000" stroke-width="2.2"/><text x="1880" y="598.9" font-size="26">NOA</text><circle cx="1868.2" cy="989.5" r="9" fill="#e0e0e0" stroke="#000" stroke-width="2.2"/><text x="1889.6" y="997.4" font-size="26">FER</text><circle cx="1868.2" cy="1025.5" r="9" fill="#ebe33a" stroke="#000" stroke-width="2.2"/><text x="1889.6" y="1034.4" font-size="26">OAT</text><circle cx="1868.2" cy="1058.2" r="9" fill="#213f73" stroke="#000" stroke-width="2.2"/><text x="1889.6" y="1072.7" font-size="26">NOA</text><circle cx="715.5" cy="1425.4" r="9" fill="#e0e0e0" stroke="#000" stroke-width="2.2"/><text x="737" y="1433.6" font-size="26">FER</text><circle cx="715.5" cy="1462.5" r="9" fill="#ebe33a" stroke="#000" stroke-width="2.2"/><text x="737" y="1472.1" font-size="26">OAT</text><circle cx="715.5" cy="1496.2" r="9" fill="#213f73" stroke="#000" stroke-width="2.2"/><text x="737" y="1509.2" font-size="26">NOA</text><rect x="99" y="1862.3" width="12.6" height="39.7" fill="#4b3184"/><rect x="111.3" y="1862.3" width="12.6" height="39.7" fill="#3064a6"/><rect x="123.6" y="1862.3" width="12.6" height="39.7" fill="#4b3184"/><rect x="135.9" y="1862.3" width="12.6" height="39.7" fill="#4b3184"/><rect x="148.1" y="1862.3" width="12.6" height="39.7" fill="#43489c"/><rect x="160.4" y="1862.3" width="12.6" height="39.7" fill="#4b3184"/><rect x="172.7" y="1862.3" width="12.6" height="39.7" fill="#4b3184"/><rect x="185" y="1862.3" width="12.6" height="39.7" fill="#4b3184"/><rect x="197.3" y="1862.3" width="12.6" height="39.7" fill="#03a2a3"/><rect x="209.6" y="1862.3" width="12.6" height="39.7" fill="#4b3184"/><rect x="221.9" y="1862.3" width="12.6" height="39.7" fill="#3064a6"/><rect x="234.1" y="1862.3" width="12.6" height="39.7" fill="#0e86ae"/><rect x="246.4" y="1862.3" width="12.6" height="39.7" fill="#3064a6"/><rect x="258.7" y="1862.3" width="12.6" height="39.7" fill="#03a2a3"/><rect x="271" y="1862.3" width="12.6" height="39.7" fill="#0e86ae"/><rect x="283.3" y="1862.3" width="12.6" height="39.7" fill="#0e86ae"/><rect x="295.6" y="1862.3" width="12.6" height="39.7" fill="#43489c"/><rect x="307.9" y="1862.3" width="12.6" height="39.7" fill="#3064a6"/><rect x="320.1" y="1862.3" width="12.6" height="39.7" fill="#0e86ae"/><rect x="332.4" y="1862.3" width="12.6" height="39.7" fill="#43489c"/><rect x="344.7" y="1862.3" width="12.6" height="39.7" fill="#43489c"/><rect x="357" y="1862.3" width="12.6" height="39.7" fill="#03a2a3"/><rect x="369.3" y="1862.3" width="12.6" height="39.7" fill="#03a2a3"/><rect x="381.6" y="1862.3" width="12.6" height="39.7" fill="#0e86ae"/><rect x="393.9" y="1862.3" width="12.6" height="39.7" fill="#03a2a3"/><rect x="406.1" y="1862.3" width="12.6" height="39.7" fill="#0e86ae"/><rect x="418.4" y="1862.3" width="12.6" height="39.7" fill="#03a2a3"/><rect x="430.7" y="1862.3" width="12.6" height="39.7" fill="#43489c"/><rect x="443" y="1862.3" width="12.6" height="39.7" fill="#4b3184"/><rect x="455.3" y="1862.3" width="12.6" height="39.7" fill="#4b3184"/><rect x="467.6" y="1862.3" width="12.6" height="39.7" fill="#43489c"/><rect x="479.9" y="1862.3" width="12.6" height="39.7" fill="#43489c"/><rect x="492.1" y="1862.3" width="12.6" height="39.7" fill="#4b3184"/><rect x="504.4" y="1862.3" width="12.6" height="39.7" fill="#4b3184"/><rect x="516.7" y="1862.3" width="12.6" height="39.7" fill="#43489c"/><rect x="529" y="1862.3" width="12.6" height="39.7" fill="#43489c"/><rect x="541.3" y="1862.3" width="12.6" height="39.7" fill="#4b3184"/><rect x="553.6" y="1862.3" width="12.6" height="39.7" fill="#4b3184"/><rect x="565.9" y="1862.3" width="12.6" height="39.7" fill="#4b3184"/><rect x="578.1" y="1862.3" width="12.6" height="39.7" fill="#4b3184"/><rect x="590.4" y="1862.3" width="12.6" height="39.7" fill="#4b3184"/><rect x="602.7" y="1862.3" width="12.6" height="39.7" fill="#4b3184"/><rect x="615" y="1862.3" width="12.6" height="39.7" fill="#4b3184"/><rect x="627.3" y="1862.3" width="12.6" height="39.7" fill="#3064a6"/><rect x="639.6" y="1862.3" width="12.6" height="39.7" fill="#0e86ae"/><rect x="651.9" y="1862.3" width="12.6" height="39.7" fill="#0e86ae"/><rect x="664.1" y="1862.3" width="12.6" height="39.7" fill="#0e86ae"/><rect x="676.4" y="1862.3" width="12.6" height="39.7" fill="#0e86ae"/><rect x="688.7" y="1862.3" width="12.6" height="39.7" fill="#03a2a3"/><rect x="701" y="1862.3" width="12.6" height="39.7" fill="#3064a6"/><rect x="713.3" y="1862.3" width="12.6" height="39.7" fill="#3064a6"/><rect x="725.6" y="1862.3" width="12.6" height="39.7" fill="#0e86ae"/><rect x="737.9" y="1862.3" width="12.6" height="39.7" fill="#0e86ae"/><rect x="750.1" y="1862.3" width="12.6" height="39.7" fill="#43489c"/><rect x="762.4" y="1862.3" width="12.6" height="39.7" fill="#03a2a3"/><rect x="774.7" y="1862.3" width="12.6" height="39.7" fill="#43489c"/><rect x="787" y="1862.3" width="12.6" height="39.7" fill="#3064a6"/><rect x="799.3" y="1862.3" width="12.6" height="39.7" fill="#43489c"/><rect x="811.6" y="1862.3" width="12.6" height="39.7" fill="#3064a6"/><rect x="823.9" y="1862.3" width="12.6" height="39.7" fill="#43489c"/><rect x="836.1" y="1862.3" width="12.6" height="39.7" fill="#3064a6"/><rect x="848.4" y="1862.3" width="12.6" height="39.7" fill="#43489c"/><rect x="860.7" y="1862.3" width="12.6" height="39.7" fill="#4b3184"/><rect x="873" y="1862.3" width="12.6" height="39.7" fill="#4b3184"/><rect x="885.3" y="1862.3" width="12.6" height="39.7" fill="#4b3184"/><rect x="897.6" y="1862.3" width="12.6" height="39.7" fill="#0e86ae"/><rect x="909.9" y="1862.3" width="12.6" height="39.7" fill="#0e86ae"/><rect x="922.1" y="1862.3" width="12.6" height="39.7" fill="#0e86ae"/><rect x="934.4" y="1862.3" width="12.6" height="39.7" fill="#3064a6"/><rect x="946.7" y="1862.3" width="12.6" height="39.7" fill="#0e86ae"/><rect x="99" y="1901.7" width="12.6" height="39.7" fill="#4b3184"/><rect x="111.3" y="1901.7" width="12.6" height="39.7" fill="#43489c"/><rect x="123.6" y="1901.7" width="12.6" height="39.7" fill="#43489c"/><rect x="135.9" y="1901.7" width="12.6" height="39.7" fill="#4b3184"/><rect x="148.1" y="1901.7" width="12.6" height="39.7" fill="#4b3184"/><rect x="160.4" y="1901.7" width="12.6" height="39.7" fill="#4b3184"/><rect x="172.7" y="1901.7" width="12.6" height="39.7" fill="#4b3184"/><rect x="185" y="1901.7" width="12.6" height="39.7" fill="#43489c"/><rect x="197.3" y="1901.7" width="12.6" height="39.7" fill="#1ca68d"/><rect x="209.6" y="1901.7" width="12.6" height="39.7" fill="#4b3184"/><rect x="221.9" y="1901.7" width="12.6" height="39.7" fill="#03a2a3"/><rect x="234.1" y="1901.7" width="12.6" height="39.7" fill="#03a2a3"/><rect x="246.4" y="1901.7" width="12.6" height="39.7" fill="#43489c"/><rect x="258.7" y="1901.7" width="12.6" height="39.7" fill="#03a2a3"/><rect x="271" y="1901.7" width="12.6" height="39.7" fill="#03a2a3"/><rect x="283.3" y="1901.7" width="12.6" height="39.7" fill="#03a2a3"/><rect x="295.6" y="1901.7" width="12.6" height="39.7" fill="#43489c"/><rect x="307.9" y="1901.7" width="12.6" height="39.7" fill="#03a2a3"/><rect x="320.1" y="1901.7" width="12.6" height="39.7" fill="#03a2a3"/><rect x="332.4" y="1901.7" width="12.6" height="39.7" fill="#0e86ae"/><rect x="344.7" y="1901.7" width="12.6" height="39.7" fill="#03a2a3"/><rect x="357" y="1901.7" width="12.6" height="39.7" fill="#1ca68d"/><rect x="369.3" y="1901.7" width="12.6" height="39.7" fill="#1ca68d"/><rect x="381.6" y="1901.7" width="12.6" height="39.7" fill="#03a2a3"/><rect x="393.9" y="1901.7" width="12.6" height="39.7" fill="#1ca68d"/><rect x="406.1" y="1901.7" width="12.6" height="39.7" fill="#03a2a3"/><rect x="418.4" y="1901.7" width="12.6" height="39.7" fill="#1ca68d"/><rect x="430.7" y="1901.7" width="12.6" height="39.7" fill="#4b3184"/><rect x="443" y="1901.7" width="12.6" height="39.7" fill="#4b3184"/><rect x="455.3" y="1901.7" width="12.6" height="39.7" fill="#4b3184"/><rect x="467.6" y="1901.7" width="12.6" height="39.7" fill="#3064a6"/><rect x="479.9" y="1901.7" width="12.6" height="39.7" fill="#3064a6"/><rect x="492.1" y="1901.7" width="12.6" height="39.7" fill="#4b3184"/><rect x="504.4" y="1901.7" width="12.6" height="39.7" fill="#3064a6"/><rect x="516.7" y="1901.7" width="12.6" height="39.7" fill="#3064a6"/><rect x="529" y="1901.7" width="12.6" height="39.7" fill="#4b3184"/><rect x="541.3" y="1901.7" width="12.6" height="39.7" fill="#4b3184"/><rect x="553.6" y="1901.7" width="12.6" height="39.7" fill="#4b3184"/><rect x="565.9" y="1901.7" width="12.6" height="39.7" fill="#4b3184"/><rect x="578.1" y="1901.7" width="12.6" height="39.7" fill="#4b3184"/><rect x="590.4" y="1901.7" width="12.6" height="39.7" fill="#4b3184"/><rect x="602.7" y="1901.7" width="12.6" height="39.7" fill="#4b3184"/><rect x="615" y="1901.7" width="12.6" height="39.7" fill="#4b3184"/><rect x="627.3" y="1901.7" width="12.6" height="39.7" fill="#0e86ae"/><rect x="639.6" y="1901.7" width="12.6" height="39.7" fill="#03a2a3"/><rect x="651.9" y="1901.7" width="12.6" height="39.7" fill="#03a2a3"/><rect x="664.1" y="1901.7" width="12.6" height="39.7" fill="#03a2a3"/><rect x="676.4" y="1901.7" width="12.6" height="39.7" fill="#03a2a3"/><rect x="688.7" y="1901.7" width="12.6" height="39.7" fill="#03a2a3"/><rect x="701" y="1901.7" width="12.6" height="39.7" fill="#03a2a3"/><rect x="713.3" y="1901.7" width="12.6" height="39.7" fill="#03a2a3"/><rect x="725.6" y="1901.7" width="12.6" height="39.7" fill="#03a2a3"/><rect x="737.9" y="1901.7" width="12.6" height="39.7" fill="#03a2a3"/><rect x="750.1" y="1901.7" width="12.6" height="39.7" fill="#43489c"/><rect x="762.4" y="1901.7" width="12.6" height="39.7" fill="#1ca68d"/><rect x="774.7" y="1901.7" width="12.6" height="39.7" fill="#43489c"/><rect x="787" y="1901.7" width="12.6" height="39.7" fill="#03a2a3"/><rect x="799.3" y="1901.7" width="12.6" height="39.7" fill="#0e86ae"/><rect x="811.6" y="1901.7" width="12.6" height="39.7" fill="#03a2a3"/><rect x="823.9" y="1901.7" width="12.6" height="39.7" fill="#4b3184"/><rect x="836.1" y="1901.7" width="12.6" height="39.7" fill="#03a2a3"/><rect x="848.4" y="1901.7" width="12.6" height="39.7" fill="#4b3184"/><rect x="860.7" y="1901.7" width="12.6" height="39.7" fill="#4b3184"/><rect x="873" y="1901.7" width="12.6" height="39.7" fill="#4b3184"/><rect x="885.3" y="1901.7" width="12.6" height="39.7" fill="#4b3184"/><rect x="897.6" y="1901.7" width="12.6" height="39.7" fill="#03a2a3"/><rect x="909.9" y="1901.7" width="12.6" height="39.7" fill="#03a2a3"/><rect x="922.1" y="1901.7" width="12.6" height="39.7" fill="#1ca68d"/><rect x="934.4" y="1901.7" width="12.6" height="39.7" fill="#03a2a3"/><rect x="946.7" y="1901.7" width="12.6" height="39.7" fill="#1ca68d"/><rect x="99" y="1941.2" width="12.6" height="39.7" fill="#03a2a3"/><rect x="111.3" y="1941.2" width="12.6" height="39.7" fill="#3064a6"/><rect x="123.6" y="1941.2" width="12.6" height="39.7" fill="#4b3184"/><rect x="135.9" y="1941.2" width="12.6" height="39.7" fill="#43489c"/><rect x="148.1" y="1941.2" width="12.6" height="39.7" fill="#3064a6"/><rect x="160.4" y="1941.2" width="12.6" height="39.7" fill="#43489c"/><rect x="172.7" y="1941.2" width="12.6" height="39.7" fill="#4b3184"/><rect x="185" y="1941.2" width="12.6" height="39.7" fill="#0e86ae"/><rect x="197.3" y="1941.2" width="12.6" height="39.7" fill="#03a2a3"/><rect x="209.6" y="1941.2" width="12.6" height="39.7" fill="#3064a6"/><rect x="221.9" y="1941.2" width="12.6" height="39.7" fill="#03a2a3"/><rect x="234.1" y="1941.2" width="12.6" height="39.7" fill="#03a2a3"/><rect x="246.4" y="1941.2" width="12.6" height="39.7" fill="#43489c"/><rect x="258.7" y="1941.2" width="12.6" height="39.7" fill="#03a2a3"/><rect x="271" y="1941.2" width="12.6" height="39.7" fill="#03a2a3"/><rect x="283.3" y="1941.2" width="12.6" height="39.7" fill="#03a2a3"/><rect x="295.6" y="1941.2" width="12.6" height="39.7" fill="#03a2a3"/><rect x="307.9" y="1941.2" width="12.6" height="39.7" fill="#03a2a3"/><rect x="320.1" y="1941.2" width="12.6" height="39.7" fill="#03a2a3"/><rect x="332.4" y="1941.2" width="12.6" height="39.7" fill="#43489c"/><rect x="344.7" y="1941.2" width="12.6" height="39.7" fill="#03a2a3"/><rect x="357" y="1941.2" width="12.6" height="39.7" fill="#1ca68d"/><rect x="369.3" y="1941.2" width="12.6" height="39.7" fill="#03a2a3"/><rect x="381.6" y="1941.2" width="12.6" height="39.7" fill="#03a2a3"/><rect x="393.9" y="1941.2" width="12.6" height="39.7" fill="#03a2a3"/><rect x="406.1" y="1941.2" width="12.6" height="39.7" fill="#03a2a3"/><rect x="418.4" y="1941.2" width="12.6" height="39.7" fill="#03a2a3"/><rect x="430.7" y="1941.2" width="12.6" height="39.7" fill="#03a2a3"/><rect x="443" y="1941.2" width="12.6" height="39.7" fill="#03a2a3"/><rect x="455.3" y="1941.2" width="12.6" height="39.7" fill="#0e86ae"/><rect x="467.6" y="1941.2" width="12.6" height="39.7" fill="#4b3184"/><rect x="479.9" y="1941.2" width="12.6" height="39.7" fill="#3064a6"/><rect x="492.1" y="1941.2" width="12.6" height="39.7" fill="#43489c"/><rect x="504.4" y="1941.2" width="12.6" height="39.7" fill="#4b3184"/><rect x="516.7" y="1941.2" width="12.6" height="39.7" fill="#0e86ae"/><rect x="529" y="1941.2" width="12.6" height="39.7" fill="#4b3184"/><rect x="541.3" y="1941.2" width="12.6" height="39.7" fill="#4b3184"/><rect x="553.6" y="1941.2" width="12.6" height="39.7" fill="#4b3184"/><rect x="565.9" y="1941.2" width="12.6" height="39.7" fill="#43489c"/><rect x="578.1" y="1941.2" width="12.6" height="39.7" fill="#43489c"/><rect x="590.4" y="1941.2" width="12.6" height="39.7" fill="#4b3184"/><rect x="602.7" y="1941.2" width="12.6" height="39.7" fill="#4b3184"/><rect x="615" y="1941.2" width="12.6" height="39.7" fill="#43489c"/><rect x="627.3" y="1941.2" width="12.6" height="39.7" fill="#03a2a3"/><rect x="639.6" y="1941.2" width="12.6" height="39.7" fill="#03a2a3"/><rect x="651.9" y="1941.2" width="12.6" height="39.7" fill="#03a2a3"/><rect x="664.1" y="1941.2" width="12.6" height="39.7" fill="#03a2a3"/><rect x="676.4" y="1941.2" width="12.6" height="39.7" fill="#03a2a3"/><rect x="688.7" y="1941.2" width="12.6" height="39.7" fill="#03a2a3"/><rect x="701" y="1941.2" width="12.6" height="39.7" fill="#03a2a3"/><rect x="713.3" y="1941.2" width="12.6" height="39.7" fill="#03a2a3"/><rect x="725.6" y="1941.2" width="12.6" height="39.7" fill="#03a2a3"/><rect x="737.9" y="1941.2" width="12.6" height="39.7" fill="#03a2a3"/><rect x="750.1" y="1941.2" width="12.6" height="39.7" fill="#03a2a3"/><rect x="762.4" y="1941.2" width="12.6" height="39.7" fill="#1ca68d"/><rect x="774.7" y="1941.2" width="12.6" height="39.7" fill="#03a2a3"/><rect x="787" y="1941.2" width="12.6" height="39.7" fill="#03a2a3"/><rect x="799.3" y="1941.2" width="12.6" height="39.7" fill="#03a2a3"/><rect x="811.6" y="1941.2" width="12.6" height="39.7" fill="#03a2a3"/><rect x="823.9" y="1941.2" width="12.6" height="39.7" fill="#0e86ae"/><rect x="836.1" y="1941.2" width="12.6" height="39.7" fill="#4b3184"/><rect x="848.4" y="1941.2" width="12.6" height="39.7" fill="#43489c"/><rect x="860.7" y="1941.2" width="12.6" height="39.7" fill="#4b3184"/><rect x="873" y="1941.2" width="12.6" height="39.7" fill="#4b3184"/><rect x="885.3" y="1941.2" width="12.6" height="39.7" fill="#4b3184"/><rect x="897.6" y="1941.2" width="12.6" height="39.7" fill="#03a2a3"/><rect x="909.9" y="1941.2" width="12.6" height="39.7" fill="#03a2a3"/><rect x="922.1" y="1941.2" width="12.6" height="39.7" fill="#1ca68d"/><rect x="934.4" y="1941.2" width="12.6" height="39.7" fill="#03a2a3"/><rect x="946.7" y="1941.2" width="12.6" height="39.7" fill="#03a2a3"/><rect x="99" y="1980.6" width="12.6" height="39.7" fill="#0e86ae"/><rect x="111.3" y="1980.6" width="12.6" height="39.7" fill="#3064a6"/><rect x="123.6" y="1980.6" width="12.6" height="39.7" fill="#43489c"/><rect x="135.9" y="1980.6" width="12.6" height="39.7" fill="#43489c"/><rect x="148.1" y="1980.6" width="12.6" height="39.7" fill="#43489c"/><rect x="160.4" y="1980.6" width="12.6" height="39.7" fill="#43489c"/><rect x="172.7" y="1980.6" width="12.6" height="39.7" fill="#43489c"/><rect x="185" y="1980.6" width="12.6" height="39.7" fill="#43489c"/><rect x="197.3" y="1980.6" width="12.6" height="39.7" fill="#03a2a3"/><rect x="209.6" y="1980.6" width="12.6" height="39.7" fill="#43489c"/><rect x="221.9" y="1980.6" width="12.6" height="39.7" fill="#3064a6"/><rect x="234.1" y="1980.6" width="12.6" height="39.7" fill="#03a2a3"/><rect x="246.4" y="1980.6" width="12.6" height="39.7" fill="#03a2a3"/><rect x="258.7" y="1980.6" width="12.6" height="39.7" fill="#03a2a3"/><rect x="271" y="1980.6" width="12.6" height="39.7" fill="#03a2a3"/><rect x="283.3" y="1980.6" width="12.6" height="39.7" fill="#03a2a3"/><rect x="295.6" y="1980.6" width="12.6" height="39.7" fill="#0e86ae"/><rect x="307.9" y="1980.6" width="12.6" height="39.7" fill="#03a2a3"/><rect x="320.1" y="1980.6" width="12.6" height="39.7" fill="#03a2a3"/><rect x="332.4" y="1980.6" width="12.6" height="39.7" fill="#03a2a3"/><rect x="344.7" y="1980.6" width="12.6" height="39.7" fill="#3064a6"/><rect x="357" y="1980.6" width="12.6" height="39.7" fill="#03a2a3"/><rect x="369.3" y="1980.6" width="12.6" height="39.7" fill="#03a2a3"/><rect x="381.6" y="1980.6" width="12.6" height="39.7" fill="#03a2a3"/><rect x="393.9" y="1980.6" width="12.6" height="39.7" fill="#03a2a3"/><rect x="406.1" y="1980.6" width="12.6" height="39.7" fill="#0e86ae"/><rect x="418.4" y="1980.6" width="12.6" height="39.7" fill="#03a2a3"/><rect x="430.7" y="1980.6" width="12.6" height="39.7" fill="#0e86ae"/><rect x="443" y="1980.6" width="12.6" height="39.7" fill="#0e86ae"/><rect x="455.3" y="1980.6" width="12.6" height="39.7" fill="#3064a6"/><rect x="467.6" y="1980.6" width="12.6" height="39.7" fill="#03a2a3"/><rect x="479.9" y="1980.6" width="12.6" height="39.7" fill="#0e86ae"/><rect x="492.1" y="1980.6" width="12.6" height="39.7" fill="#43489c"/><rect x="504.4" y="1980.6" width="12.6" height="39.7" fill="#3064a6"/><rect x="516.7" y="1980.6" width="12.6" height="39.7" fill="#03a2a3"/><rect x="529" y="1980.6" width="12.6" height="39.7" fill="#43489c"/><rect x="541.3" y="1980.6" width="12.6" height="39.7" fill="#43489c"/><rect x="553.6" y="1980.6" width="12.6" height="39.7" fill="#43489c"/><rect x="565.9" y="1980.6" width="12.6" height="39.7" fill="#43489c"/><rect x="578.1" y="1980.6" width="12.6" height="39.7" fill="#43489c"/><rect x="590.4" y="1980.6" width="12.6" height="39.7" fill="#43489c"/><rect x="602.7" y="1980.6" width="12.6" height="39.7" fill="#43489c"/><rect x="615" y="1980.6" width="12.6" height="39.7" fill="#43489c"/><rect x="627.3" y="1980.6" width="12.6" height="39.7" fill="#3064a6"/><rect x="639.6" y="1980.6" width="12.6" height="39.7" fill="#0e86ae"/><rect x="651.9" y="1980.6" width="12.6" height="39.7" fill="#0e86ae"/><rect x="664.1" y="1980.6" width="12.6" height="39.7" fill="#0e86ae"/><rect x="676.4" y="1980.6" width="12.6" height="39.7" fill="#0e86ae"/><rect x="688.7" y="1980.6" width="12.6" height="39.7" fill="#03a2a3"/><rect x="701" y="1980.6" width="12.6" height="39.7" fill="#03a2a3"/><rect x="713.3" y="1980.6" width="12.6" height="39.7" fill="#03a2a3"/><rect x="725.6" y="1980.6" width="12.6" height="39.7" fill="#03a2a3"/><rect x="737.9" y="1980.6" width="12.6" height="39.7" fill="#0e86ae"/><rect x="750.1" y="1980.6" width="12.6" height="39.7" fill="#0e86ae"/><rect x="762.4" y="1980.6" width="12.6" height="39.7" fill="#03a2a3"/><rect x="774.7" y="1980.6" width="12.6" height="39.7" fill="#0e86ae"/><rect x="787" y="1980.6" width="12.6" height="39.7" fill="#1ca68d"/><rect x="799.3" y="1980.6" width="12.6" height="39.7" fill="#43489c"/><rect x="811.6" y="1980.6" width="12.6" height="39.7" fill="#03a2a3"/><rect x="823.9" y="1980.6" width="12.6" height="39.7" fill="#0e86ae"/><rect x="836.1" y="1980.6" width="12.6" height="39.7" fill="#1ca68d"/><rect x="848.4" y="1980.6" width="12.6" height="39.7" fill="#3064a6"/><rect x="860.7" y="1980.6" width="12.6" height="39.7" fill="#43489c"/><rect x="873" y="1980.6" width="12.6" height="39.7" fill="#43489c"/><rect x="885.3" y="1980.6" width="12.6" height="39.7" fill="#43489c"/><rect x="897.6" y="1980.6" width="12.6" height="39.7" fill="#03a2a3"/><rect x="909.9" y="1980.6" width="12.6" height="39.7" fill="#03a2a3"/><rect x="922.1" y="1980.6" width="12.6" height="39.7" fill="#03a2a3"/><rect x="934.4" y="1980.6" width="12.6" height="39.7" fill="#0e86ae"/><rect x="946.7" y="1980.6" width="12.6" height="39.7" fill="#03a2a3"/><rect x="99" y="2020" width="12.6" height="39.7" fill="#4b3184"/><rect x="111.3" y="2020" width="12.6" height="39.7" fill="#0e86ae"/><rect x="123.6" y="2020" width="12.6" height="39.7" fill="#03a2a3"/><rect x="135.9" y="2020" width="12.6" height="39.7" fill="#43489c"/><rect x="148.1" y="2020" width="12.6" height="39.7" fill="#43489c"/><rect x="160.4" y="2020" width="12.6" height="39.7" fill="#03a2a3"/><rect x="172.7" y="2020" width="12.6" height="39.7" fill="#3064a6"/><rect x="185" y="2020" width="12.6" height="39.7" fill="#03a2a3"/><rect x="197.3" y="2020" width="12.6" height="39.7" fill="#03a2a3"/><rect x="209.6" y="2020" width="12.6" height="39.7" fill="#4b3184"/><rect x="221.9" y="2020" width="12.6" height="39.7" fill="#3064a6"/><rect x="234.1" y="2020" width="12.6" height="39.7" fill="#03a2a3"/><rect x="246.4" y="2020" width="12.6" height="39.7" fill="#0e86ae"/><rect x="258.7" y="2020" width="12.6" height="39.7" fill="#03a2a3"/><rect x="271" y="2020" width="12.6" height="39.7" fill="#0e86ae"/><rect x="283.3" y="2020" width="12.6" height="39.7" fill="#03a2a3"/><rect x="295.6" y="2020" width="12.6" height="39.7" fill="#3064a6"/><rect x="307.9" y="2020" width="12.6" height="39.7" fill="#0e86ae"/><rect x="320.1" y="2020" width="12.6" height="39.7" fill="#03a2a3"/><rect x="332.4" y="2020" width="12.6" height="39.7" fill="#03a2a3"/><rect x="344.7" y="2020" width="12.6" height="39.7" fill="#03a2a3"/><rect x="357" y="2020" width="12.6" height="39.7" fill="#1ca68d"/><rect x="369.3" y="2020" width="12.6" height="39.7" fill="#1ca68d"/><rect x="381.6" y="2020" width="12.6" height="39.7" fill="#03a2a3"/><rect x="393.9" y="2020" width="12.6" height="39.7" fill="#03a2a3"/><rect x="406.1" y="2020" width="12.6" height="39.7" fill="#03a2a3"/><rect x="418.4" y="2020" width="12.6" height="39.7" fill="#03a2a3"/><rect x="430.7" y="2020" width="12.6" height="39.7" fill="#43489c"/><rect x="443" y="2020" width="12.6" height="39.7" fill="#43489c"/><rect x="455.3" y="2020" width="12.6" height="39.7" fill="#3064a6"/><rect x="467.6" y="2020" width="12.6" height="39.7" fill="#43489c"/><rect x="479.9" y="2020" width="12.6" height="39.7" fill="#03a2a3"/><rect x="492.1" y="2020" width="12.6" height="39.7" fill="#0e86ae"/><rect x="504.4" y="2020" width="12.6" height="39.7" fill="#0e86ae"/><rect x="516.7" y="2020" width="12.6" height="39.7" fill="#0e86ae"/><rect x="529" y="2020" width="12.6" height="39.7" fill="#0e86ae"/><rect x="541.3" y="2020" width="12.6" height="39.7" fill="#43489c"/><rect x="553.6" y="2020" width="12.6" height="39.7" fill="#43489c"/><rect x="565.9" y="2020" width="12.6" height="39.7" fill="#43489c"/><rect x="578.1" y="2020" width="12.6" height="39.7" fill="#0e86ae"/><rect x="590.4" y="2020" width="12.6" height="39.7" fill="#43489c"/><rect x="602.7" y="2020" width="12.6" height="39.7" fill="#43489c"/><rect x="615" y="2020" width="12.6" height="39.7" fill="#43489c"/><rect x="627.3" y="2020" width="12.6" height="39.7" fill="#0e86ae"/><rect x="639.6" y="2020" width="12.6" height="39.7" fill="#03a2a3"/><rect x="651.9" y="2020" width="12.6" height="39.7" fill="#03a2a3"/><rect x="664.1" y="2020" width="12.6" height="39.7" fill="#03a2a3"/><rect x="676.4" y="2020" width="12.6" height="39.7" fill="#03a2a3"/><rect x="688.7" y="2020" width="12.6" height="39.7" fill="#03a2a3"/><rect x="701" y="2020" width="12.6" height="39.7" fill="#3064a6"/><rect x="713.3" y="2020" width="12.6" height="39.7" fill="#3064a6"/><rect x="725.6" y="2020" width="12.6" height="39.7" fill="#0e86ae"/><rect x="737.9" y="2020" width="12.6" height="39.7" fill="#03a2a3"/><rect x="750.1" y="2020" width="12.6" height="39.7" fill="#3064a6"/><rect x="762.4" y="2020" width="12.6" height="39.7" fill="#03a2a3"/><rect x="774.7" y="2020" width="12.6" height="39.7" fill="#43489c"/><rect x="787" y="2020" width="12.6" height="39.7" fill="#03a2a3"/><rect x="799.3" y="2020" width="12.6" height="39.7" fill="#3064a6"/><rect x="811.6" y="2020" width="12.6" height="39.7" fill="#03a2a3"/><rect x="823.9" y="2020" width="12.6" height="39.7" fill="#3064a6"/><rect x="836.1" y="2020" width="12.6" height="39.7" fill="#03a2a3"/><rect x="848.4" y="2020" width="12.6" height="39.7" fill="#43489c"/><rect x="860.7" y="2020" width="12.6" height="39.7" fill="#43489c"/><rect x="873" y="2020" width="12.6" height="39.7" fill="#43489c"/><rect x="885.3" y="2020" width="12.6" height="39.7" fill="#43489c"/><rect x="897.6" y="2020" width="12.6" height="39.7" fill="#03a2a3"/><rect x="909.9" y="2020" width="12.6" height="39.7" fill="#03a2a3"/><rect x="922.1" y="2020" width="12.6" height="39.7" fill="#1ca68d"/><rect x="934.4" y="2020" width="12.6" height="39.7" fill="#0e86ae"/><rect x="946.7" y="2020" width="12.6" height="39.7" fill="#03a2a3"/><rect x="99" y="2059.4" width="12.6" height="39.7" fill="#3064a6"/><rect x="111.3" y="2059.4" width="12.6" height="39.7" fill="#0e86ae"/><rect x="123.6" y="2059.4" width="12.6" height="39.7" fill="#4b3184"/><rect x="135.9" y="2059.4" width="12.6" height="39.7" fill="#4b3184"/><rect x="148.1" y="2059.4" width="12.6" height="39.7" fill="#4b3184"/><rect x="160.4" y="2059.4" width="12.6" height="39.7" fill="#4b3184"/><rect x="172.7" y="2059.4" width="12.6" height="39.7" fill="#4b3184"/><rect x="185" y="2059.4" width="12.6" height="39.7" fill="#43489c"/><rect x="197.3" y="2059.4" width="12.6" height="39.7" fill="#1ca68d"/><rect x="209.6" y="2059.4" width="12.6" height="39.7" fill="#43489c"/><rect x="221.9" y="2059.4" width="12.6" height="39.7" fill="#3064a6"/><rect x="234.1" y="2059.4" width="12.6" height="39.7" fill="#03a2a3"/><rect x="246.4" y="2059.4" width="12.6" height="39.7" fill="#03a2a3"/><rect x="258.7" y="2059.4" width="12.6" height="39.7" fill="#1ca68d"/><rect x="271" y="2059.4" width="12.6" height="39.7" fill="#03a2a3"/><rect x="283.3" y="2059.4" width="12.6" height="39.7" fill="#03a2a3"/><rect x="295.6" y="2059.4" width="12.6" height="39.7" fill="#3064a6"/><rect x="307.9" y="2059.4" width="12.6" height="39.7" fill="#03a2a3"/><rect x="320.1" y="2059.4" width="12.6" height="39.7" fill="#03a2a3"/><rect x="332.4" y="2059.4" width="12.6" height="39.7" fill="#03a2a3"/><rect x="344.7" y="2059.4" width="12.6" height="39.7" fill="#03a2a3"/><rect x="357" y="2059.4" width="12.6" height="39.7" fill="#1ca68d"/><rect x="369.3" y="2059.4" width="12.6" height="39.7" fill="#1ca68d"/><rect x="381.6" y="2059.4" width="12.6" height="39.7" fill="#03a2a3"/><rect x="393.9" y="2059.4" width="12.6" height="39.7" fill="#1ca68d"/><rect x="406.1" y="2059.4" width="12.6" height="39.7" fill="#03a2a3"/><rect x="418.4" y="2059.4" width="12.6" height="39.7" fill="#03a2a3"/><rect x="430.7" y="2059.4" width="12.6" height="39.7" fill="#43489c"/><rect x="443" y="2059.4" width="12.6" height="39.7" fill="#0e86ae"/><rect x="455.3" y="2059.4" width="12.6" height="39.7" fill="#4b3184"/><rect x="467.6" y="2059.4" width="12.6" height="39.7" fill="#03a2a3"/><rect x="479.9" y="2059.4" width="12.6" height="39.7" fill="#03a2a3"/><rect x="492.1" y="2059.4" width="12.6" height="39.7" fill="#3064a6"/><rect x="504.4" y="2059.4" width="12.6" height="39.7" fill="#3064a6"/><rect x="516.7" y="2059.4" width="12.6" height="39.7" fill="#03a2a3"/><rect x="529" y="2059.4" width="12.6" height="39.7" fill="#4b3184"/><rect x="541.3" y="2059.4" width="12.6" height="39.7" fill="#4b3184"/><rect x="553.6" y="2059.4" width="12.6" height="39.7" fill="#4b3184"/><rect x="565.9" y="2059.4" width="12.6" height="39.7" fill="#4b3184"/><rect x="578.1" y="2059.4" width="12.6" height="39.7" fill="#4b3184"/><rect x="590.4" y="2059.4" width="12.6" height="39.7" fill="#4b3184"/><rect x="602.7" y="2059.4" width="12.6" height="39.7" fill="#4b3184"/><rect x="615" y="2059.4" width="12.6" height="39.7" fill="#4b3184"/><rect x="627.3" y="2059.4" width="12.6" height="39.7" fill="#3064a6"/><rect x="639.6" y="2059.4" width="12.6" height="39.7" fill="#03a2a3"/><rect x="651.9" y="2059.4" width="12.6" height="39.7" fill="#03a2a3"/><rect x="664.1" y="2059.4" width="12.6" height="39.7" fill="#03a2a3"/><rect x="676.4" y="2059.4" width="12.6" height="39.7" fill="#03a2a3"/><rect x="688.7" y="2059.4" width="12.6" height="39.7" fill="#03a2a3"/><rect x="701" y="2059.4" width="12.6" height="39.7" fill="#0e86ae"/><rect x="713.3" y="2059.4" width="12.6" height="39.7" fill="#0e86ae"/><rect x="725.6" y="2059.4" width="12.6" height="39.7" fill="#03a2a3"/><rect x="737.9" y="2059.4" width="12.6" height="39.7" fill="#03a2a3"/><rect x="750.1" y="2059.4" width="12.6" height="39.7" fill="#3064a6"/><rect x="762.4" y="2059.4" width="12.6" height="39.7" fill="#03a2a3"/><rect x="774.7" y="2059.4" width="12.6" height="39.7" fill="#3064a6"/><rect x="787" y="2059.4" width="12.6" height="39.7" fill="#03a2a3"/><rect x="799.3" y="2059.4" width="12.6" height="39.7" fill="#43489c"/><rect x="811.6" y="2059.4" width="12.6" height="39.7" fill="#03a2a3"/><rect x="823.9" y="2059.4" width="12.6" height="39.7" fill="#3064a6"/><rect x="836.1" y="2059.4" width="12.6" height="39.7" fill="#03a2a3"/><rect x="848.4" y="2059.4" width="12.6" height="39.7" fill="#4b3184"/><rect x="860.7" y="2059.4" width="12.6" height="39.7" fill="#4b3184"/><rect x="873" y="2059.4" width="12.6" height="39.7" fill="#4b3184"/><rect x="885.3" y="2059.4" width="12.6" height="39.7" fill="#4b3184"/><rect x="897.6" y="2059.4" width="12.6" height="39.7" fill="#03a2a3"/><rect x="909.9" y="2059.4" width="12.6" height="39.7" fill="#03a2a3"/><rect x="922.1" y="2059.4" width="12.6" height="39.7" fill="#03a2a3"/><rect x="934.4" y="2059.4" width="12.6" height="39.7" fill="#03a2a3"/><rect x="946.7" y="2059.4" width="12.6" height="39.7" fill="#1ca68d"/><rect x="99" y="2098.9" width="12.6" height="39.7" fill="#3064a6"/><rect x="111.3" y="2098.9" width="12.6" height="39.7" fill="#03a2a3"/><rect x="123.6" y="2098.9" width="12.6" height="39.7" fill="#43489c"/><rect x="135.9" y="2098.9" width="12.6" height="39.7" fill="#43489c"/><rect x="148.1" y="2098.9" width="12.6" height="39.7" fill="#43489c"/><rect x="160.4" y="2098.9" width="12.6" height="39.7" fill="#43489c"/><rect x="172.7" y="2098.9" width="12.6" height="39.7" fill="#43489c"/><rect x="185" y="2098.9" width="12.6" height="39.7" fill="#43489c"/><rect x="197.3" y="2098.9" width="12.6" height="39.7" fill="#0e86ae"/><rect x="209.6" y="2098.9" width="12.6" height="39.7" fill="#43489c"/><rect x="221.9" y="2098.9" width="12.6" height="39.7" fill="#3064a6"/><rect x="234.1" y="2098.9" width="12.6" height="39.7" fill="#0e86ae"/><rect x="246.4" y="2098.9" width="12.6" height="39.7" fill="#03a2a3"/><rect x="258.7" y="2098.9" width="12.6" height="39.7" fill="#0e86ae"/><rect x="271" y="2098.9" width="12.6" height="39.7" fill="#0e86ae"/><rect x="283.3" y="2098.9" width="12.6" height="39.7" fill="#3064a6"/><rect x="295.6" y="2098.9" width="12.6" height="39.7" fill="#3064a6"/><rect x="307.9" y="2098.9" width="12.6" height="39.7" fill="#3064a6"/><rect x="320.1" y="2098.9" width="12.6" height="39.7" fill="#03a2a3"/><rect x="332.4" y="2098.9" width="12.6" height="39.7" fill="#03a2a3"/><rect x="344.7" y="2098.9" width="12.6" height="39.7" fill="#03a2a3"/><rect x="357" y="2098.9" width="12.6" height="39.7" fill="#0e86ae"/><rect x="369.3" y="2098.9" width="12.6" height="39.7" fill="#0e86ae"/><rect x="381.6" y="2098.9" width="12.6" height="39.7" fill="#3064a6"/><rect x="393.9" y="2098.9" width="12.6" height="39.7" fill="#0e86ae"/><rect x="406.1" y="2098.9" width="12.6" height="39.7" fill="#3064a6"/><rect x="418.4" y="2098.9" width="12.6" height="39.7" fill="#0e86ae"/><rect x="430.7" y="2098.9" width="12.6" height="39.7" fill="#3064a6"/><rect x="443" y="2098.9" width="12.6" height="39.7" fill="#0e86ae"/><rect x="455.3" y="2098.9" width="12.6" height="39.7" fill="#43489c"/><rect x="467.6" y="2098.9" width="12.6" height="39.7" fill="#0e86ae"/><rect x="479.9" y="2098.9" width="12.6" height="39.7" fill="#03a2a3"/><rect x="492.1" y="2098.9" width="12.6" height="39.7" fill="#3064a6"/><rect x="504.4" y="2098.9" width="12.6" height="39.7" fill="#03a2a3"/><rect x="516.7" y="2098.9" width="12.6" height="39.7" fill="#03a2a3"/><rect x="529" y="2098.9" width="12.6" height="39.7" fill="#0e86ae"/><rect x="541.3" y="2098.9" width="12.6" height="39.7" fill="#43489c"/><rect x="553.6" y="2098.9" width="12.6" height="39.7" fill="#43489c"/><rect x="565.9" y="2098.9" width="12.6" height="39.7" fill="#43489c"/><rect x="578.1" y="2098.9" width="12.6" height="39.7" fill="#43489c"/><rect x="590.4" y="2098.9" width="12.6" height="39.7" fill="#43489c"/><rect x="602.7" y="2098.9" width="12.6" height="39.7" fill="#4b3184"/><rect x="615" y="2098.9" width="12.6" height="39.7" fill="#43489c"/><rect x="627.3" y="2098.9" width="12.6" height="39.7" fill="#3064a6"/><rect x="639.6" y="2098.9" width="12.6" height="39.7" fill="#3064a6"/><rect x="651.9" y="2098.9" width="12.6" height="39.7" fill="#3064a6"/><rect x="664.1" y="2098.9" width="12.6" height="39.7" fill="#0e86ae"/><rect x="676.4" y="2098.9" width="12.6" height="39.7" fill="#3064a6"/><rect x="688.7" y="2098.9" width="12.6" height="39.7" fill="#3064a6"/><rect x="701" y="2098.9" width="12.6" height="39.7" fill="#0e86ae"/><rect x="713.3" y="2098.9" width="12.6" height="39.7" fill="#3064a6"/><rect x="725.6" y="2098.9" width="12.6" height="39.7" fill="#0e86ae"/><rect x="737.9" y="2098.9" width="12.6" height="39.7" fill="#3064a6"/><rect x="750.1" y="2098.9" width="12.6" height="39.7" fill="#3064a6"/><rect x="762.4" y="2098.9" width="12.6" height="39.7" fill="#0e86ae"/><rect x="774.7" y="2098.9" width="12.6" height="39.7" fill="#0e86ae"/><rect x="787" y="2098.9" width="12.6" height="39.7" fill="#0e86ae"/><rect x="799.3" y="2098.9" width="12.6" height="39.7" fill="#43489c"/><rect x="811.6" y="2098.9" width="12.6" height="39.7" fill="#3064a6"/><rect x="823.9" y="2098.9" width="12.6" height="39.7" fill="#43489c"/><rect x="836.1" y="2098.9" width="12.6" height="39.7" fill="#03a2a3"/><rect x="848.4" y="2098.9" width="12.6" height="39.7" fill="#43489c"/><rect x="860.7" y="2098.9" width="12.6" height="39.7" fill="#43489c"/><rect x="873" y="2098.9" width="12.6" height="39.7" fill="#43489c"/><rect x="885.3" y="2098.9" width="12.6" height="39.7" fill="#43489c"/><rect x="897.6" y="2098.9" width="12.6" height="39.7" fill="#3064a6"/><rect x="909.9" y="2098.9" width="12.6" height="39.7" fill="#3064a6"/><rect x="922.1" y="2098.9" width="12.6" height="39.7" fill="#0e86ae"/><rect x="934.4" y="2098.9" width="12.6" height="39.7" fill="#3064a6"/><rect x="946.7" y="2098.9" width="12.6" height="39.7" fill="#3064a6"/><rect x="99" y="2138.3" width="12.6" height="39.7" fill="#1ca68d"/><rect x="111.3" y="2138.3" width="12.6" height="39.7" fill="#0e86ae"/><rect x="123.6" y="2138.3" width="12.6" height="39.7" fill="#4b3184"/><rect x="135.9" y="2138.3" width="12.6" height="39.7" fill="#0e86ae"/><rect x="148.1" y="2138.3" width="12.6" height="39.7" fill="#3064a6"/><rect x="160.4" y="2138.3" width="12.6" height="39.7" fill="#0e86ae"/><rect x="172.7" y="2138.3" width="12.6" height="39.7" fill="#4b3184"/><rect x="185" y="2138.3" width="12.6" height="39.7" fill="#03a2a3"/><rect x="197.3" y="2138.3" width="12.6" height="39.7" fill="#1ca68d"/><rect x="209.6" y="2138.3" width="12.6" height="39.7" fill="#1ca68d"/><rect x="221.9" y="2138.3" width="12.6" height="39.7" fill="#4b3184"/><rect x="234.1" y="2138.3" width="12.6" height="39.7" fill="#03a2a3"/><rect x="246.4" y="2138.3" width="12.6" height="39.7" fill="#0e86ae"/><rect x="258.7" y="2138.3" width="12.6" height="39.7" fill="#03a2a3"/><rect x="271" y="2138.3" width="12.6" height="39.7" fill="#03a2a3"/><rect x="283.3" y="2138.3" width="12.6" height="39.7" fill="#03a2a3"/><rect x="295.6" y="2138.3" width="12.6" height="39.7" fill="#03a2a3"/><rect x="307.9" y="2138.3" width="12.6" height="39.7" fill="#03a2a3"/><rect x="320.1" y="2138.3" width="12.6" height="39.7" fill="#03a2a3"/><rect x="332.4" y="2138.3" width="12.6" height="39.7" fill="#03a2a3"/><rect x="344.7" y="2138.3" width="12.6" height="39.7" fill="#1ca68d"/><rect x="357" y="2138.3" width="12.6" height="39.7" fill="#4fb07f"/><rect x="369.3" y="2138.3" width="12.6" height="39.7" fill="#1ca68d"/><rect x="381.6" y="2138.3" width="12.6" height="39.7" fill="#03a2a3"/><rect x="393.9" y="2138.3" width="12.6" height="39.7" fill="#1ca68d"/><rect x="406.1" y="2138.3" width="12.6" height="39.7" fill="#0e86ae"/><rect x="418.4" y="2138.3" width="12.6" height="39.7" fill="#03a2a3"/><rect x="430.7" y="2138.3" width="12.6" height="39.7" fill="#1ca68d"/><rect x="443" y="2138.3" width="12.6" height="39.7" fill="#4fb07f"/><rect x="455.3" y="2138.3" width="12.6" height="39.7" fill="#1ca68d"/><rect x="467.6" y="2138.3" width="12.6" height="39.7" fill="#4b3184"/><rect x="479.9" y="2138.3" width="12.6" height="39.7" fill="#4b3184"/><rect x="492.1" y="2138.3" width="12.6" height="39.7" fill="#4b3184"/><rect x="504.4" y="2138.3" width="12.6" height="39.7" fill="#4b3184"/><rect x="516.7" y="2138.3" width="12.6" height="39.7" fill="#0e86ae"/><rect x="529" y="2138.3" width="12.6" height="39.7" fill="#4b3184"/><rect x="541.3" y="2138.3" width="12.6" height="39.7" fill="#4b3184"/><rect x="553.6" y="2138.3" width="12.6" height="39.7" fill="#03a2a3"/><rect x="565.9" y="2138.3" width="12.6" height="39.7" fill="#3064a6"/><rect x="578.1" y="2138.3" width="12.6" height="39.7" fill="#03a2a3"/><rect x="590.4" y="2138.3" width="12.6" height="39.7" fill="#03a2a3"/><rect x="602.7" y="2138.3" width="12.6" height="39.7" fill="#4b3184"/><rect x="615" y="2138.3" width="12.6" height="39.7" fill="#0e86ae"/><rect x="627.3" y="2138.3" width="12.6" height="39.7" fill="#4b3184"/><rect x="639.6" y="2138.3" width="12.6" height="39.7" fill="#03a2a3"/><rect x="651.9" y="2138.3" width="12.6" height="39.7" fill="#4b3184"/><rect x="664.1" y="2138.3" width="12.6" height="39.7" fill="#03a2a3"/><rect x="676.4" y="2138.3" width="12.6" height="39.7" fill="#03a2a3"/><rect x="688.7" y="2138.3" width="12.6" height="39.7" fill="#1ca68d"/><rect x="701" y="2138.3" width="12.6" height="39.7" fill="#03a2a3"/><rect x="713.3" y="2138.3" width="12.6" height="39.7" fill="#03a2a3"/><rect x="725.6" y="2138.3" width="12.6" height="39.7" fill="#03a2a3"/><rect x="737.9" y="2138.3" width="12.6" height="39.7" fill="#1ca68d"/><rect x="750.1" y="2138.3" width="12.6" height="39.7" fill="#03a2a3"/><rect x="762.4" y="2138.3" width="12.6" height="39.7" fill="#4fb07f"/><rect x="774.7" y="2138.3" width="12.6" height="39.7" fill="#4b3184"/><rect x="787" y="2138.3" width="12.6" height="39.7" fill="#03a2a3"/><rect x="799.3" y="2138.3" width="12.6" height="39.7" fill="#0e86ae"/><rect x="811.6" y="2138.3" width="12.6" height="39.7" fill="#4b3184"/><rect x="823.9" y="2138.3" width="12.6" height="39.7" fill="#1ca68d"/><rect x="836.1" y="2138.3" width="12.6" height="39.7" fill="#43489c"/><rect x="848.4" y="2138.3" width="12.6" height="39.7" fill="#3064a6"/><rect x="860.7" y="2138.3" width="12.6" height="39.7" fill="#4b3184"/><rect x="873" y="2138.3" width="12.6" height="39.7" fill="#4b3184"/><rect x="885.3" y="2138.3" width="12.6" height="39.7" fill="#4b3184"/><rect x="897.6" y="2138.3" width="12.6" height="39.7" fill="#03a2a3"/><rect x="909.9" y="2138.3" width="12.6" height="39.7" fill="#0e86ae"/><rect x="922.1" y="2138.3" width="12.6" height="39.7" fill="#1ca68d"/><rect x="934.4" y="2138.3" width="12.6" height="39.7" fill="#03a2a3"/><rect x="946.7" y="2138.3" width="12.6" height="39.7" fill="#03a2a3"/><rect x="99" y="2177.7" width="12.6" height="39.7" fill="#4fb07f"/><rect x="111.3" y="2177.7" width="12.6" height="39.7" fill="#86bf6f"/><rect x="123.6" y="2177.7" width="12.6" height="39.7" fill="#43489c"/><rect x="135.9" y="2177.7" width="12.6" height="39.7" fill="#03a2a3"/><rect x="148.1" y="2177.7" width="12.6" height="39.7" fill="#03a2a3"/><rect x="160.4" y="2177.7" width="12.6" height="39.7" fill="#03a2a3"/><rect x="172.7" y="2177.7" width="12.6" height="39.7" fill="#03a2a3"/><rect x="185" y="2177.7" width="12.6" height="39.7" fill="#03a2a3"/><rect x="197.3" y="2177.7" width="12.6" height="39.7" fill="#1ca68d"/><rect x="209.6" y="2177.7" width="12.6" height="39.7" fill="#03a2a3"/><rect x="221.9" y="2177.7" width="12.6" height="39.7" fill="#1ca68d"/><rect x="234.1" y="2177.7" width="12.6" height="39.7" fill="#4fb07f"/><rect x="246.4" y="2177.7" width="12.6" height="39.7" fill="#86bf6f"/><rect x="258.7" y="2177.7" width="12.6" height="39.7" fill="#4fb07f"/><rect x="271" y="2177.7" width="12.6" height="39.7" fill="#03a2a3"/><rect x="283.3" y="2177.7" width="12.6" height="39.7" fill="#03a2a3"/><rect x="295.6" y="2177.7" width="12.6" height="39.7" fill="#03a2a3"/><rect x="307.9" y="2177.7" width="12.6" height="39.7" fill="#03a2a3"/><rect x="320.1" y="2177.7" width="12.6" height="39.7" fill="#86bf6f"/><rect x="332.4" y="2177.7" width="12.6" height="39.7" fill="#86bf6f"/><rect x="344.7" y="2177.7" width="12.6" height="39.7" fill="#1ca68d"/><rect x="357" y="2177.7" width="12.6" height="39.7" fill="#4fb07f"/><rect x="369.3" y="2177.7" width="12.6" height="39.7" fill="#4fb07f"/><rect x="381.6" y="2177.7" width="12.6" height="39.7" fill="#1ca68d"/><rect x="393.9" y="2177.7" width="12.6" height="39.7" fill="#1ca68d"/><rect x="406.1" y="2177.7" width="12.6" height="39.7" fill="#03a2a3"/><rect x="418.4" y="2177.7" width="12.6" height="39.7" fill="#03a2a3"/><rect x="430.7" y="2177.7" width="12.6" height="39.7" fill="#4fb07f"/><rect x="443" y="2177.7" width="12.6" height="39.7" fill="#4fb07f"/><rect x="455.3" y="2177.7" width="12.6" height="39.7" fill="#4fb07f"/><rect x="467.6" y="2177.7" width="12.6" height="39.7" fill="#86bf6f"/><rect x="479.9" y="2177.7" width="12.6" height="39.7" fill="#86bf6f"/><rect x="492.1" y="2177.7" width="12.6" height="39.7" fill="#1ca68d"/><rect x="504.4" y="2177.7" width="12.6" height="39.7" fill="#1ca68d"/><rect x="516.7" y="2177.7" width="12.6" height="39.7" fill="#86bf6f"/><rect x="529" y="2177.7" width="12.6" height="39.7" fill="#1ca68d"/><rect x="541.3" y="2177.7" width="12.6" height="39.7" fill="#03a2a3"/><rect x="553.6" y="2177.7" width="12.6" height="39.7" fill="#03a2a3"/><rect x="565.9" y="2177.7" width="12.6" height="39.7" fill="#03a2a3"/><rect x="578.1" y="2177.7" width="12.6" height="39.7" fill="#03a2a3"/><rect x="590.4" y="2177.7" width="12.6" height="39.7" fill="#03a2a3"/><rect x="602.7" y="2177.7" width="12.6" height="39.7" fill="#3064a6"/><rect x="615" y="2177.7" width="12.6" height="39.7" fill="#0e86ae"/><rect x="627.3" y="2177.7" width="12.6" height="39.7" fill="#03a2a3"/><rect x="639.6" y="2177.7" width="12.6" height="39.7" fill="#1ca68d"/><rect x="651.9" y="2177.7" width="12.6" height="39.7" fill="#03a2a3"/><rect x="664.1" y="2177.7" width="12.6" height="39.7" fill="#1ca68d"/><rect x="676.4" y="2177.7" width="12.6" height="39.7" fill="#1ca68d"/><rect x="688.7" y="2177.7" width="12.6" height="39.7" fill="#1ca68d"/><rect x="701" y="2177.7" width="12.6" height="39.7" fill="#1ca68d"/><rect x="713.3" y="2177.7" width="12.6" height="39.7" fill="#03a2a3"/><rect x="725.6" y="2177.7" width="12.6" height="39.7" fill="#1ca68d"/><rect x="737.9" y="2177.7" width="12.6" height="39.7" fill="#03a2a3"/><rect x="750.1" y="2177.7" width="12.6" height="39.7" fill="#4b3184"/><rect x="762.4" y="2177.7" width="12.6" height="39.7" fill="#03a2a3"/><rect x="774.7" y="2177.7" width="12.6" height="39.7" fill="#03a2a3"/><rect x="787" y="2177.7" width="12.6" height="39.7" fill="#4fb07f"/><rect x="799.3" y="2177.7" width="12.6" height="39.7" fill="#03a2a3"/><rect x="811.6" y="2177.7" width="12.6" height="39.7" fill="#03a2a3"/><rect x="823.9" y="2177.7" width="12.6" height="39.7" fill="#4fb07f"/><rect x="836.1" y="2177.7" width="12.6" height="39.7" fill="#4fb07f"/><rect x="848.4" y="2177.7" width="12.6" height="39.7" fill="#03a2a3"/><rect x="860.7" y="2177.7" width="12.6" height="39.7" fill="#0e86ae"/><rect x="873" y="2177.7" width="12.6" height="39.7" fill="#3064a6"/><rect x="885.3" y="2177.7" width="12.6" height="39.7" fill="#43489c"/><rect x="897.6" y="2177.7" width="12.6" height="39.7" fill="#03a2a3"/><rect x="909.9" y="2177.7" width="12.6" height="39.7" fill="#03a2a3"/><rect x="922.1" y="2177.7" width="12.6" height="39.7" fill="#03a2a3"/><rect x="934.4" y="2177.7" width="12.6" height="39.7" fill="#03a2a3"/><rect x="946.7" y="2177.7" width="12.6" height="39.7" fill="#03a2a3"/><rect x="99" y="2217.2" width="12.6" height="39.7" fill="#86bf6f"/><rect x="111.3" y="2217.2" width="12.6" height="39.7" fill="#86bf6f"/><rect x="123.6" y="2217.2" width="12.6" height="39.7" fill="#03a2a3"/><rect x="135.9" y="2217.2" width="12.6" height="39.7" fill="#1ca68d"/><rect x="148.1" y="2217.2" width="12.6" height="39.7" fill="#0e86ae"/><rect x="160.4" y="2217.2" width="12.6" height="39.7" fill="#03a2a3"/><rect x="172.7" y="2217.2" width="12.6" height="39.7" fill="#1ca68d"/><rect x="185" y="2217.2" width="12.6" height="39.7" fill="#1ca68d"/><rect x="197.3" y="2217.2" width="12.6" height="39.7" fill="#b3cf52"/><rect x="209.6" y="2217.2" width="12.6" height="39.7" fill="#86bf6f"/><rect x="221.9" y="2217.2" width="12.6" height="39.7" fill="#4fb07f"/><rect x="234.1" y="2217.2" width="12.6" height="39.7" fill="#86bf6f"/><rect x="246.4" y="2217.2" width="12.6" height="39.7" fill="#86bf6f"/><rect x="258.7" y="2217.2" width="12.6" height="39.7" fill="#b3cf52"/><rect x="271" y="2217.2" width="12.6" height="39.7" fill="#86bf6f"/><rect x="283.3" y="2217.2" width="12.6" height="39.7" fill="#86bf6f"/><rect x="295.6" y="2217.2" width="12.6" height="39.7" fill="#86bf6f"/><rect x="307.9" y="2217.2" width="12.6" height="39.7" fill="#86bf6f"/><rect x="320.1" y="2217.2" width="12.6" height="39.7" fill="#86bf6f"/><rect x="332.4" y="2217.2" width="12.6" height="39.7" fill="#86bf6f"/><rect x="344.7" y="2217.2" width="12.6" height="39.7" fill="#4fb07f"/><rect x="357" y="2217.2" width="12.6" height="39.7" fill="#dcdf3e"/><rect x="369.3" y="2217.2" width="12.6" height="39.7" fill="#dcdf3e"/><rect x="381.6" y="2217.2" width="12.6" height="39.7" fill="#b3cf52"/><rect x="393.9" y="2217.2" width="12.6" height="39.7" fill="#dcdf3e"/><rect x="406.1" y="2217.2" width="12.6" height="39.7" fill="#86bf6f"/><rect x="418.4" y="2217.2" width="12.6" height="39.7" fill="#b3cf52"/><rect x="430.7" y="2217.2" width="12.6" height="39.7" fill="#b3cf52"/><rect x="443" y="2217.2" width="12.6" height="39.7" fill="#b3cf52"/><rect x="455.3" y="2217.2" width="12.6" height="39.7" fill="#86bf6f"/><rect x="467.6" y="2217.2" width="12.6" height="39.7" fill="#1ca68d"/><rect x="479.9" y="2217.2" width="12.6" height="39.7" fill="#4fb07f"/><rect x="492.1" y="2217.2" width="12.6" height="39.7" fill="#4fb07f"/><rect x="504.4" y="2217.2" width="12.6" height="39.7" fill="#4fb07f"/><rect x="516.7" y="2217.2" width="12.6" height="39.7" fill="#86bf6f"/><rect x="529" y="2217.2" width="12.6" height="39.7" fill="#86bf6f"/><rect x="541.3" y="2217.2" width="12.6" height="39.7" fill="#03a2a3"/><rect x="553.6" y="2217.2" width="12.6" height="39.7" fill="#03a2a3"/><rect x="565.9" y="2217.2" width="12.6" height="39.7" fill="#03a2a3"/><rect x="578.1" y="2217.2" width="12.6" height="39.7" fill="#1ca68d"/><rect x="590.4" y="2217.2" width="12.6" height="39.7" fill="#03a2a3"/><rect x="602.7" y="2217.2" width="12.6" height="39.7" fill="#03a2a3"/><rect x="615" y="2217.2" width="12.6" height="39.7" fill="#03a2a3"/><rect x="627.3" y="2217.2" width="12.6" height="39.7" fill="#86bf6f"/><rect x="639.6" y="2217.2" width="12.6" height="39.7" fill="#86bf6f"/><rect x="651.9" y="2217.2" width="12.6" height="39.7" fill="#86bf6f"/><rect x="664.1" y="2217.2" width="12.6" height="39.7" fill="#86bf6f"/><rect x="676.4" y="2217.2" width="12.6" height="39.7" fill="#86bf6f"/><rect x="688.7" y="2217.2" width="12.6" height="39.7" fill="#86bf6f"/><rect x="701" y="2217.2" width="12.6" height="39.7" fill="#86bf6f"/><rect x="713.3" y="2217.2" width="12.6" height="39.7" fill="#86bf6f"/><rect x="725.6" y="2217.2" width="12.6" height="39.7" fill="#86bf6f"/><rect x="737.9" y="2217.2" width="12.6" height="39.7" fill="#b3cf52"/><rect x="750.1" y="2217.2" width="12.6" height="39.7" fill="#86bf6f"/><rect x="762.4" y="2217.2" width="12.6" height="39.7" fill="#86bf6f"/><rect x="774.7" y="2217.2" width="12.6" height="39.7" fill="#4fb07f"/><rect x="787" y="2217.2" width="12.6" height="39.7" fill="#b3cf52"/><rect x="799.3" y="2217.2" width="12.6" height="39.7" fill="#86bf6f"/><rect x="811.6" y="2217.2" width="12.6" height="39.7" fill="#86bf6f"/><rect x="823.9" y="2217.2" width="12.6" height="39.7" fill="#1ca68d"/><rect x="836.1" y="2217.2" width="12.6" height="39.7" fill="#4fb07f"/><rect x="848.4" y="2217.2" width="12.6" height="39.7" fill="#03a2a3"/><rect x="860.7" y="2217.2" width="12.6" height="39.7" fill="#03a2a3"/><rect x="873" y="2217.2" width="12.6" height="39.7" fill="#03a2a3"/><rect x="885.3" y="2217.2" width="12.6" height="39.7" fill="#03a2a3"/><rect x="897.6" y="2217.2" width="12.6" height="39.7" fill="#b3cf52"/><rect x="909.9" y="2217.2" width="12.6" height="39.7" fill="#b3cf52"/><rect x="922.1" y="2217.2" width="12.6" height="39.7" fill="#86bf6f"/><rect x="934.4" y="2217.2" width="12.6" height="39.7" fill="#86bf6f"/><rect x="946.7" y="2217.2" width="12.6" height="39.7" fill="#86bf6f"/><rect x="99" y="2256.6" width="12.6" height="39.7" fill="#86bf6f"/><rect x="111.3" y="2256.6" width="12.6" height="39.7" fill="#86bf6f"/><rect x="123.6" y="2256.6" width="12.6" height="39.7" fill="#03a2a3"/><rect x="135.9" y="2256.6" width="12.6" height="39.7" fill="#1ca68d"/><rect x="148.1" y="2256.6" width="12.6" height="39.7" fill="#1ca68d"/><rect x="160.4" y="2256.6" width="12.6" height="39.7" fill="#1ca68d"/><rect x="172.7" y="2256.6" width="12.6" height="39.7" fill="#03a2a3"/><rect x="185" y="2256.6" width="12.6" height="39.7" fill="#03a2a3"/><rect x="197.3" y="2256.6" width="12.6" height="39.7" fill="#4fb07f"/><rect x="209.6" y="2256.6" width="12.6" height="39.7" fill="#86bf6f"/><rect x="221.9" y="2256.6" width="12.6" height="39.7" fill="#b3cf52"/><rect x="234.1" y="2256.6" width="12.6" height="39.7" fill="#b3cf52"/><rect x="246.4" y="2256.6" width="12.6" height="39.7" fill="#86bf6f"/><rect x="258.7" y="2256.6" width="12.6" height="39.7" fill="#4fb07f"/><rect x="271" y="2256.6" width="12.6" height="39.7" fill="#86bf6f"/><rect x="283.3" y="2256.6" width="12.6" height="39.7" fill="#4fb07f"/><rect x="295.6" y="2256.6" width="12.6" height="39.7" fill="#4fb07f"/><rect x="307.9" y="2256.6" width="12.6" height="39.7" fill="#4fb07f"/><rect x="320.1" y="2256.6" width="12.6" height="39.7" fill="#4fb07f"/><rect x="332.4" y="2256.6" width="12.6" height="39.7" fill="#4fb07f"/><rect x="344.7" y="2256.6" width="12.6" height="39.7" fill="#1ca68d"/><rect x="357" y="2256.6" width="12.6" height="39.7" fill="#4fb07f"/><rect x="369.3" y="2256.6" width="12.6" height="39.7" fill="#4fb07f"/><rect x="381.6" y="2256.6" width="12.6" height="39.7" fill="#b3cf52"/><rect x="393.9" y="2256.6" width="12.6" height="39.7" fill="#1ca68d"/><rect x="406.1" y="2256.6" width="12.6" height="39.7" fill="#b3cf52"/><rect x="418.4" y="2256.6" width="12.6" height="39.7" fill="#1ca68d"/><rect x="430.7" y="2256.6" width="12.6" height="39.7" fill="#b3cf52"/><rect x="443" y="2256.6" width="12.6" height="39.7" fill="#4fb07f"/><rect x="455.3" y="2256.6" width="12.6" height="39.7" fill="#4fb07f"/><rect x="467.6" y="2256.6" width="12.6" height="39.7" fill="#86bf6f"/><rect x="479.9" y="2256.6" width="12.6" height="39.7" fill="#86bf6f"/><rect x="492.1" y="2256.6" width="12.6" height="39.7" fill="#1ca68d"/><rect x="504.4" y="2256.6" width="12.6" height="39.7" fill="#1ca68d"/><rect x="516.7" y="2256.6" width="12.6" height="39.7" fill="#1ca68d"/><rect x="529" y="2256.6" width="12.6" height="39.7" fill="#86bf6f"/><rect x="541.3" y="2256.6" width="12.6" height="39.7" fill="#4fb07f"/><rect x="553.6" y="2256.6" width="12.6" height="39.7" fill="#03a2a3"/><rect x="565.9" y="2256.6" width="12.6" height="39.7" fill="#03a2a3"/><rect x="578.1" y="2256.6" width="12.6" height="39.7" fill="#03a2a3"/><rect x="590.4" y="2256.6" width="12.6" height="39.7" fill="#03a2a3"/><rect x="602.7" y="2256.6" width="12.6" height="39.7" fill="#03a2a3"/><rect x="615" y="2256.6" width="12.6" height="39.7" fill="#03a2a3"/><rect x="627.3" y="2256.6" width="12.6" height="39.7" fill="#4fb07f"/><rect x="639.6" y="2256.6" width="12.6" height="39.7" fill="#4fb07f"/><rect x="651.9" y="2256.6" width="12.6" height="39.7" fill="#86bf6f"/><rect x="664.1" y="2256.6" width="12.6" height="39.7" fill="#1ca68d"/><rect x="676.4" y="2256.6" width="12.6" height="39.7" fill="#4fb07f"/><rect x="688.7" y="2256.6" width="12.6" height="39.7" fill="#1ca68d"/><rect x="701" y="2256.6" width="12.6" height="39.7" fill="#b3cf52"/><rect x="713.3" y="2256.6" width="12.6" height="39.7" fill="#dcdf3e"/><rect x="725.6" y="2256.6" width="12.6" height="39.7" fill="#86bf6f"/><rect x="737.9" y="2256.6" width="12.6" height="39.7" fill="#1ca68d"/><rect x="750.1" y="2256.6" width="12.6" height="39.7" fill="#4fb07f"/><rect x="762.4" y="2256.6" width="12.6" height="39.7" fill="#4fb07f"/><rect x="774.7" y="2256.6" width="12.6" height="39.7" fill="#4fb07f"/><rect x="787" y="2256.6" width="12.6" height="39.7" fill="#86bf6f"/><rect x="799.3" y="2256.6" width="12.6" height="39.7" fill="#4fb07f"/><rect x="811.6" y="2256.6" width="12.6" height="39.7" fill="#4fb07f"/><rect x="823.9" y="2256.6" width="12.6" height="39.7" fill="#b3cf52"/><rect x="836.1" y="2256.6" width="12.6" height="39.7" fill="#4fb07f"/><rect x="848.4" y="2256.6" width="12.6" height="39.7" fill="#03a2a3"/><rect x="860.7" y="2256.6" width="12.6" height="39.7" fill="#03a2a3"/><rect x="873" y="2256.6" width="12.6" height="39.7" fill="#03a2a3"/><rect x="885.3" y="2256.6" width="12.6" height="39.7" fill="#03a2a3"/><rect x="897.6" y="2256.6" width="12.6" height="39.7" fill="#4fb07f"/><rect x="909.9" y="2256.6" width="12.6" height="39.7" fill="#86bf6f"/><rect x="922.1" y="2256.6" width="12.6" height="39.7" fill="#86bf6f"/><rect x="934.4" y="2256.6" width="12.6" height="39.7" fill="#4fb07f"/><rect x="946.7" y="2256.6" width="12.6" height="39.7" fill="#4fb07f"/><rect x="99" y="2296" width="12.6" height="39.7" fill="#86bf6f"/><rect x="111.3" y="2296" width="12.6" height="39.7" fill="#4fb07f"/><rect x="123.6" y="2296" width="12.6" height="39.7" fill="#03a2a3"/><rect x="135.9" y="2296" width="12.6" height="39.7" fill="#03a2a3"/><rect x="148.1" y="2296" width="12.6" height="39.7" fill="#03a2a3"/><rect x="160.4" y="2296" width="12.6" height="39.7" fill="#43489c"/><rect x="172.7" y="2296" width="12.6" height="39.7" fill="#03a2a3"/><rect x="185" y="2296" width="12.6" height="39.7" fill="#03a2a3"/><rect x="197.3" y="2296" width="12.6" height="39.7" fill="#86bf6f"/><rect x="209.6" y="2296" width="12.6" height="39.7" fill="#4fb07f"/><rect x="221.9" y="2296" width="12.6" height="39.7" fill="#1ca68d"/><rect x="234.1" y="2296" width="12.6" height="39.7" fill="#4fb07f"/><rect x="246.4" y="2296" width="12.6" height="39.7" fill="#1ca68d"/><rect x="258.7" y="2296" width="12.6" height="39.7" fill="#b3cf52"/><rect x="271" y="2296" width="12.6" height="39.7" fill="#1ca68d"/><rect x="283.3" y="2296" width="12.6" height="39.7" fill="#1ca68d"/><rect x="295.6" y="2296" width="12.6" height="39.7" fill="#1ca68d"/><rect x="307.9" y="2296" width="12.6" height="39.7" fill="#1ca68d"/><rect x="320.1" y="2296" width="12.6" height="39.7" fill="#86bf6f"/><rect x="332.4" y="2296" width="12.6" height="39.7" fill="#86bf6f"/><rect x="344.7" y="2296" width="12.6" height="39.7" fill="#1ca68d"/><rect x="357" y="2296" width="12.6" height="39.7" fill="#b3cf52"/><rect x="369.3" y="2296" width="12.6" height="39.7" fill="#dcdf3e"/><rect x="381.6" y="2296" width="12.6" height="39.7" fill="#4fb07f"/><rect x="393.9" y="2296" width="12.6" height="39.7" fill="#b3cf52"/><rect x="406.1" y="2296" width="12.6" height="39.7" fill="#1ca68d"/><rect x="418.4" y="2296" width="12.6" height="39.7" fill="#4fb07f"/><rect x="430.7" y="2296" width="12.6" height="39.7" fill="#86bf6f"/><rect x="443" y="2296" width="12.6" height="39.7" fill="#86bf6f"/><rect x="455.3" y="2296" width="12.6" height="39.7" fill="#4fb07f"/><rect x="467.6" y="2296" width="12.6" height="39.7" fill="#1ca68d"/><rect x="479.9" y="2296" width="12.6" height="39.7" fill="#1ca68d"/><rect x="492.1" y="2296" width="12.6" height="39.7" fill="#3064a6"/><rect x="504.4" y="2296" width="12.6" height="39.7" fill="#03a2a3"/><rect x="516.7" y="2296" width="12.6" height="39.7" fill="#1ca68d"/><rect x="529" y="2296" width="12.6" height="39.7" fill="#1ca68d"/><rect x="541.3" y="2296" width="12.6" height="39.7" fill="#4b3184"/><rect x="553.6" y="2296" width="12.6" height="39.7" fill="#43489c"/><rect x="565.9" y="2296" width="12.6" height="39.7" fill="#03a2a3"/><rect x="578.1" y="2296" width="12.6" height="39.7" fill="#03a2a3"/><rect x="590.4" y="2296" width="12.6" height="39.7" fill="#4b3184"/><rect x="602.7" y="2296" width="12.6" height="39.7" fill="#4b3184"/><rect x="615" y="2296" width="12.6" height="39.7" fill="#4b3184"/><rect x="627.3" y="2296" width="12.6" height="39.7" fill="#1ca68d"/><rect x="639.6" y="2296" width="12.6" height="39.7" fill="#4fb07f"/><rect x="651.9" y="2296" width="12.6" height="39.7" fill="#4fb07f"/><rect x="664.1" y="2296" width="12.6" height="39.7" fill="#4fb07f"/><rect x="676.4" y="2296" width="12.6" height="39.7" fill="#4fb07f"/><rect x="688.7" y="2296" width="12.6" height="39.7" fill="#86bf6f"/><rect x="701" y="2296" width="12.6" height="39.7" fill="#1ca68d"/><rect x="713.3" y="2296" width="12.6" height="39.7" fill="#1ca68d"/><rect x="725.6" y="2296" width="12.6" height="39.7" fill="#1ca68d"/><rect x="737.9" y="2296" width="12.6" height="39.7" fill="#1ca68d"/><rect x="750.1" y="2296" width="12.6" height="39.7" fill="#1ca68d"/><rect x="762.4" y="2296" width="12.6" height="39.7" fill="#4fb07f"/><rect x="774.7" y="2296" width="12.6" height="39.7" fill="#1ca68d"/><rect x="787" y="2296" width="12.6" height="39.7" fill="#4fb07f"/><rect x="799.3" y="2296" width="12.6" height="39.7" fill="#03a2a3"/><rect x="811.6" y="2296" width="12.6" height="39.7" fill="#4fb07f"/><rect x="823.9" y="2296" width="12.6" height="39.7" fill="#86bf6f"/><rect x="836.1" y="2296" width="12.6" height="39.7" fill="#4fb07f"/><rect x="848.4" y="2296" width="12.6" height="39.7" fill="#03a2a3"/><rect x="860.7" y="2296" width="12.6" height="39.7" fill="#4b3184"/><rect x="873" y="2296" width="12.6" height="39.7" fill="#0e86ae"/><rect x="885.3" y="2296" width="12.6" height="39.7" fill="#03a2a3"/><rect x="897.6" y="2296" width="12.6" height="39.7" fill="#4fb07f"/><rect x="909.9" y="2296" width="12.6" height="39.7" fill="#4fb07f"/><rect x="922.1" y="2296" width="12.6" height="39.7" fill="#4fb07f"/><rect x="934.4" y="2296" width="12.6" height="39.7" fill="#1ca68d"/><rect x="946.7" y="2296" width="12.6" height="39.7" fill="#4fb07f"/><rect x="99" y="2335.5" width="12.6" height="39.7" fill="#b3cf52"/><rect x="111.3" y="2335.5" width="12.6" height="39.7" fill="#b3cf52"/><rect x="123.6" y="2335.5" width="12.6" height="39.7" fill="#1ca68d"/><rect x="135.9" y="2335.5" width="12.6" height="39.7" fill="#1ca68d"/><rect x="148.1" y="2335.5" width="12.6" height="39.7" fill="#1ca68d"/><rect x="160.4" y="2335.5" width="12.6" height="39.7" fill="#1ca68d"/><rect x="172.7" y="2335.5" width="12.6" height="39.7" fill="#1ca68d"/><rect x="185" y="2335.5" width="12.6" height="39.7" fill="#1ca68d"/><rect x="197.3" y="2335.5" width="12.6" height="39.7" fill="#dcdf3e"/><rect x="209.6" y="2335.5" width="12.6" height="39.7" fill="#86bf6f"/><rect x="221.9" y="2335.5" width="12.6" height="39.7" fill="#86bf6f"/><rect x="234.1" y="2335.5" width="12.6" height="39.7" fill="#b3cf52"/><rect x="246.4" y="2335.5" width="12.6" height="39.7" fill="#b3cf52"/><rect x="258.7" y="2335.5" width="12.6" height="39.7" fill="#dcdf3e"/><rect x="271" y="2335.5" width="12.6" height="39.7" fill="#b3cf52"/><rect x="283.3" y="2335.5" width="12.6" height="39.7" fill="#f2902f"/><rect x="295.6" y="2335.5" width="12.6" height="39.7" fill="#dcdf3e"/><rect x="307.9" y="2335.5" width="12.6" height="39.7" fill="#f2902f"/><rect x="320.1" y="2335.5" width="12.6" height="39.7" fill="#dcdf3e"/><rect x="332.4" y="2335.5" width="12.6" height="39.7" fill="#dcdf3e"/><rect x="344.7" y="2335.5" width="12.6" height="39.7" fill="#86bf6f"/><rect x="357" y="2335.5" width="12.6" height="39.7" fill="#dcdf3e"/><rect x="369.3" y="2335.5" width="12.6" height="39.7" fill="#dcdf3e"/><rect x="381.6" y="2335.5" width="12.6" height="39.7" fill="#dcdf3e"/><rect x="393.9" y="2335.5" width="12.6" height="39.7" fill="#dcdf3e"/><rect x="406.1" y="2335.5" width="12.6" height="39.7" fill="#b3cf52"/><rect x="418.4" y="2335.5" width="12.6" height="39.7" fill="#dcdf3e"/><rect x="430.7" y="2335.5" width="12.6" height="39.7" fill="#dcdf3e"/><rect x="443" y="2335.5" width="12.6" height="39.7" fill="#dcdf3e"/><rect x="455.3" y="2335.5" width="12.6" height="39.7" fill="#b3cf52"/><rect x="467.6" y="2335.5" width="12.6" height="39.7" fill="#b3cf52"/><rect x="479.9" y="2335.5" width="12.6" height="39.7" fill="#b3cf52"/><rect x="492.1" y="2335.5" width="12.6" height="39.7" fill="#b3cf52"/><rect x="504.4" y="2335.5" width="12.6" height="39.7" fill="#86bf6f"/><rect x="516.7" y="2335.5" width="12.6" height="39.7" fill="#b3cf52"/><rect x="529" y="2335.5" width="12.6" height="39.7" fill="#86bf6f"/><rect x="541.3" y="2335.5" width="12.6" height="39.7" fill="#03a2a3"/><rect x="553.6" y="2335.5" width="12.6" height="39.7" fill="#1ca68d"/><rect x="565.9" y="2335.5" width="12.6" height="39.7" fill="#1ca68d"/><rect x="578.1" y="2335.5" width="12.6" height="39.7" fill="#4fb07f"/><rect x="590.4" y="2335.5" width="12.6" height="39.7" fill="#1ca68d"/><rect x="602.7" y="2335.5" width="12.6" height="39.7" fill="#03a2a3"/><rect x="615" y="2335.5" width="12.6" height="39.7" fill="#1ca68d"/><rect x="627.3" y="2335.5" width="12.6" height="39.7" fill="#b3cf52"/><rect x="639.6" y="2335.5" width="12.6" height="39.7" fill="#dcdf3e"/><rect x="651.9" y="2335.5" width="12.6" height="39.7" fill="#b3cf52"/><rect x="664.1" y="2335.5" width="12.6" height="39.7" fill="#dcdf3e"/><rect x="676.4" y="2335.5" width="12.6" height="39.7" fill="#dcdf3e"/><rect x="688.7" y="2335.5" width="12.6" height="39.7" fill="#dcdf3e"/><rect x="701" y="2335.5" width="12.6" height="39.7" fill="#b3cf52"/><rect x="713.3" y="2335.5" width="12.6" height="39.7" fill="#dcdf3e"/><rect x="725.6" y="2335.5" width="12.6" height="39.7" fill="#b3cf52"/><rect x="737.9" y="2335.5" width="12.6" height="39.7" fill="#dcdf3e"/><rect x="750.1" y="2335.5" width="12.6" height="39.7" fill="#dcdf3e"/><rect x="762.4" y="2335.5" width="12.6" height="39.7" fill="#f2902f"/><rect x="774.7" y="2335.5" width="12.6" height="39.7" fill="#86bf6f"/><rect x="787" y="2335.5" width="12.6" height="39.7" fill="#b3cf52"/><rect x="799.3" y="2335.5" width="12.6" height="39.7" fill="#b3cf52"/><rect x="811.6" y="2335.5" width="12.6" height="39.7" fill="#b3cf52"/><rect x="823.9" y="2335.5" width="12.6" height="39.7" fill="#86bf6f"/><rect x="836.1" y="2335.5" width="12.6" height="39.7" fill="#86bf6f"/><rect x="848.4" y="2335.5" width="12.6" height="39.7" fill="#1ca68d"/><rect x="860.7" y="2335.5" width="12.6" height="39.7" fill="#1ca68d"/><rect x="873" y="2335.5" width="12.6" height="39.7" fill="#1ca68d"/><rect x="885.3" y="2335.5" width="12.6" height="39.7" fill="#1ca68d"/><rect x="897.6" y="2335.5" width="12.6" height="39.7" fill="#dcdf3e"/><rect x="909.9" y="2335.5" width="12.6" height="39.7" fill="#dcdf3e"/><rect x="922.1" y="2335.5" width="12.6" height="39.7" fill="#b3cf52"/><rect x="934.4" y="2335.5" width="12.6" height="39.7" fill="#dcdf3e"/><rect x="946.7" y="2335.5" width="12.6" height="39.7" fill="#86bf6f"/><path d="M111.3 1862.3V2374.9M123.6 1862.3V2374.9M135.9 1862.3V2374.9M148.1 1862.3V2374.9M160.4 1862.3V2374.9M172.7 1862.3V2374.9M185 1862.3V2374.9M197.3 1862.3V2374.9M209.6 1862.3V2374.9M221.9 1862.3V2374.9M234.1 1862.3V2374.9M246.4 1862.3V2374.9M258.7 1862.3V2374.9M271 1862.3V2374.9M283.3 1862.3V2374.9M295.6 1862.3V2374.9M307.9 1862.3V2374.9M320.1 1862.3V2374.9M332.4 1862.3V2374.9M344.7 1862.3V2374.9M357 1862.3V2374.9M369.3 1862.3V2374.9M381.6 1862.3V2374.9M393.9 1862.3V2374.9M406.1 1862.3V2374.9M418.4 1862.3V2374.9M430.7 1862.3V2374.9M443 1862.3V2374.9M455.3 1862.3V2374.9M467.6 1862.3V2374.9M479.9 1862.3V2374.9M492.1 1862.3V2374.9M504.4 1862.3V2374.9M516.7 1862.3V2374.9M529 1862.3V2374.9M541.3 1862.3V2374.9M553.6 1862.3V2374.9M565.9 1862.3V2374.9M578.1 1862.3V2374.9M590.4 1862.3V2374.9M602.7 1862.3V2374.9M615 1862.3V2374.9M627.3 1862.3V2374.9M639.6 1862.3V2374.9M651.9 1862.3V2374.9M664.1 1862.3V2374.9M676.4 1862.3V2374.9M688.7 1862.3V2374.9M701 1862.3V2374.9M713.3 1862.3V2374.9M725.6 1862.3V2374.9M737.9 1862.3V2374.9M750.1 1862.3V2374.9M762.4 1862.3V2374.9M774.7 1862.3V2374.9M787 1862.3V2374.9M799.3 1862.3V2374.9M811.6 1862.3V2374.9M823.9 1862.3V2374.9M836.1 1862.3V2374.9M848.4 1862.3V2374.9M860.7 1862.3V2374.9M873 1862.3V2374.9M885.3 1862.3V2374.9M897.6 1862.3V2374.9M909.9 1862.3V2374.9M922.1 1862.3V2374.9M934.4 1862.3V2374.9M946.7 1862.3V2374.9M99 1901.7H959M99 1941.2H959M99 1980.6H959M99 2020H959M99 2059.4H959M99 2098.9H959M99 2138.3H959M99 2177.7H959M99 2217.2H959M99 2256.6H959M99 2296H959M99 2335.5H959" stroke="#000" stroke-width="1.7" fill="none"/><rect x="99" y="1862.3" width="860" height="512.6" fill="none" stroke="#000" stroke-width="2.6"/><line x1="95" y1="1882" x2="99" y2="1882" stroke="#000" stroke-width="1.8"/><text x="91" y="1888.5" font-size="18.5" font-weight="bold" text-anchor="end">IL-4</text><line x1="95" y1="1921.4" x2="99" y2="1921.4" stroke="#000" stroke-width="1.8"/><text x="91" y="1927.9" font-size="18.5" font-weight="bold" text-anchor="end">IL-13</text><line x1="95" y1="1960.9" x2="99" y2="1960.9" stroke="#000" stroke-width="1.8"/><text x="91" y="1967.4" font-size="18.5" font-weight="bold" text-anchor="end">IFN-g</text><line x1="95" y1="2000.3" x2="99" y2="2000.3" stroke="#000" stroke-width="1.8"/><text x="91" y="2006.8" font-size="18.5" font-weight="bold" text-anchor="end">IL-8</text><line x1="95" y1="2039.7" x2="99" y2="2039.7" stroke="#000" stroke-width="1.8"/><text x="91" y="2046.2" font-size="18.5" font-weight="bold" text-anchor="end">IL-12 (p70)</text><line x1="95" y1="2079.2" x2="99" y2="2079.2" stroke="#000" stroke-width="1.8"/><text x="91" y="2085.7" font-size="18.5" font-weight="bold" text-anchor="end">IL-10</text><line x1="95" y1="2118.6" x2="99" y2="2118.6" stroke="#000" stroke-width="1.8"/><text x="91" y="2125.1" font-size="18.5" font-weight="bold" text-anchor="end">MIP-1a</text><line x1="95" y1="2158" x2="99" y2="2158" stroke="#000" stroke-width="1.8"/><text x="91" y="2164.5" font-size="18.5" font-weight="bold" text-anchor="end">FGF-basic</text><line x1="95" y1="2197.5" x2="99" y2="2197.5" stroke="#000" stroke-width="1.8"/><text x="91" y="2204" font-size="18.5" font-weight="bold" text-anchor="end">MCP-1</text><line x1="95" y1="2236.9" x2="99" y2="2236.9" stroke="#000" stroke-width="1.8"/><text x="91" y="2243.4" font-size="18.5" font-weight="bold" text-anchor="end">TNF-a</text><line x1="95" y1="2276.3" x2="99" y2="2276.3" stroke="#000" stroke-width="1.8"/><text x="91" y="2282.8" font-size="18.5" font-weight="bold" text-anchor="end">Eotaxin</text><line x1="95" y1="2315.7" x2="99" y2="2315.7" stroke="#000" stroke-width="1.8"/><text x="91" y="2322.2" font-size="18.5" font-weight="bold" text-anchor="end">G-CSF</text><line x1="95" y1="2355.2" x2="99" y2="2355.2" stroke="#000" stroke-width="1.8"/><text x="91" y="2361.7" font-size="18.5" font-weight="bold" text-anchor="end">MIP-1b</text><rect x="99" y="2374.9" width="112.6" height="41.4" fill="#c8cacc"/><rect x="211.6" y="2374.9" width="220.7" height="41.4" fill="#8b8e91"/><rect x="432.3" y="2374.9" width="391.1" height="41.4" fill="#efeb9b"/><rect x="823.4" y="2374.9" width="135.6" height="41.4" fill="#8cbde5"/><path d="M99 2374.9V2416.3H959V2374.9" stroke="#231f20" stroke-width="2.2" fill="none"/><line x1="99" y1="2374.9" x2="959" y2="2374.9" stroke="#000" stroke-width="3"/><text x="154.6" y="2404.7" font-size="23" font-weight="bold" text-anchor="middle">nFER</text><text x="324.4" y="2407.7" font-size="23" font-weight="bold" text-anchor="middle">aFER</text><text x="640.3" y="2407.6" font-size="23" font-weight="bold" text-anchor="middle">OAT</text><text x="896.8" y="2403.6" font-size="23" font-weight="bold" text-anchor="middle">NOA</text><line x1="211.6" y1="1863.3" x2="211.6" y2="2416.3" stroke="#e5262f" stroke-width="2.6"/><line x1="432.3" y1="1863.3" x2="432.3" y2="2416.3" stroke="#e5262f" stroke-width="2.6"/><line x1="823.4" y1="1863.3" x2="823.4" y2="2416.3" stroke="#e5262f" stroke-width="2.6"/><rect x="1082.7" y="1871.4" width="12.6" height="39.9" fill="#43489c"/><rect x="1095" y="1871.4" width="12.6" height="39.9" fill="#03a2a3"/><rect x="1107.2" y="1871.4" width="12.6" height="39.9" fill="#4b3184"/><rect x="1119.5" y="1871.4" width="12.6" height="39.9" fill="#4b3184"/><rect x="1131.7" y="1871.4" width="12.6" height="39.9" fill="#4b3184"/><rect x="1144" y="1871.4" width="12.6" height="39.9" fill="#4b3184"/><rect x="1156.2" y="1871.4" width="12.6" height="39.9" fill="#4b3184"/><rect x="1168.5" y="1871.4" width="12.6" height="39.9" fill="#4b3184"/><rect x="1180.7" y="1871.4" width="12.6" height="39.9" fill="#03a2a3"/><rect x="1193" y="1871.4" width="12.6" height="39.9" fill="#03a2a3"/><rect x="1205.2" y="1871.4" width="12.6" height="39.9" fill="#3064a6"/><rect x="1217.5" y="1871.4" width="12.6" height="39.9" fill="#03a2a3"/><rect x="1229.7" y="1871.4" width="12.6" height="39.9" fill="#03a2a3"/><rect x="1242" y="1871.4" width="12.6" height="39.9" fill="#03a2a3"/><rect x="1254.2" y="1871.4" width="12.6" height="39.9" fill="#0e86ae"/><rect x="1266.5" y="1871.4" width="12.6" height="39.9" fill="#03a2a3"/><rect x="1278.7" y="1871.4" width="12.6" height="39.9" fill="#3064a6"/><rect x="1291" y="1871.4" width="12.6" height="39.9" fill="#0e86ae"/><rect x="1303.2" y="1871.4" width="12.6" height="39.9" fill="#03a2a3"/><rect x="1315.5" y="1871.4" width="12.6" height="39.9" fill="#03a2a3"/><rect x="1327.7" y="1871.4" width="12.6" height="39.9" fill="#03a2a3"/><rect x="1340" y="1871.4" width="12.6" height="39.9" fill="#03a2a3"/><rect x="1352.2" y="1871.4" width="12.6" height="39.9" fill="#03a2a3"/><rect x="1364.5" y="1871.4" width="12.6" height="39.9" fill="#03a2a3"/><rect x="1376.7" y="1871.4" width="12.6" height="39.9" fill="#03a2a3"/><rect x="1389" y="1871.4" width="12.6" height="39.9" fill="#03a2a3"/><rect x="1401.2" y="1871.4" width="12.6" height="39.9" fill="#03a2a3"/><rect x="1413.5" y="1871.4" width="12.6" height="39.9" fill="#43489c"/><rect x="1425.7" y="1871.4" width="12.6" height="39.9" fill="#0e86ae"/><rect x="1438" y="1871.4" width="12.6" height="39.9" fill="#3064a6"/><rect x="1450.2" y="1871.4" width="12.6" height="39.9" fill="#03a2a3"/><rect x="1462.5" y="1871.4" width="12.6" height="39.9" fill="#03a2a3"/><rect x="1474.7" y="1871.4" width="12.6" height="39.9" fill="#03a2a3"/><rect x="1487" y="1871.4" width="12.6" height="39.9" fill="#03a2a3"/><rect x="1499.2" y="1871.4" width="12.6" height="39.9" fill="#03a2a3"/><rect x="1511.5" y="1871.4" width="12.6" height="39.9" fill="#0e86ae"/><rect x="1523.7" y="1871.4" width="12.6" height="39.9" fill="#4b3184"/><rect x="1536" y="1871.4" width="12.6" height="39.9" fill="#4b3184"/><rect x="1548.2" y="1871.4" width="12.6" height="39.9" fill="#43489c"/><rect x="1560.5" y="1871.4" width="12.6" height="39.9" fill="#4b3184"/><rect x="1572.7" y="1871.4" width="12.6" height="39.9" fill="#4b3184"/><rect x="1585" y="1871.4" width="12.6" height="39.9" fill="#4b3184"/><rect x="1597.2" y="1871.4" width="12.6" height="39.9" fill="#4b3184"/><rect x="1609.5" y="1871.4" width="12.6" height="39.9" fill="#0e86ae"/><rect x="1621.7" y="1871.4" width="12.6" height="39.9" fill="#03a2a3"/><rect x="1634" y="1871.4" width="12.6" height="39.9" fill="#03a2a3"/><rect x="1646.2" y="1871.4" width="12.6" height="39.9" fill="#03a2a3"/><rect x="1658.5" y="1871.4" width="12.6" height="39.9" fill="#03a2a3"/><rect x="1670.7" y="1871.4" width="12.6" height="39.9" fill="#03a2a3"/><rect x="1683" y="1871.4" width="12.6" height="39.9" fill="#0e86ae"/><rect x="1695.2" y="1871.4" width="12.6" height="39.9" fill="#3064a6"/><rect x="1707.5" y="1871.4" width="12.6" height="39.9" fill="#03a2a3"/><rect x="1719.7" y="1871.4" width="12.6" height="39.9" fill="#03a2a3"/><rect x="1732" y="1871.4" width="12.6" height="39.9" fill="#3064a6"/><rect x="1744.2" y="1871.4" width="12.6" height="39.9" fill="#03a2a3"/><rect x="1756.5" y="1871.4" width="12.6" height="39.9" fill="#3064a6"/><rect x="1768.7" y="1871.4" width="12.6" height="39.9" fill="#0e86ae"/><rect x="1781" y="1871.4" width="12.6" height="39.9" fill="#3064a6"/><rect x="1793.2" y="1871.4" width="12.6" height="39.9" fill="#03a2a3"/><rect x="1805.5" y="1871.4" width="12.6" height="39.9" fill="#43489c"/><rect x="1817.7" y="1871.4" width="12.6" height="39.9" fill="#03a2a3"/><rect x="1830" y="1871.4" width="12.6" height="39.9" fill="#4b3184"/><rect x="1842.2" y="1871.4" width="12.6" height="39.9" fill="#4b3184"/><rect x="1854.5" y="1871.4" width="12.6" height="39.9" fill="#4b3184"/><rect x="1866.7" y="1871.4" width="12.6" height="39.9" fill="#4b3184"/><rect x="1879" y="1871.4" width="12.6" height="39.9" fill="#03a2a3"/><rect x="1891.2" y="1871.4" width="12.6" height="39.9" fill="#03a2a3"/><rect x="1903.5" y="1871.4" width="12.6" height="39.9" fill="#03a2a3"/><rect x="1915.7" y="1871.4" width="12.6" height="39.9" fill="#0e86ae"/><rect x="1928" y="1871.4" width="12.6" height="39.9" fill="#03a2a3"/><rect x="1082.7" y="1911" width="12.6" height="39.9" fill="#03a2a3"/><rect x="1095" y="1911" width="12.6" height="39.9" fill="#0e86ae"/><rect x="1107.2" y="1911" width="12.6" height="39.9" fill="#4b3184"/><rect x="1119.5" y="1911" width="12.6" height="39.9" fill="#4b3184"/><rect x="1131.7" y="1911" width="12.6" height="39.9" fill="#3064a6"/><rect x="1144" y="1911" width="12.6" height="39.9" fill="#43489c"/><rect x="1156.2" y="1911" width="12.6" height="39.9" fill="#43489c"/><rect x="1168.5" y="1911" width="12.6" height="39.9" fill="#43489c"/><rect x="1180.7" y="1911" width="12.6" height="39.9" fill="#0e86ae"/><rect x="1193" y="1911" width="12.6" height="39.9" fill="#03a2a3"/><rect x="1205.2" y="1911" width="12.6" height="39.9" fill="#03a2a3"/><rect x="1217.5" y="1911" width="12.6" height="39.9" fill="#4fb07f"/><rect x="1229.7" y="1911" width="12.6" height="39.9" fill="#3064a6"/><rect x="1242" y="1911" width="12.6" height="39.9" fill="#3064a6"/><rect x="1254.2" y="1911" width="12.6" height="39.9" fill="#03a2a3"/><rect x="1266.5" y="1911" width="12.6" height="39.9" fill="#03a2a3"/><rect x="1278.7" y="1911" width="12.6" height="39.9" fill="#0e86ae"/><rect x="1291" y="1911" width="12.6" height="39.9" fill="#03a2a3"/><rect x="1303.2" y="1911" width="12.6" height="39.9" fill="#3064a6"/><rect x="1315.5" y="1911" width="12.6" height="39.9" fill="#0e86ae"/><rect x="1327.7" y="1911" width="12.6" height="39.9" fill="#0e86ae"/><rect x="1340" y="1911" width="12.6" height="39.9" fill="#3064a6"/><rect x="1352.2" y="1911" width="12.6" height="39.9" fill="#0e86ae"/><rect x="1364.5" y="1911" width="12.6" height="39.9" fill="#03a2a3"/><rect x="1376.7" y="1911" width="12.6" height="39.9" fill="#3064a6"/><rect x="1389" y="1911" width="12.6" height="39.9" fill="#0e86ae"/><rect x="1401.2" y="1911" width="12.6" height="39.9" fill="#0e86ae"/><rect x="1413.5" y="1911" width="12.6" height="39.9" fill="#0e86ae"/><rect x="1425.7" y="1911" width="12.6" height="39.9" fill="#0e86ae"/><rect x="1438" y="1911" width="12.6" height="39.9" fill="#03a2a3"/><rect x="1450.2" y="1911" width="12.6" height="39.9" fill="#0e86ae"/><rect x="1462.5" y="1911" width="12.6" height="39.9" fill="#03a2a3"/><rect x="1474.7" y="1911" width="12.6" height="39.9" fill="#0e86ae"/><rect x="1487" y="1911" width="12.6" height="39.9" fill="#03a2a3"/><rect x="1499.2" y="1911" width="12.6" height="39.9" fill="#0e86ae"/><rect x="1511.5" y="1911" width="12.6" height="39.9" fill="#03a2a3"/><rect x="1523.7" y="1911" width="12.6" height="39.9" fill="#3064a6"/><rect x="1536" y="1911" width="12.6" height="39.9" fill="#43489c"/><rect x="1548.2" y="1911" width="12.6" height="39.9" fill="#43489c"/><rect x="1560.5" y="1911" width="12.6" height="39.9" fill="#03a2a3"/><rect x="1572.7" y="1911" width="12.6" height="39.9" fill="#43489c"/><rect x="1585" y="1911" width="12.6" height="39.9" fill="#43489c"/><rect x="1597.2" y="1911" width="12.6" height="39.9" fill="#43489c"/><rect x="1609.5" y="1911" width="12.6" height="39.9" fill="#03a2a3"/><rect x="1621.7" y="1911" width="12.6" height="39.9" fill="#0e86ae"/><rect x="1634" y="1911" width="12.6" height="39.9" fill="#0e86ae"/><rect x="1646.2" y="1911" width="12.6" height="39.9" fill="#3064a6"/><rect x="1658.5" y="1911" width="12.6" height="39.9" fill="#43489c"/><rect x="1670.7" y="1911" width="12.6" height="39.9" fill="#43489c"/><rect x="1683" y="1911" width="12.6" height="39.9" fill="#0e86ae"/><rect x="1695.2" y="1911" width="12.6" height="39.9" fill="#03a2a3"/><rect x="1707.5" y="1911" width="12.6" height="39.9" fill="#0e86ae"/><rect x="1719.7" y="1911" width="12.6" height="39.9" fill="#3064a6"/><rect x="1732" y="1911" width="12.6" height="39.9" fill="#0e86ae"/><rect x="1744.2" y="1911" width="12.6" height="39.9" fill="#0e86ae"/><rect x="1756.5" y="1911" width="12.6" height="39.9" fill="#3064a6"/><rect x="1768.7" y="1911" width="12.6" height="39.9" fill="#03a2a3"/><rect x="1781" y="1911" width="12.6" height="39.9" fill="#3064a6"/><rect x="1793.2" y="1911" width="12.6" height="39.9" fill="#0e86ae"/><rect x="1805.5" y="1911" width="12.6" height="39.9" fill="#03a2a3"/><rect x="1817.7" y="1911" width="12.6" height="39.9" fill="#43489c"/><rect x="1830" y="1911" width="12.6" height="39.9" fill="#43489c"/><rect x="1842.2" y="1911" width="12.6" height="39.9" fill="#43489c"/><rect x="1854.5" y="1911" width="12.6" height="39.9" fill="#43489c"/><rect x="1866.7" y="1911" width="12.6" height="39.9" fill="#3064a6"/><rect x="1879" y="1911" width="12.6" height="39.9" fill="#0e86ae"/><rect x="1891.2" y="1911" width="12.6" height="39.9" fill="#03a2a3"/><rect x="1903.5" y="1911" width="12.6" height="39.9" fill="#03a2a3"/><rect x="1915.7" y="1911" width="12.6" height="39.9" fill="#0e86ae"/><rect x="1928" y="1911" width="12.6" height="39.9" fill="#43489c"/><rect x="1082.7" y="1950.6" width="12.6" height="39.9" fill="#3064a6"/><rect x="1095" y="1950.6" width="12.6" height="39.9" fill="#3064a6"/><rect x="1107.2" y="1950.6" width="12.6" height="39.9" fill="#43489c"/><rect x="1119.5" y="1950.6" width="12.6" height="39.9" fill="#43489c"/><rect x="1131.7" y="1950.6" width="12.6" height="39.9" fill="#43489c"/><rect x="1144" y="1950.6" width="12.6" height="39.9" fill="#4b3184"/><rect x="1156.2" y="1950.6" width="12.6" height="39.9" fill="#4b3184"/><rect x="1168.5" y="1950.6" width="12.6" height="39.9" fill="#4b3184"/><rect x="1180.7" y="1950.6" width="12.6" height="39.9" fill="#43489c"/><rect x="1193" y="1950.6" width="12.6" height="39.9" fill="#03a2a3"/><rect x="1205.2" y="1950.6" width="12.6" height="39.9" fill="#4b3184"/><rect x="1217.5" y="1950.6" width="12.6" height="39.9" fill="#43489c"/><rect x="1229.7" y="1950.6" width="12.6" height="39.9" fill="#03a2a3"/><rect x="1242" y="1950.6" width="12.6" height="39.9" fill="#0e86ae"/><rect x="1254.2" y="1950.6" width="12.6" height="39.9" fill="#4b3184"/><rect x="1266.5" y="1950.6" width="12.6" height="39.9" fill="#4b3184"/><rect x="1278.7" y="1950.6" width="12.6" height="39.9" fill="#4b3184"/><rect x="1291" y="1950.6" width="12.6" height="39.9" fill="#0e86ae"/><rect x="1303.2" y="1950.6" width="12.6" height="39.9" fill="#03a2a3"/><rect x="1315.5" y="1950.6" width="12.6" height="39.9" fill="#1ca68d"/><rect x="1327.7" y="1950.6" width="12.6" height="39.9" fill="#3064a6"/><rect x="1340" y="1950.6" width="12.6" height="39.9" fill="#3064a6"/><rect x="1352.2" y="1950.6" width="12.6" height="39.9" fill="#0e86ae"/><rect x="1364.5" y="1950.6" width="12.6" height="39.9" fill="#43489c"/><rect x="1376.7" y="1950.6" width="12.6" height="39.9" fill="#3064a6"/><rect x="1389" y="1950.6" width="12.6" height="39.9" fill="#4b3184"/><rect x="1401.2" y="1950.6" width="12.6" height="39.9" fill="#43489c"/><rect x="1413.5" y="1950.6" width="12.6" height="39.9" fill="#1ca68d"/><rect x="1425.7" y="1950.6" width="12.6" height="39.9" fill="#0e86ae"/><rect x="1438" y="1950.6" width="12.6" height="39.9" fill="#0e86ae"/><rect x="1450.2" y="1950.6" width="12.6" height="39.9" fill="#3064a6"/><rect x="1462.5" y="1950.6" width="12.6" height="39.9" fill="#03a2a3"/><rect x="1474.7" y="1950.6" width="12.6" height="39.9" fill="#0e86ae"/><rect x="1487" y="1950.6" width="12.6" height="39.9" fill="#3064a6"/><rect x="1499.2" y="1950.6" width="12.6" height="39.9" fill="#03a2a3"/><rect x="1511.5" y="1950.6" width="12.6" height="39.9" fill="#43489c"/><rect x="1523.7" y="1950.6" width="12.6" height="39.9" fill="#4b3184"/><rect x="1536" y="1950.6" width="12.6" height="39.9" fill="#43489c"/><rect x="1548.2" y="1950.6" width="12.6" height="39.9" fill="#43489c"/><rect x="1560.5" y="1950.6" width="12.6" height="39.9" fill="#43489c"/><rect x="1572.7" y="1950.6" width="12.6" height="39.9" fill="#43489c"/><rect x="1585" y="1950.6" width="12.6" height="39.9" fill="#43489c"/><rect x="1597.2" y="1950.6" width="12.6" height="39.9" fill="#4b3184"/><rect x="1609.5" y="1950.6" width="12.6" height="39.9" fill="#4b3184"/><rect x="1621.7" y="1950.6" width="12.6" height="39.9" fill="#3064a6"/><rect x="1634" y="1950.6" width="12.6" height="39.9" fill="#43489c"/><rect x="1646.2" y="1950.6" width="12.6" height="39.9" fill="#43489c"/><rect x="1658.5" y="1950.6" width="12.6" height="39.9" fill="#43489c"/><rect x="1670.7" y="1950.6" width="12.6" height="39.9" fill="#43489c"/><rect x="1683" y="1950.6" width="12.6" height="39.9" fill="#4b3184"/><rect x="1695.2" y="1950.6" width="12.6" height="39.9" fill="#4b3184"/><rect x="1707.5" y="1950.6" width="12.6" height="39.9" fill="#43489c"/><rect x="1719.7" y="1950.6" width="12.6" height="39.9" fill="#43489c"/><rect x="1732" y="1950.6" width="12.6" height="39.9" fill="#4b3184"/><rect x="1744.2" y="1950.6" width="12.6" height="39.9" fill="#4b3184"/><rect x="1756.5" y="1950.6" width="12.6" height="39.9" fill="#43489c"/><rect x="1768.7" y="1950.6" width="12.6" height="39.9" fill="#3064a6"/><rect x="1781" y="1950.6" width="12.6" height="39.9" fill="#4b3184"/><rect x="1793.2" y="1950.6" width="12.6" height="39.9" fill="#43489c"/><rect x="1805.5" y="1950.6" width="12.6" height="39.9" fill="#43489c"/><rect x="1817.7" y="1950.6" width="12.6" height="39.9" fill="#03a2a3"/><rect x="1830" y="1950.6" width="12.6" height="39.9" fill="#43489c"/><rect x="1842.2" y="1950.6" width="12.6" height="39.9" fill="#4b3184"/><rect x="1854.5" y="1950.6" width="12.6" height="39.9" fill="#4b3184"/><rect x="1866.7" y="1950.6" width="12.6" height="39.9" fill="#43489c"/><rect x="1879" y="1950.6" width="12.6" height="39.9" fill="#3064a6"/><rect x="1891.2" y="1950.6" width="12.6" height="39.9" fill="#3064a6"/><rect x="1903.5" y="1950.6" width="12.6" height="39.9" fill="#43489c"/><rect x="1915.7" y="1950.6" width="12.6" height="39.9" fill="#43489c"/><rect x="1928" y="1950.6" width="12.6" height="39.9" fill="#43489c"/><rect x="1082.7" y="1990.2" width="12.6" height="39.9" fill="#3064a6"/><rect x="1095" y="1990.2" width="12.6" height="39.9" fill="#0e86ae"/><rect x="1107.2" y="1990.2" width="12.6" height="39.9" fill="#43489c"/><rect x="1119.5" y="1990.2" width="12.6" height="39.9" fill="#43489c"/><rect x="1131.7" y="1990.2" width="12.6" height="39.9" fill="#43489c"/><rect x="1144" y="1990.2" width="12.6" height="39.9" fill="#4b3184"/><rect x="1156.2" y="1990.2" width="12.6" height="39.9" fill="#4b3184"/><rect x="1168.5" y="1990.2" width="12.6" height="39.9" fill="#43489c"/><rect x="1180.7" y="1990.2" width="12.6" height="39.9" fill="#3064a6"/><rect x="1193" y="1990.2" width="12.6" height="39.9" fill="#3064a6"/><rect x="1205.2" y="1990.2" width="12.6" height="39.9" fill="#4b3184"/><rect x="1217.5" y="1990.2" width="12.6" height="39.9" fill="#43489c"/><rect x="1229.7" y="1990.2" width="12.6" height="39.9" fill="#03a2a3"/><rect x="1242" y="1990.2" width="12.6" height="39.9" fill="#3064a6"/><rect x="1254.2" y="1990.2" width="12.6" height="39.9" fill="#3064a6"/><rect x="1266.5" y="1990.2" width="12.6" height="39.9" fill="#3064a6"/><rect x="1278.7" y="1990.2" width="12.6" height="39.9" fill="#43489c"/><rect x="1291" y="1990.2" width="12.6" height="39.9" fill="#3064a6"/><rect x="1303.2" y="1990.2" width="12.6" height="39.9" fill="#03a2a3"/><rect x="1315.5" y="1990.2" width="12.6" height="39.9" fill="#03a2a3"/><rect x="1327.7" y="1990.2" width="12.6" height="39.9" fill="#0e86ae"/><rect x="1340" y="1990.2" width="12.6" height="39.9" fill="#3064a6"/><rect x="1352.2" y="1990.2" width="12.6" height="39.9" fill="#3064a6"/><rect x="1364.5" y="1990.2" width="12.6" height="39.9" fill="#3064a6"/><rect x="1376.7" y="1990.2" width="12.6" height="39.9" fill="#3064a6"/><rect x="1389" y="1990.2" width="12.6" height="39.9" fill="#43489c"/><rect x="1401.2" y="1990.2" width="12.6" height="39.9" fill="#3064a6"/><rect x="1413.5" y="1990.2" width="12.6" height="39.9" fill="#0e86ae"/><rect x="1425.7" y="1990.2" width="12.6" height="39.9" fill="#0e86ae"/><rect x="1438" y="1990.2" width="12.6" height="39.9" fill="#0e86ae"/><rect x="1450.2" y="1990.2" width="12.6" height="39.9" fill="#0e86ae"/><rect x="1462.5" y="1990.2" width="12.6" height="39.9" fill="#03a2a3"/><rect x="1474.7" y="1990.2" width="12.6" height="39.9" fill="#03a2a3"/><rect x="1487" y="1990.2" width="12.6" height="39.9" fill="#0e86ae"/><rect x="1499.2" y="1990.2" width="12.6" height="39.9" fill="#03a2a3"/><rect x="1511.5" y="1990.2" width="12.6" height="39.9" fill="#0e86ae"/><rect x="1523.7" y="1990.2" width="12.6" height="39.9" fill="#4b3184"/><rect x="1536" y="1990.2" width="12.6" height="39.9" fill="#43489c"/><rect x="1548.2" y="1990.2" width="12.6" height="39.9" fill="#43489c"/><rect x="1560.5" y="1990.2" width="12.6" height="39.9" fill="#43489c"/><rect x="1572.7" y="1990.2" width="12.6" height="39.9" fill="#43489c"/><rect x="1585" y="1990.2" width="12.6" height="39.9" fill="#4b3184"/><rect x="1597.2" y="1990.2" width="12.6" height="39.9" fill="#43489c"/><rect x="1609.5" y="1990.2" width="12.6" height="39.9" fill="#43489c"/><rect x="1621.7" y="1990.2" width="12.6" height="39.9" fill="#43489c"/><rect x="1634" y="1990.2" width="12.6" height="39.9" fill="#43489c"/><rect x="1646.2" y="1990.2" width="12.6" height="39.9" fill="#43489c"/><rect x="1658.5" y="1990.2" width="12.6" height="39.9" fill="#43489c"/><rect x="1670.7" y="1990.2" width="12.6" height="39.9" fill="#43489c"/><rect x="1683" y="1990.2" width="12.6" height="39.9" fill="#43489c"/><rect x="1695.2" y="1990.2" width="12.6" height="39.9" fill="#3064a6"/><rect x="1707.5" y="1990.2" width="12.6" height="39.9" fill="#43489c"/><rect x="1719.7" y="1990.2" width="12.6" height="39.9" fill="#3064a6"/><rect x="1732" y="1990.2" width="12.6" height="39.9" fill="#3064a6"/><rect x="1744.2" y="1990.2" width="12.6" height="39.9" fill="#3064a6"/><rect x="1756.5" y="1990.2" width="12.6" height="39.9" fill="#43489c"/><rect x="1768.7" y="1990.2" width="12.6" height="39.9" fill="#3064a6"/><rect x="1781" y="1990.2" width="12.6" height="39.9" fill="#43489c"/><rect x="1793.2" y="1990.2" width="12.6" height="39.9" fill="#43489c"/><rect x="1805.5" y="1990.2" width="12.6" height="39.9" fill="#3064a6"/><rect x="1817.7" y="1990.2" width="12.6" height="39.9" fill="#0e86ae"/><rect x="1830" y="1990.2" width="12.6" height="39.9" fill="#43489c"/><rect x="1842.2" y="1990.2" width="12.6" height="39.9" fill="#43489c"/><rect x="1854.5" y="1990.2" width="12.6" height="39.9" fill="#43489c"/><rect x="1866.7" y="1990.2" width="12.6" height="39.9" fill="#43489c"/><rect x="1879" y="1990.2" width="12.6" height="39.9" fill="#3064a6"/><rect x="1891.2" y="1990.2" width="12.6" height="39.9" fill="#3064a6"/><rect x="1903.5" y="1990.2" width="12.6" height="39.9" fill="#43489c"/><rect x="1915.7" y="1990.2" width="12.6" height="39.9" fill="#3064a6"/><rect x="1928" y="1990.2" width="12.6" height="39.9" fill="#43489c"/><rect x="1082.7" y="2029.8" width="12.6" height="39.9" fill="#dcdf3e"/><rect x="1095" y="2029.8" width="12.6" height="39.9" fill="#b3cf52"/><rect x="1107.2" y="2029.8" width="12.6" height="39.9" fill="#03a2a3"/><rect x="1119.5" y="2029.8" width="12.6" height="39.9" fill="#1ca68d"/><rect x="1131.7" y="2029.8" width="12.6" height="39.9" fill="#1ca68d"/><rect x="1144" y="2029.8" width="12.6" height="39.9" fill="#03a2a3"/><rect x="1156.2" y="2029.8" width="12.6" height="39.9" fill="#03a2a3"/><rect x="1168.5" y="2029.8" width="12.6" height="39.9" fill="#1ca68d"/><rect x="1180.7" y="2029.8" width="12.6" height="39.9" fill="#4fb07f"/><rect x="1193" y="2029.8" width="12.6" height="39.9" fill="#86bf6f"/><rect x="1205.2" y="2029.8" width="12.6" height="39.9" fill="#1ca68d"/><rect x="1217.5" y="2029.8" width="12.6" height="39.9" fill="#1ca68d"/><rect x="1229.7" y="2029.8" width="12.6" height="39.9" fill="#86bf6f"/><rect x="1242" y="2029.8" width="12.6" height="39.9" fill="#03a2a3"/><rect x="1254.2" y="2029.8" width="12.6" height="39.9" fill="#4fb07f"/><rect x="1266.5" y="2029.8" width="12.6" height="39.9" fill="#4fb07f"/><rect x="1278.7" y="2029.8" width="12.6" height="39.9" fill="#4fb07f"/><rect x="1291" y="2029.8" width="12.6" height="39.9" fill="#4fb07f"/><rect x="1303.2" y="2029.8" width="12.6" height="39.9" fill="#86bf6f"/><rect x="1315.5" y="2029.8" width="12.6" height="39.9" fill="#dcdf3e"/><rect x="1327.7" y="2029.8" width="12.6" height="39.9" fill="#b3cf52"/><rect x="1340" y="2029.8" width="12.6" height="39.9" fill="#03a2a3"/><rect x="1352.2" y="2029.8" width="12.6" height="39.9" fill="#03a2a3"/><rect x="1364.5" y="2029.8" width="12.6" height="39.9" fill="#4fb07f"/><rect x="1376.7" y="2029.8" width="12.6" height="39.9" fill="#03a2a3"/><rect x="1389" y="2029.8" width="12.6" height="39.9" fill="#1ca68d"/><rect x="1401.2" y="2029.8" width="12.6" height="39.9" fill="#4fb07f"/><rect x="1413.5" y="2029.8" width="12.6" height="39.9" fill="#b3cf52"/><rect x="1425.7" y="2029.8" width="12.6" height="39.9" fill="#b3cf52"/><rect x="1438" y="2029.8" width="12.6" height="39.9" fill="#f2902f"/><rect x="1450.2" y="2029.8" width="12.6" height="39.9" fill="#86bf6f"/><rect x="1462.5" y="2029.8" width="12.6" height="39.9" fill="#b3cf52"/><rect x="1474.7" y="2029.8" width="12.6" height="39.9" fill="#dcdf3e"/><rect x="1487" y="2029.8" width="12.6" height="39.9" fill="#b3cf52"/><rect x="1499.2" y="2029.8" width="12.6" height="39.9" fill="#dcdf3e"/><rect x="1511.5" y="2029.8" width="12.6" height="39.9" fill="#86bf6f"/><rect x="1523.7" y="2029.8" width="12.6" height="39.9" fill="#03a2a3"/><rect x="1536" y="2029.8" width="12.6" height="39.9" fill="#4fb07f"/><rect x="1548.2" y="2029.8" width="12.6" height="39.9" fill="#1ca68d"/><rect x="1560.5" y="2029.8" width="12.6" height="39.9" fill="#4fb07f"/><rect x="1572.7" y="2029.8" width="12.6" height="39.9" fill="#1ca68d"/><rect x="1585" y="2029.8" width="12.6" height="39.9" fill="#03a2a3"/><rect x="1597.2" y="2029.8" width="12.6" height="39.9" fill="#1ca68d"/><rect x="1609.5" y="2029.8" width="12.6" height="39.9" fill="#4fb07f"/><rect x="1621.7" y="2029.8" width="12.6" height="39.9" fill="#1ca68d"/><rect x="1634" y="2029.8" width="12.6" height="39.9" fill="#4fb07f"/><rect x="1646.2" y="2029.8" width="12.6" height="39.9" fill="#1ca68d"/><rect x="1658.5" y="2029.8" width="12.6" height="39.9" fill="#1ca68d"/><rect x="1670.7" y="2029.8" width="12.6" height="39.9" fill="#03a2a3"/><rect x="1683" y="2029.8" width="12.6" height="39.9" fill="#4fb07f"/><rect x="1695.2" y="2029.8" width="12.6" height="39.9" fill="#86bf6f"/><rect x="1707.5" y="2029.8" width="12.6" height="39.9" fill="#4fb07f"/><rect x="1719.7" y="2029.8" width="12.6" height="39.9" fill="#1ca68d"/><rect x="1732" y="2029.8" width="12.6" height="39.9" fill="#4fb07f"/><rect x="1744.2" y="2029.8" width="12.6" height="39.9" fill="#4fb07f"/><rect x="1756.5" y="2029.8" width="12.6" height="39.9" fill="#1ca68d"/><rect x="1768.7" y="2029.8" width="12.6" height="39.9" fill="#86bf6f"/><rect x="1781" y="2029.8" width="12.6" height="39.9" fill="#1ca68d"/><rect x="1793.2" y="2029.8" width="12.6" height="39.9" fill="#4fb07f"/><rect x="1805.5" y="2029.8" width="12.6" height="39.9" fill="#b3cf52"/><rect x="1817.7" y="2029.8" width="12.6" height="39.9" fill="#86bf6f"/><rect x="1830" y="2029.8" width="12.6" height="39.9" fill="#4fb07f"/><rect x="1842.2" y="2029.8" width="12.6" height="39.9" fill="#1ca68d"/><rect x="1854.5" y="2029.8" width="12.6" height="39.9" fill="#03a2a3"/><rect x="1866.7" y="2029.8" width="12.6" height="39.9" fill="#03a2a3"/><rect x="1879" y="2029.8" width="12.6" height="39.9" fill="#1ca68d"/><rect x="1891.2" y="2029.8" width="12.6" height="39.9" fill="#4fb07f"/><rect x="1903.5" y="2029.8" width="12.6" height="39.9" fill="#4fb07f"/><rect x="1915.7" y="2029.8" width="12.6" height="39.9" fill="#4fb07f"/><rect x="1928" y="2029.8" width="12.6" height="39.9" fill="#1ca68d"/><path d="M1095 1871.4V2069.4M1107.2 1871.4V2069.4M1119.5 1871.4V2069.4M1131.7 1871.4V2069.4M1144 1871.4V2069.4M1156.2 1871.4V2069.4M1168.5 1871.4V2069.4M1180.7 1871.4V2069.4M1193 1871.4V2069.4M1205.2 1871.4V2069.4M1217.5 1871.4V2069.4M1229.7 1871.4V2069.4M1242 1871.4V2069.4M1254.2 1871.4V2069.4M1266.5 1871.4V2069.4M1278.7 1871.4V2069.4M1291 1871.4V2069.4M1303.2 1871.4V2069.4M1315.5 1871.4V2069.4M1327.7 1871.4V2069.4M1340 1871.4V2069.4M1352.2 1871.4V2069.4M1364.5 1871.4V2069.4M1376.7 1871.4V2069.4M1389 1871.4V2069.4M1401.2 1871.4V2069.4M1413.5 1871.4V2069.4M1425.7 1871.4V2069.4M1438 1871.4V2069.4M1450.2 1871.4V2069.4M1462.5 1871.4V2069.4M1474.7 1871.4V2069.4M1487 1871.4V2069.4M1499.2 1871.4V2069.4M1511.5 1871.4V2069.4M1523.7 1871.4V2069.4M1536 1871.4V2069.4M1548.2 1871.4V2069.4M1560.5 1871.4V2069.4M1572.7 1871.4V2069.4M1585 1871.4V2069.4M1597.2 1871.4V2069.4M1609.5 1871.4V2069.4M1621.7 1871.4V2069.4M1634 1871.4V2069.4M1646.2 1871.4V2069.4M1658.5 1871.4V2069.4M1670.7 1871.4V2069.4M1683 1871.4V2069.4M1695.2 1871.4V2069.4M1707.5 1871.4V2069.4M1719.7 1871.4V2069.4M1732 1871.4V2069.4M1744.2 1871.4V2069.4M1756.5 1871.4V2069.4M1768.7 1871.4V2069.4M1781 1871.4V2069.4M1793.2 1871.4V2069.4M1805.5 1871.4V2069.4M1817.7 1871.4V2069.4M1830 1871.4V2069.4M1842.2 1871.4V2069.4M1854.5 1871.4V2069.4M1866.7 1871.4V2069.4M1879 1871.4V2069.4M1891.2 1871.4V2069.4M1903.5 1871.4V2069.4M1915.7 1871.4V2069.4M1928 1871.4V2069.4M1082.7 1911H1940.2M1082.7 1950.6H1940.2M1082.7 1990.2H1940.2M1082.7 2029.8H1940.2" stroke="#000" stroke-width="1.7" fill="none"/><rect x="1082.7" y="1871.4" width="857.5" height="198" fill="none" stroke="#000" stroke-width="2.6"/><line x1="1078.7" y1="1891.2" x2="1082.7" y2="1891.2" stroke="#000" stroke-width="1.8"/><text x="1074" y="1897.7" font-size="18.5" font-weight="bold" text-anchor="end">IL-1Ra</text><line x1="1078.7" y1="1930.8" x2="1082.7" y2="1930.8" stroke="#000" stroke-width="1.8"/><text x="1074" y="1937.3" font-size="18.5" font-weight="bold" text-anchor="end">IP-10</text><line x1="1078.7" y1="1970.4" x2="1082.7" y2="1970.4" stroke="#000" stroke-width="1.8"/><text x="1074" y="1976.9" font-size="18.5" font-weight="bold" text-anchor="end">PDGF-BB</text><line x1="1078.7" y1="2010" x2="1082.7" y2="2010" stroke="#000" stroke-width="1.8"/><text x="1074" y="2016.5" font-size="18.5" font-weight="bold" text-anchor="end">IL-9</text><line x1="1078.7" y1="2049.6" x2="1082.7" y2="2049.6" stroke="#000" stroke-width="1.8"/><text x="1074" y="2056.1" font-size="18.5" font-weight="bold" text-anchor="end">Rantes</text><rect x="1082.7" y="2069.4" width="109.5" height="43.3" fill="#c8cacc"/><rect x="1192.2" y="2069.4" width="221.4" height="43.3" fill="#8b8e91"/><rect x="1413.6" y="2069.4" width="389.7" height="43.3" fill="#efeb9b"/><rect x="1803.3" y="2069.4" width="136.9" height="43.3" fill="#8cbde5"/><path d="M1082.7 2069.4V2112.7H1940.2V2069.4" stroke="#231f20" stroke-width="2.2" fill="none"/><line x1="1082.7" y1="2069.4" x2="1940.2" y2="2069.4" stroke="#000" stroke-width="3"/><text x="1133.8" y="2101.3" font-size="23" font-weight="bold" text-anchor="middle">nFER</text><text x="1300.9" y="2101.3" font-size="23" font-weight="bold" text-anchor="middle">aFER</text><text x="1616.2" y="2101.3" font-size="23" font-weight="bold" text-anchor="middle">OAT</text><text x="1896.5" y="2101.3" font-size="23" font-weight="bold" text-anchor="middle">NOA</text><line x1="1192.2" y1="1872.4" x2="1192.2" y2="2112.7" stroke="#e5262f" stroke-width="2.6"/><line x1="1413.6" y1="1872.4" x2="1413.6" y2="2112.7" stroke="#e5262f" stroke-width="2.6"/><line x1="1803.3" y1="1872.4" x2="1803.3" y2="2112.7" stroke="#e5262f" stroke-width="2.6"/><defs><linearGradient id="cb" x1="0" x2="1" y1="0" y2="0"><stop offset="0" stop-color="#4a3a8e"/><stop offset="0.012" stop-color="#3f4d9e"/><stop offset="0.03" stop-color="#06a0a2"/><stop offset="0.14" stop-color="#0ba39a"/><stop offset="0.29" stop-color="#2ca98a"/><stop offset="0.43" stop-color="#64b67c"/><stop offset="0.57" stop-color="#8dc068"/><stop offset="0.71" stop-color="#a9c953"/><stop offset="0.86" stop-color="#c6d443"/><stop offset="1" stop-color="#ece332"/></linearGradient></defs><rect x="95.3" y="2449.3" width="372" height="29.4" fill="url(#cb)" stroke="#000" stroke-width="2.4"/><path d="M148.9 2449.3v5M148.9 2478.7v-5M201.7 2449.3v5M201.7 2478.7v-5M254.6 2449.3v5M254.6 2478.7v-5M307.5 2449.3v5M307.5 2478.7v-5M360.8 2449.3v5M360.8 2478.7v-5M413.7 2449.3v5M413.7 2478.7v-5" stroke="#000" stroke-width="2"/><text x="97.6" y="2501" font-size="17" text-anchor="middle">0</text><text x="150.5" y="2501" font-size="17" text-anchor="middle">10</text><text x="202.7" y="2501" font-size="17" text-anchor="middle">20</text><text x="255.7" y="2501" font-size="17" text-anchor="middle">30</text><text x="308" y="2501" font-size="17" text-anchor="middle">40</text><text x="361" y="2501" font-size="17" text-anchor="middle">50</text><text x="413.4" y="2501" font-size="17" text-anchor="middle">60</text><text x="465.3" y="2501" font-size="17" text-anchor="middle">70</text><rect x="1073.4" y="2138.3" width="363.8" height="31.1" fill="url(#cb)" stroke="#000" stroke-width="2.4"/><path d="M1147 2138.3v5M1147 2169.4v-5M1219.3 2138.3v5M1219.3 2169.4v-5M1291.5 2138.3v5M1291.5 2169.4v-5M1363.9 2138.3v5M1363.9 2169.4v-5" stroke="#000" stroke-width="2"/><text x="1075.9" y="2190.5" font-size="17" text-anchor="middle">0</text><text x="1146.4" y="2191.7" font-size="17" text-anchor="middle">1000</text><text x="1218.5" y="2191.7" font-size="17" text-anchor="middle">2000</text><text x="1291" y="2191.7" font-size="17" text-anchor="middle">3000</text><text x="1363.4" y="2191.7" font-size="17" text-anchor="middle">4000</text><text x="1433.6" y="2194.7" font-size="17" text-anchor="middle">5000</text></svg></body></html>
